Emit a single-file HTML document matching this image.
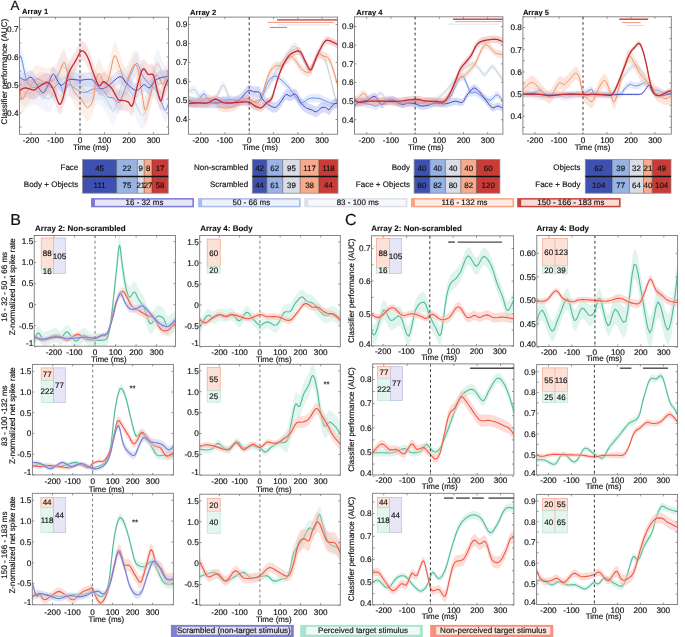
<!DOCTYPE html>
<html><head><meta charset="utf-8"><style>
html,body{margin:0;padding:0;background:#fff;width:685px;height:637px;overflow:hidden}
svg{display:block;font-family:"Liberation Sans", sans-serif;text-rendering:geometricPrecision;will-change:transform}
</style></head><body>
<svg width="685" height="637" viewBox="0 0 685 637" font-family='"Liberation Sans", sans-serif'>
<rect width="685" height="637" fill="#fff"/>
<defs><clipPath id="c19_17"><rect x="19.5" y="17.2" width="149.1" height="117.1"/></clipPath><clipPath id="c188_17"><rect x="188.4" y="17.1" width="149.2" height="117.1"/></clipPath><clipPath id="c354_16"><rect x="354.5" y="16.8" width="148.4" height="117.3"/></clipPath><clipPath id="c522_16"><rect x="522.9" y="16.8" width="148.4" height="117.3"/></clipPath><clipPath id="c34_235"><rect x="34.2" y="235.5" width="141.3" height="110.7"/></clipPath><clipPath id="c32_364"><rect x="32.4" y="364.4" width="141" height="110.5"/></clipPath><clipPath id="c32_493"><rect x="32.3" y="493.3" width="141.1" height="111.5"/></clipPath><clipPath id="c199_235"><rect x="199.7" y="235.5" width="140.6" height="110.9"/></clipPath><clipPath id="c199_364"><rect x="199.7" y="364.3" width="140.6" height="110.8"/></clipPath><clipPath id="c199_494"><rect x="199.7" y="494.2" width="140.6" height="110.9"/></clipPath><clipPath id="c371_235"><rect x="371.5" y="235.8" width="142.1" height="110.1"/></clipPath><clipPath id="c372_363"><rect x="372.6" y="363.9" width="141.3" height="111.1"/></clipPath><clipPath id="c372_493"><rect x="372.6" y="493.3" width="141.3" height="111.5"/></clipPath><clipPath id="c536_235"><rect x="536.8" y="235.5" width="140.8" height="111"/></clipPath><clipPath id="c536_364"><rect x="536.6" y="364.6" width="141" height="110.3"/></clipPath><clipPath id="c536_494"><rect x="536.6" y="494.4" width="141" height="110.1"/></clipPath></defs>
<text x="10.6" y="10.2" font-size="13.5" text-anchor="start" font-weight="normal" fill="#111" stroke="#111" stroke-width="0.16" >A</text>
<text x="22" y="14.4" font-size="7.6" text-anchor="start" font-weight="bold" fill="#111" stroke="#111" stroke-width="0.1" >Array 1</text>
<text x="190" y="15.1" font-size="7.6" text-anchor="start" font-weight="bold" fill="#111" stroke="#111" stroke-width="0.1" >Array 2</text>
<text x="356.3" y="14.6" font-size="7.6" text-anchor="start" font-weight="bold" fill="#111" stroke="#111" stroke-width="0.1" >Array 4</text>
<text x="522.9" y="14.6" font-size="7.6" text-anchor="start" font-weight="bold" fill="#111" stroke="#111" stroke-width="0.1" >Array 5</text>
<text x="0" y="0" font-size="8.1" text-anchor="middle" fill="#111" stroke="#111" stroke-width="0.16" transform="translate(6.6 71.6) rotate(-90)">Classifier performance (AUC)</text>
<g clip-path="url(#c19_17)">
<path d="M18.8 71.0L20.0 72.8L21.8 75.4L23.9 77.9L26.1 79.4L28.3 79.2L30.6 78.0L33.2 76.8L35.9 76.6L39.1 78.4L42.6 81.5L46.0 84.2L48.9 85.0L51.0 83.2L52.6 79.7L54.0 75.4L55.5 71.0L57.1 65.9L58.7 59.9L60.4 54.8L62.1 52.0L64.0 52.6L66.0 55.6L68.0 59.4L70.2 62.6L72.5 64.9L75.0 66.9L77.5 69.0L80.0 71.0L82.5 73.4L84.9 75.9L87.3 78.1L89.8 79.4L92.2 79.1L94.7 77.6L97.1 76.4L99.6 76.6L102.2 79.1L104.8 83.1L107.3 87.3L109.4 90.6L110.9 93.4L111.9 96.0L112.9 97.4L114.3 96.2L116.2 90.6L118.4 81.8L120.6 73.2L122.9 68.2L125.0 68.0L127.0 70.6L129.1 74.9L131.4 79.4L134.1 85.3L137.0 92.7L139.9 99.1L142.5 101.8L144.6 99.5L146.4 93.9L148.1 86.6L149.8 79.4L151.6 71.5L153.4 62.4L155.2 54.3L156.9 49.7L158.6 50.1L160.3 53.8L161.8 58.7L163.3 62.6L164.7 65.2L166.1 67.6L167.4 69.6L168.2 71.0L168.2 99.0L167.4 97.6L166.1 95.6L164.7 93.2L163.3 90.6L161.8 86.7L160.3 81.8L158.6 78.1L156.9 77.7L155.2 82.3L153.4 90.4L151.6 99.5L149.8 107.4L148.1 114.6L146.4 121.9L144.6 127.5L142.5 129.8L139.9 127.1L137.0 120.7L134.1 113.3L131.4 107.4L129.1 102.9L127.0 98.7L125.0 96.0L122.9 96.2L120.6 101.2L118.4 109.8L116.2 118.6L114.3 124.2L112.9 125.4L111.9 124.0L110.9 121.4L109.4 118.6L107.3 115.3L104.8 111.1L102.2 107.1L99.6 104.6L97.1 104.4L94.7 105.7L92.2 107.1L89.8 107.4L87.3 106.1L84.9 103.9L82.5 101.4L80.0 99.0L77.5 97.0L75.0 94.9L72.5 92.9L70.2 90.6L68.0 87.4L66.0 83.6L64.0 80.6L62.1 80.0L60.4 82.8L58.7 87.9L57.1 93.9L55.5 99.0L54.0 103.4L52.6 107.7L51.0 111.2L48.9 113.0L46.0 112.2L42.6 109.5L39.1 106.4L35.9 104.6L33.2 104.8L30.6 106.0L28.3 107.2L26.1 107.4L23.9 105.9L21.8 103.4L20.0 100.8L18.8 99.0Z" fill="#dfe6f2" fill-opacity="0.4" stroke="none"/>
<path d="M18.8 85.0L20.0 86.8L21.8 89.4L23.9 91.9L26.1 93.4L28.3 93.2L30.6 92.0L33.2 90.8L35.9 90.6L39.1 92.4L42.6 95.5L46.0 98.2L48.9 99.0L51.0 97.2L52.6 93.7L54.0 89.4L55.5 85.0L57.1 79.9L58.7 73.9L60.4 68.8L62.1 66.0L64.0 66.6L66.0 69.6L68.0 73.4L70.2 76.6L72.5 78.9L75.0 80.9L77.5 83.0L80.0 85.0L82.5 87.4L84.9 89.9L87.3 92.1L89.8 93.4L92.2 93.1L94.7 91.7L97.1 90.4L99.6 90.6L102.2 93.1L104.8 97.1L107.3 101.3L109.4 104.6L110.9 107.4L111.9 110.0L112.9 111.4L114.3 110.2L116.2 104.6L118.4 95.9L120.6 87.2L122.9 82.2L125.0 82.0L127.0 84.7L129.1 88.9L131.4 93.4L134.1 99.3L137.0 106.7L139.9 113.1L142.5 115.8L144.6 113.5L146.4 107.9L148.1 100.6L149.8 93.4L151.6 85.5L153.4 76.4L155.2 68.3L156.9 63.7L158.6 64.1L160.3 67.8L161.8 72.7L163.3 76.6L164.7 79.2L166.1 81.6L167.4 83.6L168.2 85.0" fill="none" stroke="#c4cbda" stroke-width="0.9" stroke-opacity="1.0" stroke-linejoin="round" stroke-linecap="round"/>
<path d="M18.8 43.0L19.3 43.7L20.1 44.7L21.0 46.2L21.9 48.6L22.8 52.3L23.7 57.1L24.7 62.0L25.6 66.0L26.5 68.7L27.4 70.8L28.3 72.4L29.3 73.8L30.4 75.0L31.5 76.0L32.7 76.5L33.9 76.6L35.3 75.9L36.8 74.4L38.3 73.0L39.8 72.1L41.3 72.0L42.8 72.3L44.3 72.9L45.9 73.5L47.7 74.3L49.6 75.4L51.5 76.3L53.3 76.6L55.0 75.7L56.6 74.0L58.1 72.4L59.4 72.1L60.6 73.9L61.6 77.1L62.6 80.2L63.6 81.6L64.7 80.6L65.8 78.0L67.0 75.2L68.2 73.5L69.6 73.5L71.1 74.3L72.6 75.5L74.1 76.6L75.6 77.5L77.1 78.6L78.5 79.5L80.0 80.2L81.4 80.7L82.9 81.1L84.3 81.2L85.9 81.1L87.5 80.5L89.2 79.6L91.0 78.6L93.0 78.0L95.2 77.6L97.6 77.3L100.0 77.4L102.0 78.0L103.7 79.5L105.2 81.7L106.5 83.9L107.9 85.6L109.4 86.3L110.9 86.5L112.4 86.5L113.8 87.0L115.2 88.3L116.6 90.0L117.9 91.4L119.2 91.4L120.5 89.7L121.7 86.6L123.0 83.0L124.3 79.4L125.7 75.8L127.2 72.0L128.7 68.2L130.2 64.6L131.9 60.7L133.6 56.6L135.3 53.4L136.8 52.0L138.2 53.1L139.4 56.2L140.7 60.0L142.0 63.2L143.4 65.6L144.9 68.0L146.5 70.1L148.1 72.1L149.9 73.6L151.8 74.8L153.7 76.1L155.5 78.0L157.1 81.0L158.8 84.6L160.3 88.3L161.6 91.4L162.7 94.2L163.6 96.8L164.4 98.8L165.3 99.6L166.2 98.5L167.2 96.0L168.1 93.3L168.7 91.4L168.7 113.8L168.1 115.7L167.2 118.4L166.2 120.9L165.3 122.0L164.4 121.2L163.6 119.2L162.7 116.6L161.6 113.8L160.3 110.7L158.8 107.0L157.1 103.4L155.5 100.4L153.7 98.5L151.8 97.2L149.9 96.0L148.1 94.5L146.5 92.5L144.9 90.4L143.4 88.0L142.0 85.6L140.7 82.4L139.4 78.6L138.2 75.5L136.8 74.4L135.3 75.8L133.6 79.0L131.9 83.1L130.2 87.0L128.7 90.6L127.2 94.4L125.7 98.2L124.3 101.8L123.0 105.4L121.7 109.0L120.5 112.1L119.2 113.8L117.9 113.8L116.6 112.4L115.2 110.7L113.8 109.4L112.4 108.9L110.9 108.9L109.4 108.7L107.9 108.0L106.5 106.3L105.2 104.1L103.7 101.9L102.0 100.4L100.0 99.8L97.6 99.7L95.2 100.0L93.0 100.4L91.0 101.0L89.2 102.0L87.5 102.9L85.9 103.5L84.3 103.6L82.9 103.5L81.4 103.1L80.0 102.6L78.5 101.9L77.1 101.0L75.6 99.9L74.1 99.0L72.6 97.9L71.1 96.7L69.6 95.9L68.2 95.9L67.0 97.6L65.8 100.4L64.7 103.0L63.6 104.0L62.6 102.6L61.6 99.5L60.6 96.3L59.4 94.5L58.1 94.8L56.6 96.4L55.0 98.1L53.3 99.0L51.5 98.7L49.6 97.8L47.7 96.7L45.9 95.9L44.3 95.3L42.8 94.7L41.3 94.4L39.8 94.5L38.3 95.4L36.8 96.8L35.3 98.3L33.9 99.0L32.7 98.9L31.5 98.4L30.4 97.4L29.3 96.2L28.3 94.8L27.4 93.2L26.5 91.1L25.6 88.4L24.7 84.4L23.7 79.5L22.8 74.7L21.9 71.0L21.0 68.6L20.1 67.1L19.3 66.1L18.8 65.4Z" fill="#c5d3f7" fill-opacity="0.3" stroke="none"/>
<path d="M18.8 54.2L19.3 54.9L20.1 55.9L21.0 57.4L21.9 59.8L22.8 63.5L23.7 68.3L24.7 73.2L25.6 77.2L26.5 79.9L27.4 82.0L28.3 83.6L29.3 85.0L30.4 86.2L31.5 87.2L32.7 87.7L33.9 87.8L35.3 87.1L36.8 85.6L38.3 84.2L39.8 83.3L41.3 83.2L42.8 83.5L44.3 84.1L45.9 84.7L47.7 85.5L49.6 86.6L51.5 87.5L53.3 87.8L55.0 86.9L56.6 85.2L58.1 83.6L59.4 83.3L60.6 85.1L61.6 88.3L62.6 91.4L63.6 92.8L64.7 91.8L65.8 89.2L67.0 86.4L68.2 84.7L69.6 84.7L71.1 85.5L72.6 86.7L74.1 87.8L75.6 88.7L77.1 89.8L78.5 90.7L80.0 91.4L81.4 91.9L82.9 92.3L84.3 92.4L85.9 92.3L87.5 91.7L89.2 90.8L91.0 89.8L93.0 89.2L95.2 88.8L97.6 88.5L100.0 88.6L102.0 89.2L103.7 90.7L105.2 92.9L106.5 95.1L107.9 96.8L109.4 97.5L110.9 97.7L112.4 97.7L113.8 98.2L115.2 99.5L116.6 101.2L117.9 102.6L119.2 102.6L120.5 100.9L121.7 97.8L123.0 94.2L124.3 90.6L125.7 87.0L127.2 83.2L128.7 79.4L130.2 75.8L131.9 71.9L133.6 67.8L135.3 64.6L136.8 63.2L138.2 64.3L139.4 67.4L140.7 71.2L142.0 74.4L143.4 76.8L144.9 79.2L146.5 81.3L148.1 83.3L149.9 84.8L151.8 86.0L153.7 87.3L155.5 89.2L157.1 92.2L158.8 95.8L160.3 99.5L161.6 102.6L162.7 105.4L163.6 108.0L164.4 110.0L165.3 110.8L166.2 109.7L167.2 107.2L168.1 104.5L168.7 102.6" fill="none" stroke="#5b8cf2" stroke-width="1.0" stroke-opacity="1.0" stroke-linejoin="round" stroke-linecap="round"/>
<path d="M18.8 67.6L19.3 71.3L20.1 76.7L21.0 81.9L21.9 85.0L22.9 85.1L24.0 83.3L25.1 80.7L26.3 78.3L27.8 76.1L29.4 73.7L31.0 71.3L32.5 69.3L33.6 67.7L34.6 66.3L35.6 65.3L36.9 64.8L38.5 65.1L40.3 66.0L42.2 67.1L44.2 67.6L46.4 67.7L48.8 67.6L51.2 67.2L53.3 66.2L55.1 64.7L56.6 62.7L58.1 60.4L59.4 58.1L60.7 55.4L61.8 52.3L62.9 49.6L63.8 48.3L64.7 48.7L65.3 50.2L66.0 52.4L66.8 55.0L67.6 58.2L68.5 62.0L69.4 65.8L70.4 69.3L71.6 72.3L72.9 75.0L74.2 77.5L75.6 79.7L77.0 81.4L78.5 82.8L80.0 84.0L81.5 85.6L82.9 87.8L84.4 90.5L85.9 92.7L87.3 93.7L88.8 93.1L90.4 91.3L91.8 88.8L93.0 85.6L93.9 81.2L94.6 75.8L95.2 70.4L95.9 66.2L96.8 63.3L97.6 61.0L98.5 59.6L99.6 59.5L100.8 61.5L102.2 65.3L103.7 68.9L105.0 70.7L106.1 70.2L107.2 68.2L108.3 65.3L109.4 61.8L110.6 56.8L111.9 50.4L113.2 44.6L114.5 41.6L115.9 42.3L117.2 45.5L118.6 49.7L119.9 53.6L121.2 57.5L122.6 61.9L123.8 65.6L125.1 67.6L126.3 67.2L127.5 65.0L128.6 62.1L129.7 59.5L130.9 57.0L132.0 54.3L133.1 51.9L134.1 50.6L135.1 50.2L136.0 50.5L136.8 52.0L137.8 55.0L139.0 60.7L140.2 68.3L141.4 76.3L142.5 82.8L143.3 87.7L144.0 92.0L144.6 95.0L145.4 96.2L146.4 95.2L147.5 92.3L148.6 88.4L149.8 84.2L151.1 79.1L152.4 72.9L153.8 67.2L155.0 63.2L156.0 61.4L156.9 61.1L157.7 61.7L158.6 62.6L159.7 64.5L160.8 67.4L161.9 69.9L163.1 70.7L164.4 68.7L165.9 64.9L167.3 60.9L168.2 58.1L168.2 86.1L167.3 88.9L165.9 92.9L164.4 96.7L163.1 98.7L161.9 97.9L160.8 95.4L159.7 92.5L158.6 90.6L157.7 89.7L156.9 89.1L156.0 89.4L155.0 91.2L153.8 95.2L152.4 100.9L151.1 107.1L149.8 112.2L148.6 116.4L147.5 120.3L146.4 123.2L145.4 124.2L144.6 123.0L144.0 120.0L143.3 115.7L142.5 110.8L141.4 104.3L140.2 96.3L139.0 88.7L137.8 83.0L136.8 80.0L136.0 78.5L135.1 78.2L134.1 78.6L133.1 79.9L132.0 82.3L130.9 85.0L129.7 87.5L128.6 90.1L127.5 93.0L126.3 95.2L125.1 95.6L123.8 93.6L122.6 89.9L121.2 85.5L119.9 81.6L118.6 77.7L117.2 73.5L115.9 70.3L114.5 69.6L113.2 72.6L111.9 78.4L110.6 84.8L109.4 89.8L108.3 93.3L107.2 96.2L106.1 98.2L105.0 98.7L103.7 96.9L102.2 93.3L100.8 89.5L99.6 87.5L98.5 87.6L97.6 89.0L96.8 91.3L95.9 94.2L95.2 98.4L94.6 103.8L93.9 109.2L93.0 113.6L91.8 116.8L90.4 119.3L88.8 121.1L87.3 121.7L85.9 120.7L84.4 118.5L82.9 115.8L81.5 113.6L80.0 112.0L78.5 110.8L77.0 109.4L75.6 107.7L74.2 105.5L72.9 103.0L71.6 100.3L70.4 97.3L69.4 93.8L68.5 90.0L67.6 86.2L66.8 83.0L66.0 80.4L65.3 78.2L64.7 76.7L63.8 76.3L62.9 77.6L61.8 80.3L60.7 83.4L59.4 86.1L58.1 88.4L56.6 90.7L55.1 92.7L53.3 94.2L51.2 95.2L48.8 95.6L46.4 95.7L44.2 95.6L42.2 95.1L40.3 94.0L38.5 93.1L36.9 92.8L35.6 93.3L34.6 94.3L33.6 95.7L32.5 97.3L31.0 99.3L29.4 101.7L27.8 104.1L26.3 106.3L25.1 108.7L24.0 111.3L22.9 113.1L21.9 113.0L21.0 109.9L20.1 104.7L19.3 99.3L18.8 95.6Z" fill="#f8c8b0" fill-opacity="0.28" stroke="none"/>
<path d="M18.8 81.6L19.3 85.3L20.1 90.7L21.0 95.9L21.9 99.0L22.9 99.1L24.0 97.3L25.1 94.7L26.3 92.3L27.8 90.1L29.4 87.7L31.0 85.3L32.5 83.3L33.6 81.7L34.6 80.3L35.6 79.3L36.9 78.8L38.5 79.1L40.3 80.0L42.2 81.1L44.2 81.6L46.4 81.7L48.8 81.6L51.2 81.2L53.3 80.2L55.1 78.7L56.6 76.7L58.1 74.4L59.4 72.1L60.7 69.4L61.8 66.3L62.9 63.6L63.8 62.3L64.7 62.7L65.3 64.2L66.0 66.4L66.8 69.0L67.6 72.2L68.5 76.0L69.4 79.8L70.4 83.3L71.6 86.3L72.9 89.0L74.2 91.5L75.6 93.7L77.0 95.4L78.5 96.8L80.0 98.0L81.5 99.6L82.9 101.8L84.4 104.5L85.9 106.7L87.3 107.7L88.8 107.1L90.4 105.3L91.8 102.8L93.0 99.6L93.9 95.2L94.6 89.8L95.2 84.4L95.9 80.2L96.8 77.3L97.6 75.0L98.5 73.6L99.6 73.5L100.8 75.5L102.2 79.3L103.7 82.9L105.0 84.7L106.1 84.2L107.2 82.2L108.3 79.3L109.4 75.8L110.6 70.8L111.9 64.4L113.2 58.6L114.5 55.6L115.9 56.3L117.2 59.5L118.6 63.7L119.9 67.6L121.2 71.5L122.6 75.9L123.8 79.6L125.1 81.6L126.3 81.2L127.5 79.0L128.6 76.1L129.7 73.5L130.9 71.0L132.0 68.3L133.1 65.9L134.1 64.6L135.1 64.2L136.0 64.5L136.8 66.0L137.8 69.0L139.0 74.7L140.2 82.3L141.4 90.3L142.5 96.8L143.3 101.7L144.0 106.0L144.6 109.0L145.4 110.2L146.4 109.2L147.5 106.3L148.6 102.4L149.8 98.2L151.1 93.1L152.4 86.9L153.8 81.2L155.0 77.2L156.0 75.4L156.9 75.1L157.7 75.7L158.6 76.6L159.7 78.5L160.8 81.4L161.9 83.9L163.1 84.7L164.4 82.7L165.9 78.9L167.3 74.9L168.2 72.1" fill="none" stroke="#f38e66" stroke-width="1.0" stroke-opacity="1.0" stroke-linejoin="round" stroke-linecap="round"/>
<path d="M18.8 69.6L19.9 70.4L21.4 71.6L23.2 72.7L24.9 73.2L26.4 72.7L28.0 71.5L29.5 70.3L31.0 70.2L32.5 71.3L33.9 73.2L35.4 75.5L36.9 77.7L38.4 80.1L40.0 82.8L41.5 84.9L43.0 85.8L44.4 85.0L45.6 83.0L46.9 80.3L48.2 77.7L49.4 74.7L50.6 71.2L51.9 68.3L53.3 67.1L54.9 68.5L56.6 71.8L58.4 75.4L59.9 77.7L61.1 78.3L62.2 77.9L63.2 77.1L64.3 76.3L65.5 75.4L66.6 74.2L68.0 73.1L69.7 72.4L72.0 72.3L74.7 72.6L77.5 73.0L80.0 73.2L82.1 73.1L84.0 72.8L85.7 72.5L87.3 72.4L88.8 72.3L90.2 72.3L91.5 72.5L93.0 73.2L94.7 75.0L96.5 77.5L98.4 79.9L100.3 81.4L102.1 81.7L103.8 81.3L105.7 80.4L107.9 79.1L110.7 76.9L114.0 73.8L117.2 71.0L119.9 69.6L121.9 70.1L123.4 71.9L124.8 74.2L126.5 76.3L128.8 78.4L131.4 80.7L134.0 82.7L136.3 83.6L138.4 82.8L140.3 80.9L142.0 78.9L143.7 77.7L145.3 78.1L146.7 79.4L148.1 80.6L149.6 80.8L151.0 79.6L152.4 77.4L153.9 75.1L155.5 73.2L157.3 72.1L159.3 71.3L161.3 70.6L163.1 70.2L164.7 69.8L166.3 69.7L167.7 69.6L168.7 69.6L168.7 83.6L167.7 83.6L166.3 83.7L164.7 83.8L163.1 84.2L161.3 84.6L159.3 85.3L157.3 86.1L155.5 87.2L153.9 89.1L152.4 91.4L151.0 93.6L149.6 94.8L148.1 94.6L146.7 93.4L145.3 92.1L143.7 91.7L142.0 92.9L140.3 94.9L138.4 96.8L136.3 97.6L134.0 96.7L131.4 94.7L128.8 92.4L126.5 90.3L124.8 88.2L123.4 85.9L121.9 84.1L119.9 83.6L117.2 85.0L114.0 87.8L110.7 90.9L107.9 93.1L105.7 94.4L103.8 95.3L102.1 95.7L100.3 95.4L98.4 93.9L96.5 91.5L94.7 89.0L93.0 87.2L91.5 86.5L90.2 86.3L88.8 86.3L87.3 86.4L85.7 86.5L84.0 86.8L82.1 87.1L80.0 87.2L77.5 87.0L74.7 86.6L72.0 86.3L69.7 86.4L68.0 87.1L66.6 88.2L65.5 89.4L64.3 90.3L63.2 91.1L62.2 91.9L61.1 92.3L59.9 91.7L58.4 89.4L56.6 85.8L54.9 82.5L53.3 81.1L51.9 82.3L50.6 85.2L49.4 88.7L48.2 91.7L46.9 94.3L45.6 97.0L44.4 99.0L43.0 99.8L41.5 98.9L40.0 96.8L38.4 94.1L36.9 91.7L35.4 89.5L33.9 87.2L32.5 85.3L31.0 84.2L29.5 84.3L28.0 85.5L26.4 86.7L24.9 87.2L23.2 86.7L21.4 85.6L19.9 84.4L18.8 83.6Z" fill="#a8b0e8" fill-opacity="0.3" stroke="none"/>
<path d="M18.8 76.6L19.9 77.4L21.4 78.6L23.2 79.7L24.9 80.2L26.4 79.7L28.0 78.5L29.5 77.3L31.0 77.2L32.5 78.3L33.9 80.2L35.4 82.5L36.9 84.7L38.4 87.1L40.0 89.8L41.5 91.9L43.0 92.8L44.4 92.0L45.6 90.0L46.9 87.3L48.2 84.7L49.4 81.7L50.6 78.2L51.9 75.3L53.3 74.1L54.9 75.5L56.6 78.8L58.4 82.4L59.9 84.7L61.1 85.3L62.2 84.9L63.2 84.1L64.3 83.3L65.5 82.4L66.6 81.2L68.0 80.1L69.7 79.4L72.0 79.3L74.7 79.6L77.5 80.0L80.0 80.2L82.1 80.1L84.0 79.8L85.7 79.5L87.3 79.4L88.8 79.3L90.2 79.3L91.5 79.5L93.0 80.2L94.7 82.0L96.5 84.5L98.4 86.9L100.3 88.4L102.1 88.7L103.8 88.3L105.7 87.4L107.9 86.1L110.7 83.9L114.0 80.8L117.2 78.0L119.9 76.6L121.9 77.1L123.4 78.9L124.8 81.2L126.5 83.3L128.8 85.4L131.4 87.7L134.0 89.7L136.3 90.6L138.4 89.8L140.3 87.9L142.0 85.9L143.7 84.7L145.3 85.1L146.7 86.4L148.1 87.6L149.6 87.8L151.0 86.6L152.4 84.4L153.9 82.1L155.5 80.2L157.3 79.1L159.3 78.3L161.3 77.6L163.1 77.2L164.7 76.8L166.3 76.7L167.7 76.6L168.7 76.6" fill="none" stroke="#3b4cc0" stroke-width="1.0" stroke-opacity="1.0" stroke-linejoin="round" stroke-linecap="round"/>
<path d="M18.8 81.6L19.8 80.8L21.2 79.7L23.0 78.6L24.9 78.0L27.0 78.3L29.5 79.1L31.9 79.9L33.9 80.2L35.3 79.9L36.1 79.1L37.0 78.2L38.4 77.2L40.4 75.9L42.8 74.3L45.3 73.0L47.4 72.7L49.1 73.4L50.5 74.8L51.9 76.9L53.3 79.4L54.8 83.2L56.4 88.0L58.0 92.3L59.4 94.5L60.6 94.2L61.7 92.1L62.8 89.0L63.8 85.3L64.9 80.7L65.9 75.2L66.9 69.5L68.2 64.6L69.9 60.6L71.8 57.2L73.8 54.1L75.6 51.1L77.2 48.0L78.6 44.9L80.0 42.4L81.5 41.0L82.9 41.1L84.4 42.2L85.9 44.2L87.3 46.6L88.8 49.9L90.2 54.0L91.6 58.3L93.0 62.3L94.5 66.2L96.0 70.3L97.5 73.7L98.9 75.8L100.1 75.8L101.3 74.4L102.4 72.7L103.5 71.8L104.6 72.1L105.7 72.9L106.8 73.9L107.9 74.9L109.0 75.8L110.0 76.7L111.1 77.8L112.3 79.4L113.7 81.8L115.3 84.8L116.8 87.7L118.2 89.8L119.5 90.6L120.6 90.7L121.7 90.6L122.9 90.6L124.1 90.9L125.5 91.1L126.8 91.5L128.0 92.0L129.2 93.3L130.2 95.2L131.3 96.4L132.4 95.6L133.7 92.1L134.9 86.5L136.3 80.3L137.6 74.9L138.9 70.2L140.3 65.5L141.6 61.6L143.0 59.2L144.3 59.2L145.6 60.9L146.8 63.1L148.1 64.6L149.4 64.7L150.8 64.3L152.1 64.1L153.3 65.1L154.3 67.8L155.2 71.6L156.0 75.7L156.9 79.4L157.9 83.1L158.9 87.0L159.9 90.0L160.8 91.2L161.8 89.5L162.7 85.8L163.6 81.5L164.5 78.0L165.5 75.4L166.6 73.0L167.5 71.0L168.2 69.6L168.2 89.2L167.5 90.6L166.6 92.6L165.5 95.0L164.5 97.6L163.6 101.1L162.7 105.4L161.8 109.1L160.8 110.8L159.9 109.6L158.9 106.6L157.9 102.7L156.9 99.0L156.0 95.3L155.2 91.2L154.3 87.4L153.3 84.7L152.1 83.7L150.8 83.9L149.4 84.3L148.1 84.2L146.8 82.7L145.6 80.5L144.3 78.8L143.0 78.8L141.6 81.2L140.3 85.1L138.9 89.8L137.6 94.5L136.3 99.9L134.9 106.1L133.7 111.7L132.4 115.2L131.3 116.0L130.2 114.8L129.2 112.9L128.0 111.6L126.8 111.1L125.5 110.7L124.1 110.5L122.9 110.2L121.7 110.2L120.6 110.3L119.5 110.2L118.2 109.4L116.8 107.3L115.3 104.4L113.7 101.4L112.3 99.0L111.1 97.4L110.0 96.3L109.0 95.4L107.9 94.5L106.8 93.5L105.7 92.5L104.6 91.7L103.5 91.4L102.4 92.3L101.3 94.0L100.1 95.4L98.9 95.4L97.5 93.3L96.0 89.9L94.5 85.8L93.0 81.9L91.6 77.9L90.2 73.6L88.8 69.5L87.3 66.2L85.9 63.8L84.4 61.8L82.9 60.7L81.5 60.6L80.0 62.0L78.6 64.5L77.2 67.6L75.6 70.7L73.8 73.7L71.8 76.8L69.9 80.2L68.2 84.2L66.9 89.1L65.9 94.8L64.9 100.3L63.8 104.9L62.8 108.6L61.7 111.7L60.6 113.8L59.4 114.1L58.0 111.9L56.4 107.6L54.8 102.8L53.3 99.0L51.9 96.5L50.5 94.4L49.1 93.0L47.4 92.3L45.3 92.6L42.8 93.9L40.4 95.5L38.4 96.8L37.0 97.8L36.1 98.7L35.3 99.5L33.9 99.8L31.9 99.5L29.5 98.7L27.0 97.9L24.9 97.6L23.0 98.2L21.2 99.3L19.8 100.4L18.8 101.2Z" fill="#e8a0a0" fill-opacity="0.3" stroke="none"/>
<path d="M18.8 91.4L19.8 90.6L21.2 89.5L23.0 88.4L24.9 87.8L27.0 88.1L29.5 88.9L31.9 89.7L33.9 90.0L35.3 89.7L36.1 88.9L37.0 88.0L38.4 87.0L40.4 85.7L42.8 84.1L45.3 82.8L47.4 82.5L49.1 83.2L50.5 84.6L51.9 86.7L53.3 89.2L54.8 93.0L56.4 97.8L58.0 102.1L59.4 104.3L60.6 104.0L61.7 101.9L62.8 98.8L63.8 95.1L64.9 90.5L65.9 85.0L66.9 79.3L68.2 74.4L69.9 70.4L71.8 67.0L73.8 63.9L75.6 60.9L77.2 57.8L78.6 54.7L80.0 52.2L81.5 50.8L82.9 50.9L84.4 52.0L85.9 54.0L87.3 56.4L88.8 59.7L90.2 63.8L91.6 68.1L93.0 72.1L94.5 76.0L96.0 80.1L97.5 83.5L98.9 85.6L100.1 85.6L101.3 84.2L102.4 82.5L103.5 81.6L104.6 81.9L105.7 82.7L106.8 83.7L107.9 84.7L109.0 85.6L110.0 86.5L111.1 87.6L112.3 89.2L113.7 91.6L115.3 94.6L116.8 97.5L118.2 99.6L119.5 100.4L120.6 100.5L121.7 100.4L122.9 100.4L124.1 100.7L125.5 100.9L126.8 101.3L128.0 101.8L129.2 103.1L130.2 105.0L131.3 106.2L132.4 105.4L133.7 101.9L134.9 96.3L136.3 90.1L137.6 84.7L138.9 80.0L140.3 75.3L141.6 71.4L143.0 69.0L144.3 69.0L145.6 70.7L146.8 72.9L148.1 74.4L149.4 74.5L150.8 74.1L152.1 73.9L153.3 74.9L154.3 77.6L155.2 81.4L156.0 85.5L156.9 89.2L157.9 92.9L158.9 96.8L159.9 99.8L160.8 101.0L161.8 99.3L162.7 95.6L163.6 91.3L164.5 87.8L165.5 85.2L166.6 82.8L167.5 80.8L168.2 79.4" fill="none" stroke="#c42a2e" stroke-width="1.3" stroke-opacity="1.0" stroke-linejoin="round" stroke-linecap="round"/>
</g>
<line x1="80" y1="17.2" x2="80" y2="134.3" stroke="#3a3a3a" stroke-width="1.0" stroke-dasharray="2.7,2.6"/>
<rect x="19.5" y="17.2" width="149.1" height="117.1" fill="none" stroke="#7a7a7a" stroke-width="0.9"/>
<path d="M31 134.3v-2.0M31 17.2v2.0M55.5 134.3v-2.0M55.5 17.2v2.0M80 134.3v-2.0M80 17.2v2.0M104.5 134.3v-2.0M104.5 17.2v2.0M129 134.3v-2.0M129 17.2v2.0M153.5 134.3v-2.0M153.5 17.2v2.0" stroke="#7a7a7a" stroke-width="0.8" fill="none"/>
<text x="31" y="142.7" font-size="8.2" text-anchor="middle" font-weight="normal" fill="#111" stroke="#111" stroke-width="0.16" >-200</text>
<text x="55.5" y="142.7" font-size="8.2" text-anchor="middle" font-weight="normal" fill="#111" stroke="#111" stroke-width="0.16" >-100</text>
<text x="80" y="142.7" font-size="8.2" text-anchor="middle" font-weight="normal" fill="#111" stroke="#111" stroke-width="0.16" >0</text>
<text x="104.5" y="142.7" font-size="8.2" text-anchor="middle" font-weight="normal" fill="#111" stroke="#111" stroke-width="0.16" >100</text>
<text x="129" y="142.7" font-size="8.2" text-anchor="middle" font-weight="normal" fill="#111" stroke="#111" stroke-width="0.16" >200</text>
<text x="153.5" y="142.7" font-size="8.2" text-anchor="middle" font-weight="normal" fill="#111" stroke="#111" stroke-width="0.16" >300</text>
<path d="M19.5 127h2.0M168.6 127h-2.0M19.5 113h2.0M168.6 113h-2.0M19.5 99h2.0M168.6 99h-2.0M19.5 85h2.0M168.6 85h-2.0M19.5 71h2.0M168.6 71h-2.0M19.5 57h2.0M168.6 57h-2.0M19.5 43h2.0M168.6 43h-2.0M19.5 29h2.0M168.6 29h-2.0" stroke="#7a7a7a" stroke-width="0.8" fill="none"/>
<text x="18.5" y="115.8" font-size="8.2" text-anchor="end" font-weight="normal" fill="#111" stroke="#111" stroke-width="0.16" >0.4</text>
<text x="18.5" y="87.8" font-size="8.2" text-anchor="end" font-weight="normal" fill="#111" stroke="#111" stroke-width="0.16" >0.5</text>
<text x="18.5" y="59.8" font-size="8.2" text-anchor="end" font-weight="normal" fill="#111" stroke="#111" stroke-width="0.16" >0.6</text>
<text x="18.5" y="31.8" font-size="8.2" text-anchor="end" font-weight="normal" fill="#111" stroke="#111" stroke-width="0.16" >0.7</text>
<text x="90.8" y="150.3" font-size="8.0" text-anchor="middle" font-weight="normal" fill="#111" stroke="#111" stroke-width="0.16" >Time (ms)</text>
<g clip-path="url(#c188_17)">
<path d="M188.0 88.7L189.1 87.9L190.6 86.7L192.3 85.8L194.0 85.7L195.4 86.8L196.8 88.8L198.3 91.1L199.9 93.1L201.6 95.0L203.5 96.9L205.4 98.5L207.4 99.1L209.6 98.6L211.9 97.2L214.2 95.3L216.3 93.1L218.2 90.0L219.9 86.1L221.5 82.8L223.0 81.2L224.4 82.3L225.8 85.3L227.0 88.8L228.2 91.6L229.3 93.6L230.3 95.4L231.4 96.7L232.7 97.6L234.3 97.6L236.2 96.9L238.1 96.2L240.2 96.1L242.4 96.8L244.8 98.1L247.1 99.4L249.1 100.6L250.5 101.5L251.5 102.4L252.5 103.2L253.6 103.6L255.0 103.7L256.7 103.6L258.3 103.1L259.5 102.1L260.3 100.4L260.7 98.2L261.1 95.7L262.0 93.1L263.5 90.4L265.4 87.5L267.5 84.5L269.5 81.2L271.3 77.6L273.2 73.8L275.0 69.9L276.9 66.3L278.7 63.1L280.5 60.2L282.3 57.3L284.4 54.4L286.7 51.0L289.3 47.3L291.9 44.2L294.0 42.5L295.6 42.6L296.9 43.9L298.0 46.1L299.3 48.4L300.7 51.1L302.2 54.4L303.8 57.7L305.2 60.3L306.5 62.5L307.8 64.5L309.0 65.7L310.4 65.6L312.1 63.4L313.8 59.6L315.6 55.7L317.1 52.9L318.4 51.5L319.5 50.9L320.5 50.9L321.6 51.4L322.7 52.4L323.8 54.0L325.0 56.1L326.1 58.8L327.2 62.2L328.3 66.2L329.4 70.6L330.6 75.2L331.9 80.6L333.3 86.6L334.7 92.1L335.8 96.1L336.6 97.9L337.2 98.2L337.7 97.8L338.0 97.6L338.0 105.2L337.7 105.4L337.2 105.8L336.6 105.5L335.8 103.7L334.7 99.7L333.3 94.2L331.9 88.2L330.6 82.8L329.4 78.2L328.3 73.8L327.2 69.8L326.1 66.4L325.0 63.7L323.8 61.6L322.7 60.0L321.6 59.0L320.5 58.5L319.5 58.5L318.4 59.1L317.1 60.5L315.6 63.3L313.8 67.2L312.1 71.0L310.4 73.2L309.0 73.3L307.8 72.1L306.5 70.1L305.2 67.9L303.8 65.3L302.2 62.0L300.7 58.7L299.3 56.0L298.0 53.7L296.9 51.5L295.6 50.2L294.0 50.1L291.9 51.8L289.3 54.9L286.7 58.6L284.4 62.0L282.3 64.9L280.5 67.8L278.7 70.7L276.9 73.9L275.0 77.5L273.2 81.4L271.3 85.2L269.5 88.8L267.5 92.1L265.4 95.1L263.5 98.0L262.0 100.7L261.1 103.3L260.7 105.8L260.3 108.0L259.5 109.7L258.3 110.7L256.7 111.2L255.0 111.3L253.6 111.2L252.5 110.8L251.5 110.0L250.5 109.1L249.1 108.2L247.1 107.0L244.8 105.7L242.4 104.4L240.2 103.7L238.1 103.8L236.2 104.5L234.3 105.2L232.7 105.2L231.4 104.3L230.3 103.0L229.3 101.2L228.2 99.2L227.0 96.4L225.8 92.9L224.4 89.9L223.0 88.8L221.5 90.4L219.9 93.7L218.2 97.6L216.3 100.7L214.2 102.9L211.9 104.8L209.6 106.2L207.4 106.7L205.4 106.1L203.5 104.5L201.6 102.6L199.9 100.7L198.3 98.7L196.8 96.4L195.4 94.4L194.0 93.3L192.3 93.4L190.6 94.3L189.1 95.5L188.0 96.3Z" fill="#dfe6f2" fill-opacity="0.5" stroke="none"/>
<path d="M188.0 92.5L189.1 91.7L190.6 90.5L192.3 89.6L194.0 89.5L195.4 90.6L196.8 92.6L198.3 94.9L199.9 96.9L201.6 98.8L203.5 100.7L205.4 102.3L207.4 102.9L209.6 102.4L211.9 101.0L214.2 99.1L216.3 96.9L218.2 93.8L219.9 89.9L221.5 86.6L223.0 85.0L224.4 86.1L225.8 89.1L227.0 92.6L228.2 95.4L229.3 97.4L230.3 99.2L231.4 100.5L232.7 101.4L234.3 101.4L236.2 100.7L238.1 100.0L240.2 99.9L242.4 100.6L244.8 101.9L247.1 103.2L249.1 104.4L250.5 105.3L251.5 106.2L252.5 107.0L253.6 107.4L255.0 107.5L256.7 107.4L258.3 106.9L259.5 105.9L260.3 104.2L260.7 102.0L261.1 99.5L262.0 96.9L263.5 94.2L265.4 91.3L267.5 88.3L269.5 85.0L271.3 81.4L273.2 77.6L275.0 73.7L276.9 70.1L278.7 66.9L280.5 64.0L282.3 61.1L284.4 58.2L286.7 54.8L289.3 51.1L291.9 48.0L294.0 46.3L295.6 46.4L296.9 47.7L298.0 49.9L299.3 52.2L300.7 54.9L302.2 58.2L303.8 61.5L305.2 64.1L306.5 66.3L307.8 68.3L309.0 69.5L310.4 69.4L312.1 67.2L313.8 63.4L315.6 59.5L317.1 56.7L318.4 55.3L319.5 54.7L320.5 54.7L321.6 55.2L322.7 56.2L323.8 57.8L325.0 59.9L326.1 62.6L327.2 66.0L328.3 70.0L329.4 74.4L330.6 79.0L331.9 84.4L333.3 90.4L334.7 95.9L335.8 99.9L336.6 101.7L337.2 102.0L337.7 101.6L338.0 101.4" fill="none" stroke="#c4cbda" stroke-width="0.9" stroke-opacity="1.0" stroke-linejoin="round" stroke-linecap="round"/>
<path d="M188.0 95.7L189.7 96.2L192.1 96.9L194.7 97.4L196.9 97.2L198.8 95.7L200.5 93.2L202.1 90.9L203.6 89.8L205.0 90.4L206.1 92.2L207.3 94.2L208.9 95.7L210.9 96.5L213.2 96.9L215.6 97.2L217.8 97.2L219.8 97.0L221.6 96.6L223.4 96.1L225.3 95.7L227.1 95.6L229.0 95.5L230.8 95.6L232.7 95.7L234.6 96.1L236.4 96.6L238.3 97.0L240.2 97.2L242.0 97.0L243.9 96.5L245.7 96.0L247.6 95.7L249.5 96.0L251.4 96.7L253.2 97.2L255.1 97.2L256.9 96.8L258.6 96.0L260.3 94.7L262.0 92.7L263.5 89.5L265.0 85.4L266.4 81.2L268.0 77.8L269.6 75.5L271.4 73.7L273.1 72.5L274.7 71.9L276.0 71.9L277.3 72.6L278.5 73.7L279.9 74.9L281.5 76.1L283.2 77.6L284.9 79.2L286.6 80.8L288.1 82.5L289.6 84.4L291.1 86.3L292.6 88.3L294.1 90.6L295.7 93.1L297.2 95.5L298.5 97.2L299.5 98.3L300.3 98.8L301.1 98.9L302.2 98.7L303.8 97.9L305.6 96.6L307.6 95.2L309.7 94.2L311.9 93.9L314.3 93.8L316.6 94.0L318.6 94.2L320.3 94.6L321.7 95.2L323.1 95.8L324.6 96.5L326.4 97.2L328.3 98.1L330.3 98.9L332.0 99.4L333.8 99.5L335.5 99.3L337.0 98.9L338.0 98.7L338.0 107.1L337.0 107.3L335.5 107.6L333.8 107.9L332.0 107.8L330.3 107.3L328.3 106.5L326.4 105.6L324.6 104.8L323.1 104.2L321.7 103.5L320.3 103.0L318.6 102.6L316.6 102.3L314.3 102.2L311.9 102.2L309.7 102.6L307.6 103.5L305.6 104.9L303.8 106.3L302.2 107.1L301.1 107.3L300.3 107.2L299.5 106.6L298.5 105.6L297.2 103.8L295.7 101.5L294.1 98.9L292.6 96.6L291.1 94.6L289.6 92.7L288.1 90.9L286.6 89.2L284.9 87.5L283.2 85.9L281.5 84.5L279.9 83.2L278.5 82.1L277.3 81.0L276.0 80.3L274.7 80.2L273.1 80.9L271.4 82.1L269.6 83.9L268.0 86.2L266.4 89.5L265.0 93.7L263.5 97.9L262.0 101.1L260.3 103.1L258.6 104.4L256.9 105.1L255.1 105.6L253.2 105.6L251.4 105.0L249.5 104.4L247.6 104.1L245.7 104.3L243.9 104.8L242.0 105.3L240.2 105.6L238.3 105.4L236.4 104.9L234.6 104.4L232.7 104.1L230.8 103.9L229.0 103.9L227.1 103.9L225.3 104.1L223.4 104.4L221.6 104.9L219.8 105.4L217.8 105.6L215.6 105.5L213.2 105.3L210.9 104.8L208.9 104.1L207.3 102.6L206.1 100.5L205.0 98.8L203.6 98.1L202.1 99.3L200.5 101.6L198.8 104.0L196.9 105.6L194.7 105.8L192.1 105.3L189.7 104.6L188.0 104.1Z" fill="#c5d3f7" fill-opacity="0.45" stroke="none"/>
<path d="M188.0 99.9L189.7 100.4L192.1 101.1L194.7 101.6L196.9 101.4L198.8 99.8L200.5 97.4L202.1 95.1L203.6 93.9L205.0 94.6L206.1 96.4L207.3 98.4L208.9 99.9L210.9 100.7L213.2 101.1L215.6 101.3L217.8 101.4L219.8 101.2L221.6 100.7L223.4 100.2L225.3 99.9L227.1 99.8L229.0 99.7L230.8 99.8L232.7 99.9L234.6 100.2L236.4 100.7L238.3 101.2L240.2 101.4L242.0 101.2L243.9 100.6L245.7 100.1L247.6 99.9L249.5 100.2L251.4 100.8L253.2 101.4L255.1 101.4L256.9 100.9L258.6 100.2L260.3 98.9L262.0 96.9L263.5 93.7L265.0 89.6L266.4 85.4L268.0 82.0L269.6 79.7L271.4 77.9L273.1 76.7L274.7 76.1L276.0 76.1L277.3 76.8L278.5 77.9L279.9 79.0L281.5 80.3L283.2 81.7L284.9 83.3L286.6 85.0L288.1 86.7L289.6 88.5L291.1 90.5L292.6 92.5L294.1 94.8L295.7 97.3L297.2 99.6L298.5 101.4L299.5 102.4L300.3 103.0L301.1 103.1L302.2 102.9L303.8 102.1L305.6 100.7L307.6 99.4L309.7 98.4L311.9 98.0L314.3 98.0L316.6 98.2L318.6 98.4L320.3 98.8L321.7 99.3L323.1 100.0L324.6 100.6L326.4 101.4L328.3 102.3L330.3 103.1L332.0 103.6L333.8 103.7L335.5 103.4L337.0 103.1L338.0 102.9" fill="none" stroke="#5b8cf2" stroke-width="1.0" stroke-opacity="1.0" stroke-linejoin="round" stroke-linecap="round"/>
<path d="M188.0 98.7L189.6 98.8L191.8 99.0L194.4 99.0L196.9 98.7L199.5 97.7L202.3 96.3L205.0 94.9L207.4 94.2L209.3 94.4L211.1 95.1L212.6 96.1L214.1 97.2L215.4 98.4L216.6 99.9L217.9 101.3L219.3 102.4L221.0 103.2L222.8 103.6L224.7 103.9L226.7 103.9L228.9 103.7L231.3 103.2L233.6 102.5L235.7 101.7L237.4 100.5L238.9 99.1L240.3 97.7L241.7 96.5L243.0 95.5L244.3 94.7L245.6 94.1L246.9 93.9L248.2 94.2L249.4 94.9L250.7 95.7L252.1 96.5L253.6 97.3L255.1 98.2L256.7 98.8L258.0 98.7L259.2 97.7L260.1 96.0L261.0 93.9L262.0 91.3L263.1 87.9L264.2 84.0L265.3 79.9L266.5 76.4L267.6 73.3L268.7 70.5L269.8 68.0L270.9 65.9L272.2 64.3L273.5 63.0L274.8 62.1L276.2 61.4L277.5 61.3L278.8 61.5L280.1 61.7L281.4 61.4L282.5 60.5L283.6 59.1L284.7 57.6L285.8 56.2L287.1 55.0L288.5 53.8L289.8 52.9L291.1 52.5L292.2 52.8L293.3 53.7L294.4 54.9L295.5 56.2L296.6 57.8L297.7 59.5L298.8 61.4L300.0 62.9L301.3 64.3L302.6 65.6L303.9 66.7L305.2 67.4L306.4 67.9L307.5 68.2L308.6 68.1L309.7 67.4L310.7 65.8L311.6 63.5L312.4 60.9L313.4 58.5L314.5 56.0L315.6 53.3L316.7 51.0L317.9 49.5L319.1 49.3L320.4 49.9L321.8 50.9L323.1 51.8L324.4 52.1L325.8 52.4L327.1 52.9L328.3 54.0L329.5 55.9L330.6 58.2L331.6 61.1L332.8 64.4L334.2 68.8L335.7 74.0L337.1 78.9L338.0 82.3L338.0 90.7L337.1 87.3L335.7 82.4L334.2 77.2L332.8 72.8L331.6 69.5L330.6 66.6L329.5 64.2L328.3 62.4L327.1 61.2L325.8 60.7L324.4 60.5L323.1 60.1L321.8 59.3L320.4 58.3L319.1 57.7L317.9 57.9L316.7 59.3L315.6 61.7L314.5 64.3L313.4 66.8L312.4 69.3L311.6 71.9L310.7 74.2L309.7 75.8L308.6 76.5L307.5 76.6L306.4 76.3L305.2 75.8L303.9 75.0L302.6 74.0L301.3 72.7L300.0 71.3L298.8 69.7L297.7 67.9L296.6 66.1L295.5 64.6L294.4 63.3L293.3 62.1L292.2 61.2L291.1 60.9L289.8 61.2L288.5 62.2L287.1 63.4L285.8 64.6L284.7 65.9L283.6 67.4L282.5 68.8L281.4 69.8L280.1 70.1L278.8 69.9L277.5 69.6L276.2 69.8L274.8 70.5L273.5 71.4L272.2 72.6L270.9 74.3L269.8 76.4L268.7 78.8L267.6 81.6L266.5 84.7L265.3 88.3L264.2 92.3L263.1 96.3L262.0 99.6L261.0 102.2L260.1 104.4L259.2 106.1L258.0 107.1L256.7 107.2L255.1 106.6L253.6 105.6L252.1 104.8L250.7 104.1L249.4 103.3L248.2 102.6L246.9 102.3L245.6 102.5L244.3 103.1L243.0 103.9L241.7 104.8L240.3 106.0L238.9 107.5L237.4 108.9L235.7 110.0L233.6 110.9L231.3 111.6L228.9 112.1L226.7 112.3L224.7 112.3L222.8 112.0L221.0 111.5L219.3 110.8L217.9 109.7L216.6 108.3L215.4 106.8L214.1 105.6L212.6 104.5L211.1 103.5L209.3 102.8L207.4 102.6L205.0 103.3L202.3 104.6L199.5 106.1L196.9 107.1L194.4 107.4L191.8 107.3L189.6 107.2L188.0 107.1Z" fill="#f8c8b0" fill-opacity="0.45" stroke="none"/>
<path d="M188.0 102.9L189.6 103.0L191.8 103.2L194.4 103.2L196.9 102.9L199.5 101.9L202.3 100.5L205.0 99.1L207.4 98.4L209.3 98.6L211.1 99.3L212.6 100.3L214.1 101.4L215.4 102.6L216.6 104.1L217.9 105.5L219.3 106.6L221.0 107.3L222.8 107.8L224.7 108.1L226.7 108.1L228.9 107.9L231.3 107.4L233.6 106.7L235.7 105.9L237.4 104.7L238.9 103.3L240.3 101.8L241.7 100.6L243.0 99.7L244.3 98.9L245.6 98.3L246.9 98.1L248.2 98.4L249.4 99.1L250.7 99.9L252.1 100.6L253.6 101.5L255.1 102.4L256.7 103.0L258.0 102.9L259.2 101.9L260.1 100.2L261.0 98.0L262.0 95.4L263.1 92.1L264.2 88.2L265.3 84.1L266.5 80.5L267.6 77.5L268.7 74.7L269.8 72.2L270.9 70.1L272.2 68.5L273.5 67.2L274.8 66.3L276.2 65.6L277.5 65.4L278.8 65.7L280.1 65.9L281.4 65.6L282.5 64.7L283.6 63.3L284.7 61.7L285.8 60.4L287.1 59.2L288.5 58.0L289.8 57.1L291.1 56.7L292.2 57.0L293.3 57.9L294.4 59.1L295.5 60.4L296.6 61.9L297.7 63.7L298.8 65.5L300.0 67.1L301.3 68.5L302.6 69.8L303.9 70.8L305.2 71.6L306.4 72.1L307.5 72.4L308.6 72.3L309.7 71.6L310.7 70.0L311.6 67.7L312.4 65.1L313.4 62.6L314.5 60.2L315.6 57.5L316.7 55.2L317.9 53.7L319.1 53.5L320.4 54.1L321.8 55.1L323.1 55.9L324.4 56.3L325.8 56.5L327.1 57.0L328.3 58.2L329.5 60.0L330.6 62.4L331.6 65.3L332.8 68.6L334.2 73.0L335.7 78.2L337.1 83.1L338.0 86.5" fill="none" stroke="#f38e66" stroke-width="1.0" stroke-opacity="1.0" stroke-linejoin="round" stroke-linecap="round"/>
<path d="M188.0 96.1L189.3 96.4L191.3 96.8L193.4 97.3L195.5 97.6L197.3 97.7L199.2 97.7L201.0 97.6L202.9 97.6L204.8 97.6L206.6 97.6L208.5 97.6L210.4 97.6L212.2 97.6L214.0 97.6L215.8 97.6L217.8 97.6L220.0 97.4L222.4 97.1L224.7 96.9L226.7 96.8L228.4 97.0L229.8 97.4L231.2 97.7L232.7 97.6L234.5 97.0L236.5 96.1L238.4 95.0L240.2 93.8L241.7 92.4L243.0 90.8L244.2 89.2L245.4 87.9L246.4 86.8L247.3 85.9L248.2 85.3L249.1 84.9L250.1 85.0L251.2 85.4L252.3 86.0L253.6 86.4L255.0 86.5L256.7 86.5L258.3 86.6L259.5 87.1L260.3 88.3L260.8 89.8L261.2 91.5L262.0 93.1L263.2 94.7L264.7 96.3L266.3 97.8L268.0 99.1L269.8 100.2L271.7 101.2L273.7 101.9L275.4 102.0L276.9 101.4L278.2 100.1L279.4 98.5L280.6 96.8L282.0 94.9L283.3 92.7L284.6 90.7L285.8 89.4L287.0 89.2L288.1 89.8L289.2 90.5L290.3 90.9L291.6 90.3L292.8 89.4L294.2 88.7L295.5 88.9L297.0 90.6L298.5 93.2L300.0 96.0L301.5 98.3L302.9 99.8L304.2 101.0L305.5 102.0L306.7 102.8L307.9 103.3L308.9 103.7L310.0 103.9L311.2 104.3L312.4 104.9L313.8 105.7L315.1 106.3L316.4 106.5L317.6 105.9L318.7 104.8L319.8 103.6L320.9 102.8L322.0 102.3L323.1 102.0L324.3 101.9L325.3 102.0L326.3 102.6L327.2 103.4L328.1 104.2L329.1 104.3L330.1 103.4L331.3 101.9L332.4 100.3L333.5 99.1L334.8 98.4L336.0 98.0L337.2 97.7L338.0 97.6L338.0 108.2L337.2 108.4L336.0 108.6L334.8 109.0L333.5 109.7L332.4 110.9L331.3 112.5L330.1 114.0L329.1 114.9L328.1 114.8L327.2 114.1L326.3 113.2L325.3 112.7L324.3 112.6L323.1 112.7L322.0 113.0L320.9 113.4L319.8 114.3L318.7 115.5L317.6 116.6L316.4 117.1L315.1 117.0L313.8 116.4L312.4 115.6L311.2 114.9L310.0 114.6L308.9 114.3L307.9 114.0L306.7 113.4L305.5 112.6L304.2 111.7L302.9 110.5L301.5 108.9L300.0 106.7L298.5 103.9L297.0 101.2L295.5 99.6L294.2 99.3L292.8 100.0L291.6 101.0L290.3 101.5L289.2 101.2L288.1 100.4L287.0 99.8L285.8 100.0L284.6 101.3L283.3 103.3L282.0 105.5L280.6 107.5L279.4 109.1L278.2 110.7L276.9 112.0L275.4 112.7L273.7 112.6L271.7 111.9L269.8 110.8L268.0 109.7L266.3 108.4L264.7 106.9L263.2 105.3L262.0 103.7L261.2 102.1L260.8 100.4L260.3 98.9L259.5 97.8L258.3 97.2L256.7 97.1L255.0 97.1L253.6 97.0L252.3 96.6L251.2 96.0L250.1 95.6L249.1 95.5L248.2 95.9L247.3 96.6L246.4 97.5L245.4 98.5L244.2 99.9L243.0 101.5L241.7 103.1L240.2 104.5L238.4 105.7L236.5 106.8L234.5 107.6L232.7 108.2L231.2 108.3L229.8 108.0L228.4 107.6L226.7 107.5L224.7 107.6L222.4 107.8L220.0 108.0L217.8 108.2L215.8 108.3L214.0 108.3L212.2 108.2L210.4 108.2L208.5 108.2L206.6 108.2L204.8 108.2L202.9 108.2L201.0 108.2L199.2 108.3L197.3 108.3L195.5 108.2L193.4 107.9L191.3 107.5L189.3 107.0L188.0 106.7Z" fill="#a8b0e8" fill-opacity="0.45" stroke="none"/>
<path d="M188.0 101.4L189.3 101.7L191.3 102.1L193.4 102.6L195.5 102.9L197.3 103.0L199.2 103.0L201.0 102.9L202.9 102.9L204.8 102.9L206.6 102.9L208.5 102.9L210.4 102.9L212.2 102.9L214.0 102.9L215.8 102.9L217.8 102.9L220.0 102.7L222.4 102.5L224.7 102.2L226.7 102.1L228.4 102.3L229.8 102.7L231.2 103.0L232.7 102.9L234.5 102.3L236.5 101.4L238.4 100.4L240.2 99.2L241.7 97.8L243.0 96.1L244.2 94.5L245.4 93.2L246.4 92.1L247.3 91.2L248.2 90.6L249.1 90.2L250.1 90.3L251.2 90.7L252.3 91.3L253.6 91.7L255.0 91.8L256.7 91.8L258.3 91.9L259.5 92.5L260.3 93.6L260.8 95.1L261.2 96.8L262.0 98.4L263.2 100.0L264.7 101.6L266.3 103.1L268.0 104.4L269.8 105.5L271.7 106.6L273.7 107.3L275.4 107.4L276.9 106.7L278.2 105.4L279.4 103.8L280.6 102.1L282.0 100.2L283.3 98.0L284.6 96.0L285.8 94.7L287.0 94.5L288.1 95.1L289.2 95.8L290.3 96.2L291.6 95.7L292.8 94.7L294.2 94.0L295.5 94.2L297.0 95.9L298.5 98.5L300.0 101.4L301.5 103.6L302.9 105.2L304.2 106.4L305.5 107.3L306.7 108.1L307.9 108.7L308.9 109.0L310.0 109.2L311.2 109.6L312.4 110.2L313.8 111.0L315.1 111.7L316.4 111.8L317.6 111.2L318.7 110.1L319.8 109.0L320.9 108.1L322.0 107.6L323.1 107.4L324.3 107.3L325.3 107.4L326.3 107.9L327.2 108.8L328.1 109.5L329.1 109.6L330.1 108.7L331.3 107.2L332.4 105.6L333.5 104.4L334.8 103.7L336.0 103.3L337.2 103.1L338.0 102.9" fill="none" stroke="#3b4cc0" stroke-width="1.0" stroke-opacity="1.0" stroke-linejoin="round" stroke-linecap="round"/>
<path d="M188.0 99.8L189.6 99.7L191.8 99.5L194.4 99.2L196.9 99.1L199.5 99.1L202.2 99.3L204.9 99.3L207.4 99.1L209.6 98.2L211.6 97.0L213.6 95.9L215.6 95.4L217.6 95.9L219.6 97.0L221.7 98.2L223.8 99.1L226.0 99.4L228.3 99.4L230.6 99.2L232.7 99.1L234.6 98.9L236.4 98.7L238.2 98.5L240.2 98.3L242.4 98.2L244.8 98.1L247.1 98.1L249.1 98.3L250.5 98.9L251.6 99.7L252.5 100.5L253.6 101.3L254.9 102.1L256.3 102.8L257.6 103.4L258.8 103.9L259.7 104.1L260.4 104.1L261.2 104.0L262.0 103.6L263.0 102.7L264.1 101.6L265.3 100.3L266.5 99.1L267.8 98.1L269.1 97.3L270.5 96.3L271.7 94.6L272.7 92.2L273.6 89.1L274.5 85.8L275.4 82.7L276.3 79.7L277.2 76.6L278.2 73.6L279.1 70.8L280.2 68.0L281.3 65.3L282.4 62.8L283.6 60.3L284.9 58.0L286.2 55.8L287.5 53.8L288.8 52.1L290.1 50.8L291.4 49.8L292.7 49.0L294.0 48.4L295.5 47.8L297.0 47.2L298.5 47.1L300.0 47.7L301.4 49.4L302.7 51.9L303.9 54.7L305.2 57.4L306.5 60.1L307.9 63.0L309.2 65.3L310.4 66.3L311.6 65.4L312.7 63.0L313.8 60.1L314.9 57.4L316.0 54.8L317.1 52.1L318.2 49.5L319.4 46.9L320.7 44.4L322.0 41.9L323.4 39.7L324.6 38.0L325.6 37.0L326.5 36.5L327.3 36.4L328.3 36.5L329.5 36.8L330.9 37.4L332.2 38.1L333.5 38.7L334.8 39.3L336.1 40.0L337.2 40.6L338.0 41.0L338.0 48.6L337.2 48.2L336.1 47.6L334.8 46.9L333.5 46.3L332.2 45.7L330.9 45.0L329.5 44.4L328.3 44.1L327.3 44.0L326.5 44.1L325.6 44.6L324.6 45.6L323.4 47.3L322.0 49.5L320.7 52.0L319.4 54.5L318.2 57.1L317.1 59.7L316.0 62.4L314.9 65.0L313.8 67.7L312.7 70.6L311.6 73.0L310.4 73.9L309.2 72.9L307.9 70.6L306.5 67.7L305.2 65.0L303.9 62.3L302.7 59.5L301.4 57.0L300.0 55.3L298.5 54.7L297.0 54.8L295.5 55.4L294.0 56.0L292.7 56.6L291.4 57.4L290.1 58.4L288.8 59.7L287.5 61.4L286.2 63.4L284.9 65.6L283.6 67.9L282.4 70.4L281.3 72.9L280.2 75.6L279.1 78.4L278.2 81.2L277.2 84.2L276.3 87.3L275.4 90.3L274.5 93.4L273.6 96.7L272.7 99.8L271.7 102.2L270.5 103.9L269.1 104.9L267.8 105.7L266.5 106.7L265.3 107.9L264.1 109.2L263.0 110.3L262.0 111.2L261.2 111.6L260.4 111.7L259.7 111.7L258.8 111.5L257.6 111.0L256.3 110.4L254.9 109.7L253.6 108.9L252.5 108.1L251.6 107.3L250.5 106.5L249.1 105.9L247.1 105.7L244.8 105.7L242.4 105.8L240.2 105.9L238.2 106.1L236.4 106.3L234.6 106.5L232.7 106.7L230.6 106.8L228.3 107.0L226.0 107.0L223.8 106.7L221.7 105.8L219.6 104.6L217.6 103.5L215.6 103.0L213.6 103.5L211.6 104.6L209.6 105.8L207.4 106.7L204.9 106.9L202.2 106.9L199.5 106.7L196.9 106.7L194.4 106.8L191.8 107.1L189.6 107.3L188.0 107.4Z" fill="#e8a0a0" fill-opacity="0.45" stroke="none"/>
<path d="M188.0 103.6L189.6 103.5L191.8 103.3L194.4 103.0L196.9 102.9L199.5 102.9L202.2 103.1L204.9 103.1L207.4 102.9L209.6 102.0L211.6 100.8L213.6 99.7L215.6 99.2L217.6 99.7L219.6 100.8L221.7 102.0L223.8 102.9L226.0 103.2L228.3 103.2L230.6 103.0L232.7 102.9L234.6 102.7L236.4 102.5L238.2 102.3L240.2 102.1L242.4 102.0L244.8 101.9L247.1 101.9L249.1 102.1L250.5 102.7L251.6 103.5L252.5 104.3L253.6 105.1L254.9 105.9L256.3 106.6L257.6 107.2L258.8 107.7L259.7 107.9L260.4 107.9L261.2 107.8L262.0 107.4L263.0 106.5L264.1 105.4L265.3 104.1L266.5 102.9L267.8 101.9L269.1 101.1L270.5 100.1L271.7 98.4L272.7 96.0L273.6 92.9L274.5 89.6L275.4 86.5L276.3 83.5L277.2 80.4L278.2 77.4L279.1 74.6L280.2 71.8L281.3 69.1L282.4 66.6L283.6 64.1L284.9 61.8L286.2 59.6L287.5 57.6L288.8 55.9L290.1 54.6L291.4 53.6L292.7 52.8L294.0 52.2L295.5 51.6L297.0 51.0L298.5 50.9L300.0 51.5L301.4 53.2L302.7 55.7L303.9 58.5L305.2 61.2L306.5 63.9L307.9 66.8L309.2 69.1L310.4 70.1L311.6 69.2L312.7 66.8L313.8 63.9L314.9 61.2L316.0 58.6L317.1 55.9L318.2 53.3L319.4 50.7L320.7 48.2L322.0 45.7L323.4 43.5L324.6 41.8L325.6 40.8L326.5 40.3L327.3 40.2L328.3 40.3L329.5 40.6L330.9 41.2L332.2 41.9L333.5 42.5L334.8 43.1L336.1 43.8L337.2 44.4L338.0 44.8" fill="none" stroke="#c42a2e" stroke-width="1.3" stroke-opacity="1.0" stroke-linejoin="round" stroke-linecap="round"/>
</g>
<line x1="249.2" y1="17.1" x2="249.2" y2="134.2" stroke="#3a3a3a" stroke-width="1.0" stroke-dasharray="2.7,2.6"/>
<rect x="188.4" y="17.1" width="149.2" height="117.1" fill="none" stroke="#7a7a7a" stroke-width="0.9"/>
<path d="M200.6 134.2v-2.0M200.6 17.1v2.0M224.9 134.2v-2.0M224.9 17.1v2.0M249.2 134.2v-2.0M249.2 17.1v2.0M273.5 134.2v-2.0M273.5 17.1v2.0M297.8 134.2v-2.0M297.8 17.1v2.0M322.1 134.2v-2.0M322.1 17.1v2.0" stroke="#7a7a7a" stroke-width="0.8" fill="none"/>
<text x="200.6" y="142.7" font-size="8.2" text-anchor="middle" font-weight="normal" fill="#111" stroke="#111" stroke-width="0.16" >-200</text>
<text x="224.9" y="142.7" font-size="8.2" text-anchor="middle" font-weight="normal" fill="#111" stroke="#111" stroke-width="0.16" >-100</text>
<text x="249.2" y="142.7" font-size="8.2" text-anchor="middle" font-weight="normal" fill="#111" stroke="#111" stroke-width="0.16" >0</text>
<text x="273.5" y="142.7" font-size="8.2" text-anchor="middle" font-weight="normal" fill="#111" stroke="#111" stroke-width="0.16" >100</text>
<text x="297.8" y="142.7" font-size="8.2" text-anchor="middle" font-weight="normal" fill="#111" stroke="#111" stroke-width="0.16" >200</text>
<text x="322.1" y="142.7" font-size="8.2" text-anchor="middle" font-weight="normal" fill="#111" stroke="#111" stroke-width="0.16" >300</text>
<path d="M188.4 119.5h2.0M337.6 119.5h-2.0M188.4 100.5h2.0M337.6 100.5h-2.0M188.4 81.5h2.0M337.6 81.5h-2.0M188.4 62.5h2.0M337.6 62.5h-2.0M188.4 43.5h2.0M337.6 43.5h-2.0M188.4 24.5h2.0M337.6 24.5h-2.0" stroke="#7a7a7a" stroke-width="0.8" fill="none"/>
<text x="187.4" y="122.3" font-size="8.2" text-anchor="end" font-weight="normal" fill="#111" stroke="#111" stroke-width="0.16" >0.4</text>
<text x="187.4" y="103.3" font-size="8.2" text-anchor="end" font-weight="normal" fill="#111" stroke="#111" stroke-width="0.16" >0.5</text>
<text x="187.4" y="84.3" font-size="8.2" text-anchor="end" font-weight="normal" fill="#111" stroke="#111" stroke-width="0.16" >0.6</text>
<text x="187.4" y="65.3" font-size="8.2" text-anchor="end" font-weight="normal" fill="#111" stroke="#111" stroke-width="0.16" >0.7</text>
<text x="187.4" y="46.3" font-size="8.2" text-anchor="end" font-weight="normal" fill="#111" stroke="#111" stroke-width="0.16" >0.8</text>
<text x="187.4" y="27.3" font-size="8.2" text-anchor="end" font-weight="normal" fill="#111" stroke="#111" stroke-width="0.16" >0.9</text>
<text x="260" y="150.3" font-size="8.0" text-anchor="middle" font-weight="normal" fill="#111" stroke="#111" stroke-width="0.16" >Time (ms)</text>
<g clip-path="url(#c354_16)">
<path d="M354.0 97.3L355.9 97.3L358.7 97.4L361.7 97.4L364.4 97.3L366.8 97.1L369.1 96.8L371.3 96.4L373.4 95.8L375.4 94.4L377.3 92.7L379.1 91.1L380.8 90.6L382.4 91.5L383.8 93.4L385.2 95.6L386.8 97.3L388.5 98.3L390.2 99.1L392.1 99.7L394.2 100.2L396.6 100.8L399.3 101.4L402.0 101.7L404.7 101.7L407.3 101.2L410.0 100.4L412.6 99.4L415.1 98.8L417.6 98.4L420.0 98.2L422.2 98.1L424.0 98.0L425.3 97.8L426.0 97.7L426.8 97.5L428.0 97.3L429.9 97.1L432.2 96.9L434.6 96.6L436.9 95.8L439.2 94.4L441.5 92.6L443.7 90.5L445.9 88.3L448.0 85.9L450.0 83.3L452.0 80.6L454.1 77.9L456.1 75.2L458.1 72.4L460.1 69.8L462.3 67.5L464.7 65.3L467.2 63.2L469.7 61.6L472.0 60.8L473.9 61.0L475.6 62.2L477.1 63.7L478.7 65.2L480.2 67.1L481.6 69.4L483.1 71.2L484.6 71.9L486.4 70.6L488.4 67.8L490.3 65.1L492.1 63.7L493.7 64.3L495.2 66.0L496.6 68.3L498.0 70.4L499.7 72.7L501.4 75.3L502.9 77.7L504.0 79.4L504.0 85.0L502.9 83.3L501.4 80.9L499.7 78.3L498.0 76.0L496.6 73.9L495.2 71.6L493.7 69.9L492.1 69.3L490.3 70.7L488.4 73.4L486.4 76.2L484.6 77.5L483.1 76.8L481.6 75.0L480.2 72.7L478.7 70.8L477.1 69.3L475.6 67.7L473.9 66.6L472.0 66.3L469.7 67.2L467.2 68.8L464.7 70.9L462.3 73.1L460.1 75.4L458.1 78.0L456.1 80.8L454.1 83.5L452.0 86.2L450.0 88.9L448.0 91.5L445.9 93.9L443.7 96.1L441.5 98.2L439.2 100.0L436.9 101.4L434.6 102.2L432.2 102.5L429.9 102.7L428.0 102.9L426.8 103.1L426.0 103.3L425.3 103.4L424.0 103.6L422.2 103.7L420.0 103.8L417.6 104.0L415.1 104.3L412.6 105.0L410.0 106.0L407.3 106.8L404.7 107.3L402.0 107.3L399.3 107.0L396.6 106.4L394.2 105.8L392.1 105.3L390.2 104.7L388.5 103.9L386.8 102.9L385.2 101.2L383.8 99.0L382.4 97.1L380.8 96.1L379.1 96.7L377.3 98.2L375.4 100.0L373.4 101.4L371.3 102.0L369.1 102.4L366.8 102.7L364.4 102.9L361.7 103.0L358.7 102.9L355.9 102.9L354.0 102.9Z" fill="#dfe6f2" fill-opacity="0.5" stroke="none"/>
<path d="M354.0 100.1L355.9 100.1L358.7 100.2L361.7 100.2L364.4 100.1L366.8 99.9L369.1 99.6L371.3 99.2L373.4 98.6L375.4 97.2L377.3 95.4L379.1 93.9L380.8 93.4L382.4 94.3L383.8 96.2L385.2 98.4L386.8 100.1L388.5 101.1L390.2 101.9L392.1 102.5L394.2 103.0L396.6 103.6L399.3 104.2L402.0 104.5L404.7 104.5L407.3 104.0L410.0 103.2L412.6 102.2L415.1 101.5L417.6 101.2L420.0 101.0L422.2 100.9L424.0 100.8L425.3 100.6L426.0 100.5L426.8 100.3L428.0 100.1L429.9 99.9L432.2 99.7L434.6 99.4L436.9 98.6L439.2 97.2L441.5 95.4L443.7 93.3L445.9 91.1L448.0 88.7L450.0 86.1L452.0 83.4L454.1 80.7L456.1 78.0L458.1 75.2L460.1 72.6L462.3 70.3L464.7 68.1L467.2 66.0L469.7 64.4L472.0 63.6L473.9 63.8L475.6 64.9L477.1 66.5L478.7 68.0L480.2 69.9L481.6 72.2L483.1 74.0L484.6 74.7L486.4 73.4L488.4 70.6L490.3 67.9L492.1 66.5L493.7 67.1L495.2 68.8L496.6 71.1L498.0 73.2L499.7 75.5L501.4 78.1L502.9 80.5L504.0 82.2" fill="none" stroke="#c4cbda" stroke-width="0.9" stroke-opacity="1.0" stroke-linejoin="round" stroke-linecap="round"/>
<path d="M354.0 99.3L355.3 99.3L357.2 99.2L359.3 99.2L361.5 99.3L363.7 99.6L366.0 100.0L368.3 100.4L370.4 100.8L372.1 101.3L373.6 101.9L374.9 102.3L376.4 102.3L377.8 101.5L379.3 100.3L380.8 98.9L382.3 97.8L383.8 97.0L385.3 96.4L386.8 95.9L388.3 95.6L389.8 95.5L391.3 95.6L392.7 95.9L394.2 96.3L395.7 97.0L397.1 98.0L398.6 98.9L400.2 99.3L402.0 99.0L403.8 98.2L405.8 97.4L407.7 97.1L409.5 97.4L411.3 98.1L413.1 98.8L415.1 99.3L417.4 99.5L419.8 99.4L422.1 99.4L424.0 99.3L425.1 99.3L425.6 99.3L426.4 99.3L428.0 99.3L431.1 99.4L435.2 99.7L439.4 99.7L442.9 99.3L445.3 98.4L447.1 97.2L448.7 95.6L450.4 93.3L452.1 90.2L453.8 86.3L455.5 82.4L457.1 79.2L458.5 76.7L459.8 74.5L461.1 73.0L462.3 72.5L463.5 73.3L464.6 75.2L465.7 77.6L466.7 79.9L467.7 82.3L468.6 84.9L469.5 87.2L470.5 88.9L471.6 89.4L472.8 89.2L474.2 88.8L475.7 88.9L477.4 89.7L479.3 90.9L481.2 92.2L483.1 93.3L485.0 94.4L486.9 95.4L488.8 96.2L490.6 96.3L492.3 95.3L494.0 93.4L495.6 91.7L497.3 91.1L499.1 92.4L501.1 94.9L502.8 97.5L504.0 99.3L504.0 106.8L502.8 105.0L501.1 102.3L499.1 99.9L497.3 98.6L495.6 99.1L494.0 100.9L492.3 102.7L490.6 103.8L488.8 103.7L486.9 102.9L485.0 101.8L483.1 100.8L481.2 99.7L479.3 98.4L477.4 97.2L475.7 96.3L474.2 96.2L472.8 96.6L471.6 96.9L470.5 96.3L469.5 94.7L468.6 92.3L467.7 89.7L466.7 87.4L465.7 85.1L464.6 82.7L463.5 80.8L462.3 79.9L461.1 80.5L459.8 81.9L458.5 84.1L457.1 86.6L455.5 89.9L453.8 93.8L452.1 97.7L450.4 100.8L448.7 103.0L447.1 104.7L445.3 105.9L442.9 106.8L439.4 107.2L435.2 107.1L431.1 106.9L428.0 106.8L426.4 106.8L425.6 106.8L425.1 106.8L424.0 106.8L422.1 106.8L419.8 106.9L417.4 106.9L415.1 106.8L413.1 106.3L411.3 105.5L409.5 104.8L407.7 104.5L405.8 104.9L403.8 105.7L402.0 106.5L400.2 106.8L398.6 106.3L397.1 105.5L395.7 104.5L394.2 103.8L392.7 103.4L391.3 103.1L389.8 103.0L388.3 103.0L386.8 103.3L385.3 103.8L383.8 104.5L382.3 105.3L380.8 106.4L379.3 107.7L377.8 109.0L376.4 109.7L374.9 109.8L373.6 109.4L372.1 108.8L370.4 108.3L368.3 107.8L366.0 107.4L363.7 107.0L361.5 106.8L359.3 106.7L357.2 106.7L355.3 106.7L354.0 106.8Z" fill="#c5d3f7" fill-opacity="0.45" stroke="none"/>
<path d="M354.0 103.0L355.3 103.0L357.2 102.9L359.3 102.9L361.5 103.0L363.7 103.3L366.0 103.7L368.3 104.1L370.4 104.5L372.1 105.0L373.6 105.6L374.9 106.1L376.4 106.0L377.8 105.3L379.3 104.0L380.8 102.6L382.3 101.5L383.8 100.8L385.3 100.1L386.8 99.6L388.3 99.3L389.8 99.2L391.3 99.4L392.7 99.6L394.2 100.1L395.7 100.8L397.1 101.7L398.6 102.6L400.2 103.0L402.0 102.7L403.8 102.0L405.8 101.2L407.7 100.8L409.5 101.1L411.3 101.8L413.1 102.5L415.1 103.0L417.4 103.2L419.8 103.2L422.1 103.1L424.0 103.0L425.1 103.0L425.6 103.0L426.4 103.0L428.0 103.0L431.1 103.2L435.2 103.4L439.4 103.5L442.9 103.0L445.3 102.2L447.1 100.9L448.7 99.3L450.4 97.1L452.1 93.9L453.8 90.0L455.5 86.1L457.1 82.9L458.5 80.4L459.8 78.2L461.1 76.7L462.3 76.2L463.5 77.0L464.6 79.0L465.7 81.4L466.7 83.7L467.7 86.0L468.6 88.6L469.5 91.0L470.5 92.6L471.6 93.1L472.8 92.9L474.2 92.5L475.7 92.6L477.4 93.4L479.3 94.7L481.2 96.0L483.1 97.1L485.0 98.1L486.9 99.2L488.8 99.9L490.6 100.1L492.3 99.0L494.0 97.1L495.6 95.4L497.3 94.8L499.1 96.1L501.1 98.6L502.8 101.3L504.0 103.0" fill="none" stroke="#5b8cf2" stroke-width="1.0" stroke-opacity="1.0" stroke-linejoin="round" stroke-linecap="round"/>
<path d="M354.0 96.3L354.8 96.0L355.9 95.5L357.2 94.9L358.5 94.1L359.7 92.9L361.0 91.4L362.4 90.1L363.7 89.6L364.9 90.3L366.2 91.8L367.4 93.5L368.9 94.8L370.6 95.8L372.5 96.7L374.4 97.4L376.4 97.8L378.2 97.8L380.0 97.5L381.8 97.2L383.8 97.1L386.0 97.3L388.4 97.7L390.7 98.2L392.7 98.6L394.4 98.8L395.8 99.0L397.2 99.2L398.7 99.3L400.4 99.4L402.2 99.4L404.2 99.4L406.2 99.3L408.3 99.0L410.5 98.5L412.8 98.1L415.1 97.8L417.5 97.9L419.9 98.2L422.2 98.5L424.0 98.6L425.1 98.3L425.6 97.8L426.4 97.4L428.0 97.1L431.1 97.3L435.2 97.7L439.4 98.0L442.9 97.5L445.3 96.1L447.1 94.1L448.7 91.6L450.4 88.9L452.3 85.6L454.2 81.8L456.0 78.2L457.8 75.5L459.4 74.1L460.9 73.5L462.3 73.2L463.8 72.5L465.3 71.2L466.7 69.8L468.2 68.2L469.7 66.5L471.2 64.9L472.8 63.2L474.3 61.3L475.7 59.1L477.1 56.3L478.4 53.0L479.7 49.8L480.9 47.2L482.1 45.0L483.1 43.2L484.2 41.9L485.4 41.2L486.6 41.3L487.9 42.0L489.3 43.1L490.6 44.2L491.8 45.4L493.0 46.9L494.3 48.3L495.8 49.4L497.8 50.1L500.2 50.5L502.5 50.7L504.0 50.9L504.0 58.3L502.5 58.2L500.2 57.9L497.8 57.5L495.8 56.8L494.3 55.8L493.0 54.3L491.8 52.9L490.6 51.6L489.3 50.5L487.9 49.4L486.6 48.7L485.4 48.7L484.2 49.4L483.1 50.7L482.1 52.5L480.9 54.6L479.7 57.3L478.4 60.5L477.1 63.7L475.7 66.5L474.3 68.7L472.8 70.6L471.2 72.3L469.7 74.0L468.2 75.6L466.7 77.2L465.3 78.7L463.8 79.9L462.3 80.7L460.9 81.0L459.4 81.5L457.8 82.9L456.0 85.7L454.2 89.3L452.3 93.1L450.4 96.3L448.7 99.0L447.1 101.5L445.3 103.6L442.9 105.0L439.4 105.5L435.2 105.2L431.1 104.7L428.0 104.5L426.4 104.8L425.6 105.3L425.1 105.8L424.0 106.0L422.2 105.9L419.9 105.6L417.5 105.4L415.1 105.3L412.8 105.5L410.5 106.0L408.3 106.4L406.2 106.8L404.2 106.9L402.2 106.9L400.4 106.9L398.7 106.8L397.2 106.6L395.8 106.5L394.4 106.3L392.7 106.0L390.7 105.6L388.4 105.2L386.0 104.8L383.8 104.5L381.8 104.6L380.0 105.0L378.2 105.3L376.4 105.3L374.4 104.8L372.5 104.2L370.6 103.3L368.9 102.3L367.4 100.9L366.2 99.2L364.9 97.8L363.7 97.1L362.4 97.6L361.0 98.8L359.7 100.4L358.5 101.5L357.2 102.3L355.9 102.9L354.8 103.4L354.0 103.8Z" fill="#f8c8b0" fill-opacity="0.45" stroke="none"/>
<path d="M354.0 100.1L354.8 99.7L355.9 99.2L357.2 98.6L358.5 97.8L359.7 96.6L361.0 95.1L362.4 93.8L363.7 93.4L364.9 94.0L366.2 95.5L367.4 97.2L368.9 98.6L370.6 99.6L372.5 100.4L374.4 101.1L376.4 101.5L378.2 101.6L380.0 101.3L381.8 100.9L383.8 100.8L386.0 101.0L388.4 101.5L390.7 101.9L392.7 102.3L394.4 102.5L395.8 102.8L397.2 102.9L398.7 103.0L400.4 103.1L402.2 103.2L404.2 103.2L406.2 103.0L408.3 102.7L410.5 102.2L412.8 101.8L415.1 101.5L417.5 101.6L419.9 101.9L422.2 102.2L424.0 102.3L425.1 102.0L425.6 101.6L426.4 101.1L428.0 100.8L431.1 101.0L435.2 101.5L439.4 101.7L442.9 101.2L445.3 99.8L447.1 97.8L448.7 95.3L450.4 92.6L452.3 89.3L454.2 85.5L456.0 81.9L457.8 79.2L459.4 77.8L460.9 77.2L462.3 76.9L463.8 76.2L465.3 75.0L466.7 73.5L468.2 71.9L469.7 70.3L471.2 68.6L472.8 66.9L474.3 65.0L475.7 62.8L477.1 60.0L478.4 56.8L479.7 53.6L480.9 50.9L482.1 48.8L483.1 47.0L484.2 45.6L485.4 44.9L486.6 45.0L487.9 45.7L489.3 46.8L490.6 47.9L491.8 49.1L493.0 50.6L494.3 52.0L495.8 53.1L497.8 53.8L500.2 54.2L502.5 54.4L504.0 54.6" fill="none" stroke="#f38e66" stroke-width="1.0" stroke-opacity="1.0" stroke-linejoin="round" stroke-linecap="round"/>
<path d="M354.0 102.3L355.0 101.4L356.5 100.1L358.2 98.8L360.0 97.8L361.7 97.3L363.6 97.0L365.6 96.8L367.4 96.3L369.2 95.4L371.0 94.1L372.7 93.1L374.1 92.6L375.3 93.0L376.2 94.0L377.0 95.2L377.8 96.3L378.7 97.6L379.6 99.0L380.5 100.2L381.6 100.8L382.8 100.5L384.0 99.7L385.4 98.6L386.8 97.8L388.2 97.2L389.7 96.7L391.2 96.4L392.7 96.3L394.3 96.8L395.8 97.6L397.3 98.6L398.7 99.3L399.9 99.9L401.0 100.3L402.1 100.7L403.2 100.8L404.2 100.6L405.2 100.1L406.3 99.6L407.7 99.3L409.3 99.3L411.3 99.4L413.3 99.7L415.1 100.1L416.7 100.6L418.1 101.3L419.5 101.9L421.1 102.3L422.7 102.3L424.4 102.2L426.2 101.9L428.0 101.5L429.8 101.0L431.5 100.3L433.4 99.7L435.5 99.3L437.9 99.4L440.6 99.7L443.3 100.0L445.9 100.1L448.3 99.6L450.5 98.8L452.7 98.0L454.8 97.5L456.9 97.7L458.8 98.3L460.7 98.8L462.3 98.6L463.6 97.4L464.6 95.7L465.5 93.8L466.7 91.9L468.3 89.8L470.1 87.5L471.8 85.6L473.5 84.4L474.8 84.3L476.1 85.0L477.3 86.1L478.7 87.4L480.1 88.9L481.5 90.7L483.0 92.8L484.6 94.8L486.4 97.2L488.4 99.9L490.3 102.2L492.1 103.8L493.7 104.0L495.2 103.4L496.6 102.6L498.0 102.3L499.7 102.8L501.4 103.7L502.9 104.6L504.0 105.3L504.0 112.7L502.9 112.1L501.4 111.1L499.7 110.2L498.0 109.7L496.6 110.0L495.2 110.9L493.7 111.5L492.1 111.2L490.3 109.7L488.4 107.3L486.4 104.7L484.6 102.3L483.0 100.2L481.5 98.2L480.1 96.4L478.7 94.8L477.3 93.5L476.1 92.4L474.8 91.8L473.5 91.9L471.8 93.0L470.1 95.0L468.3 97.3L466.7 99.3L465.5 101.2L464.6 103.2L463.6 104.9L462.3 106.0L460.7 106.2L458.8 105.8L456.9 105.2L454.8 105.0L452.7 105.4L450.5 106.2L448.3 107.0L445.9 107.5L443.3 107.5L440.6 107.2L437.9 106.8L435.5 106.8L433.4 107.1L431.5 107.8L429.8 108.5L428.0 109.0L426.2 109.4L424.4 109.7L422.7 109.8L421.1 109.7L419.5 109.4L418.1 108.7L416.7 108.0L415.1 107.5L413.3 107.2L411.3 106.9L409.3 106.8L407.7 106.8L406.3 107.1L405.2 107.6L404.2 108.0L403.2 108.3L402.1 108.1L401.0 107.8L399.9 107.3L398.7 106.8L397.3 106.0L395.8 105.1L394.3 104.3L392.7 103.8L391.2 103.8L389.7 104.2L388.2 104.7L386.8 105.3L385.4 106.1L384.0 107.1L382.8 108.0L381.6 108.3L380.5 107.6L379.6 106.4L378.7 105.0L377.8 103.8L377.0 102.6L376.2 101.4L375.3 100.4L374.1 100.1L372.7 100.5L371.0 101.6L369.2 102.8L367.4 103.8L365.6 104.2L363.6 104.5L361.7 104.7L360.0 105.3L358.2 106.3L356.5 107.6L355.0 108.9L354.0 109.7Z" fill="#a8b0e8" fill-opacity="0.45" stroke="none"/>
<path d="M354.0 106.0L355.0 105.1L356.5 103.9L358.2 102.6L360.0 101.5L361.7 101.0L363.6 100.8L365.6 100.5L367.4 100.1L369.2 99.1L371.0 97.9L372.7 96.8L374.1 96.3L375.3 96.7L376.2 97.7L377.0 98.9L377.8 100.1L378.7 101.3L379.6 102.7L380.5 103.9L381.6 104.5L382.8 104.3L384.0 103.4L385.4 102.4L386.8 101.5L388.2 101.0L389.7 100.4L391.2 100.1L392.7 100.1L394.3 100.5L395.8 101.4L397.3 102.3L398.7 103.0L399.9 103.6L401.0 104.1L402.1 104.4L403.2 104.5L404.2 104.3L405.2 103.8L406.3 103.3L407.7 103.0L409.3 103.0L411.3 103.2L413.3 103.4L415.1 103.8L416.7 104.3L418.1 105.0L419.5 105.6L421.1 106.0L422.7 106.1L424.4 105.9L426.2 105.6L428.0 105.3L429.8 104.7L431.5 104.1L433.4 103.4L435.5 103.0L437.9 103.1L440.6 103.4L443.3 103.8L445.9 103.8L448.3 103.3L450.5 102.5L452.7 101.7L454.8 101.2L456.9 101.4L458.8 102.0L460.7 102.5L462.3 102.3L463.6 101.2L464.6 99.5L465.5 97.5L466.7 95.6L468.3 93.5L470.1 91.3L471.8 89.3L473.5 88.1L474.8 88.0L476.1 88.7L477.3 89.8L478.7 91.1L480.1 92.6L481.5 94.5L483.0 96.5L484.6 98.6L486.4 100.9L488.4 103.6L490.3 106.0L492.1 107.5L493.7 107.8L495.2 107.1L496.6 106.3L498.0 106.0L499.7 106.5L501.4 107.4L502.9 108.4L504.0 109.0" fill="none" stroke="#3b4cc0" stroke-width="1.0" stroke-opacity="1.0" stroke-linejoin="round" stroke-linecap="round"/>
<path d="M354.0 94.8L354.7 95.6L355.6 96.8L356.8 97.9L358.5 98.6L360.6 98.6L363.0 98.3L365.8 97.8L368.9 97.5L372.3 97.4L376.1 97.5L380.0 97.5L383.8 97.5L387.5 97.6L391.2 97.6L394.9 97.7L398.7 97.5L402.9 97.1L407.3 96.5L411.5 95.9L415.1 95.6L418.0 95.7L420.4 96.2L422.3 96.7L424.0 97.1L425.3 97.3L426.0 97.4L426.8 97.4L428.0 97.5L429.9 97.6L432.3 97.7L434.7 97.8L436.9 97.8L438.9 98.0L440.9 98.4L442.7 98.5L444.4 97.8L446.0 96.3L447.5 94.1L449.0 91.5L450.4 88.9L451.7 86.1L453.1 83.1L454.3 80.0L455.6 77.0L456.7 74.0L457.8 71.0L458.9 68.2L460.0 65.8L461.3 63.8L462.6 62.2L463.9 60.7L465.3 59.1L466.7 57.3L468.3 55.5L469.8 53.6L471.2 51.6L472.4 49.4L473.5 47.0L474.6 44.6L475.7 42.7L476.8 41.2L477.8 40.0L478.9 39.0L480.2 38.2L481.5 37.6L483.0 37.1L484.5 36.8L486.1 36.4L488.0 36.1L489.9 35.8L491.9 35.6L493.6 35.5L494.9 35.5L495.9 35.5L496.9 35.7L498.0 36.0L499.6 36.5L501.3 37.3L502.9 38.0L504.0 38.5L504.0 46.0L502.9 45.5L501.3 44.7L499.6 44.0L498.0 43.4L496.9 43.1L495.9 43.0L494.9 43.0L493.6 43.0L491.9 43.1L489.9 43.3L488.0 43.6L486.1 43.9L484.5 44.2L483.0 44.6L481.5 45.0L480.2 45.7L478.9 46.5L477.8 47.5L476.8 48.7L475.7 50.1L474.6 52.1L473.5 54.4L472.4 56.8L471.2 59.1L469.8 61.1L468.3 62.9L466.7 64.8L465.3 66.5L463.9 68.2L462.6 69.7L461.3 71.3L460.0 73.2L458.9 75.7L457.8 78.5L456.7 81.5L455.6 84.4L454.3 87.4L453.1 90.5L451.7 93.5L450.4 96.3L449.0 99.0L447.5 101.5L446.0 103.7L444.4 105.3L442.7 105.9L440.9 105.9L438.9 105.5L436.9 105.3L434.7 105.2L432.3 105.2L429.9 105.1L428.0 105.0L426.8 104.9L426.0 104.8L425.3 104.7L424.0 104.5L422.3 104.2L420.4 103.6L418.0 103.2L415.1 103.0L411.5 103.3L407.3 103.9L402.9 104.5L398.7 105.0L394.9 105.1L391.2 105.1L387.5 105.0L383.8 105.0L380.0 105.0L376.1 104.9L372.3 104.9L368.9 105.0L365.8 105.3L363.0 105.7L360.6 106.1L358.5 106.0L356.8 105.3L355.6 104.2L354.7 103.1L354.0 102.3Z" fill="#e8a0a0" fill-opacity="0.45" stroke="none"/>
<path d="M354.0 98.6L354.7 99.3L355.6 100.5L356.8 101.6L358.5 102.3L360.6 102.3L363.0 102.0L365.8 101.5L368.9 101.2L372.3 101.2L376.1 101.2L380.0 101.2L383.8 101.2L387.5 101.3L391.2 101.4L394.9 101.4L398.7 101.2L402.9 100.8L407.3 100.2L411.5 99.6L415.1 99.3L418.0 99.5L420.4 99.9L422.3 100.4L424.0 100.8L425.3 101.0L426.0 101.1L426.8 101.2L428.0 101.2L429.9 101.3L432.3 101.4L434.7 101.5L436.9 101.5L438.9 101.8L440.9 102.1L442.7 102.2L444.4 101.5L446.0 100.0L447.5 97.8L449.0 95.3L450.4 92.6L451.7 89.8L453.1 86.8L454.3 83.7L455.6 80.7L456.7 77.7L457.8 74.8L458.9 72.0L460.0 69.5L461.3 67.5L462.6 65.9L463.9 64.4L465.3 62.8L466.7 61.0L468.3 59.2L469.8 57.3L471.2 55.4L472.4 53.1L473.5 50.7L474.6 48.4L475.7 46.4L476.8 44.9L477.8 43.7L478.9 42.8L480.2 41.9L481.5 41.3L483.0 40.8L484.5 40.5L486.1 40.2L488.0 39.8L489.9 39.6L491.9 39.4L493.6 39.3L494.9 39.2L495.9 39.3L496.9 39.4L498.0 39.7L499.6 40.3L501.3 41.0L502.9 41.7L504.0 42.2" fill="none" stroke="#c42a2e" stroke-width="1.3" stroke-opacity="1.0" stroke-linejoin="round" stroke-linecap="round"/>
</g>
<line x1="415.1" y1="16.8" x2="415.1" y2="134.1" stroke="#3a3a3a" stroke-width="1.0" stroke-dasharray="2.7,2.6"/>
<rect x="354.5" y="16.8" width="148.4" height="117.3" fill="none" stroke="#7a7a7a" stroke-width="0.9"/>
<path d="M366.7 134.1v-2.0M366.7 16.8v2.0M390.9 134.1v-2.0M390.9 16.8v2.0M415.1 134.1v-2.0M415.1 16.8v2.0M439.3 134.1v-2.0M439.3 16.8v2.0M463.5 134.1v-2.0M463.5 16.8v2.0M487.7 134.1v-2.0M487.7 16.8v2.0" stroke="#7a7a7a" stroke-width="0.8" fill="none"/>
<text x="366.7" y="142.7" font-size="8.2" text-anchor="middle" font-weight="normal" fill="#111" stroke="#111" stroke-width="0.16" >-200</text>
<text x="390.9" y="142.7" font-size="8.2" text-anchor="middle" font-weight="normal" fill="#111" stroke="#111" stroke-width="0.16" >-100</text>
<text x="415.1" y="142.7" font-size="8.2" text-anchor="middle" font-weight="normal" fill="#111" stroke="#111" stroke-width="0.16" >0</text>
<text x="439.3" y="142.7" font-size="8.2" text-anchor="middle" font-weight="normal" fill="#111" stroke="#111" stroke-width="0.16" >100</text>
<text x="463.5" y="142.7" font-size="8.2" text-anchor="middle" font-weight="normal" fill="#111" stroke="#111" stroke-width="0.16" >200</text>
<text x="487.7" y="142.7" font-size="8.2" text-anchor="middle" font-weight="normal" fill="#111" stroke="#111" stroke-width="0.16" >300</text>
<path d="M354.5 119.74h2.0M502.9 119.74h-2.0M354.5 101.1h2.0M502.9 101.1h-2.0M354.5 82.46h2.0M502.9 82.46h-2.0M354.5 63.82h2.0M502.9 63.82h-2.0M354.5 45.18h2.0M502.9 45.18h-2.0M354.5 26.54h2.0M502.9 26.54h-2.0" stroke="#7a7a7a" stroke-width="0.8" fill="none"/>
<text x="353.5" y="122.54" font-size="8.2" text-anchor="end" font-weight="normal" fill="#111" stroke="#111" stroke-width="0.16" >0.4</text>
<text x="353.5" y="103.9" font-size="8.2" text-anchor="end" font-weight="normal" fill="#111" stroke="#111" stroke-width="0.16" >0.5</text>
<text x="353.5" y="85.26" font-size="8.2" text-anchor="end" font-weight="normal" fill="#111" stroke="#111" stroke-width="0.16" >0.6</text>
<text x="353.5" y="66.62" font-size="8.2" text-anchor="end" font-weight="normal" fill="#111" stroke="#111" stroke-width="0.16" >0.7</text>
<text x="353.5" y="47.98" font-size="8.2" text-anchor="end" font-weight="normal" fill="#111" stroke="#111" stroke-width="0.16" >0.8</text>
<text x="353.5" y="29.34" font-size="8.2" text-anchor="end" font-weight="normal" fill="#111" stroke="#111" stroke-width="0.16" >0.9</text>
<text x="425.9" y="150.3" font-size="8.0" text-anchor="middle" font-weight="normal" fill="#111" stroke="#111" stroke-width="0.16" >Time (ms)</text>
<g clip-path="url(#c522_16)">
<path d="M522.0 90.8L523.6 90.9L525.9 91.0L528.5 91.2L530.9 91.5L533.2 92.1L535.4 92.8L537.6 93.5L539.9 93.7L542.2 93.5L544.4 92.8L546.7 92.1L548.8 91.5L550.8 91.1L552.6 90.8L554.3 90.6L556.3 90.8L558.4 91.5L560.7 92.7L562.9 93.9L565.2 94.5L567.5 94.3L569.7 93.7L571.9 92.9L574.2 92.3L576.4 91.9L578.6 91.5L580.9 91.3L583.1 91.1L585.5 90.9L587.9 90.8L590.2 90.8L592.0 90.8L593.1 90.8L593.6 90.8L594.4 90.9L596.0 90.8L599.1 90.6L603.2 90.5L607.4 90.1L610.9 89.3L613.3 87.9L615.1 86.2L616.7 84.1L618.4 81.8L620.2 79.1L622.0 75.9L623.8 72.7L625.8 69.9L628.0 67.3L630.4 64.7L632.7 62.7L634.7 61.7L636.4 62.0L637.9 63.2L639.3 64.9L640.7 66.9L642.2 69.2L643.7 71.9L645.2 74.7L646.7 77.4L648.2 79.8L649.7 82.2L651.1 84.4L652.6 86.3L653.9 87.8L655.1 89.1L656.6 90.1L658.6 90.8L661.7 91.1L665.7 91.0L669.4 90.9L672.0 90.8L672.0 97.4L669.4 97.5L665.7 97.7L661.7 97.7L658.6 97.4L656.6 96.7L655.1 95.8L653.9 94.5L652.6 93.0L651.1 91.1L649.7 88.9L648.2 86.5L646.7 84.0L645.2 81.4L643.7 78.6L642.2 75.9L640.7 73.6L639.3 71.6L637.9 69.8L636.4 68.6L634.7 68.4L632.7 69.4L630.4 71.4L628.0 73.9L625.8 76.6L623.8 79.4L622.0 82.6L620.2 85.7L618.4 88.5L616.7 90.8L615.1 92.9L613.3 94.6L610.9 95.9L607.4 96.8L603.2 97.2L599.1 97.3L596.0 97.4L594.4 97.5L593.6 97.5L593.1 97.4L592.0 97.4L590.2 97.5L587.9 97.5L585.5 97.6L583.1 97.7L580.9 97.9L578.6 98.2L576.4 98.5L574.2 98.9L571.9 99.5L569.7 100.3L567.5 101.0L565.2 101.2L562.9 100.5L560.7 99.4L558.4 98.2L556.3 97.4L554.3 97.3L552.6 97.4L550.8 97.8L548.8 98.2L546.7 98.7L544.4 99.5L542.2 100.1L539.9 100.4L537.6 100.1L535.4 99.5L533.2 98.7L530.9 98.2L528.5 97.9L525.9 97.7L523.6 97.5L522.0 97.4Z" fill="#dfe6f2" fill-opacity="0.5" stroke="none"/>
<path d="M522.0 94.1L523.6 94.2L525.9 94.3L528.5 94.5L530.9 94.8L533.2 95.4L535.4 96.1L537.6 96.8L539.9 97.1L542.2 96.8L544.4 96.1L546.7 95.4L548.8 94.8L550.8 94.4L552.6 94.1L554.3 93.9L556.3 94.1L558.4 94.9L560.7 96.1L562.9 97.2L565.2 97.8L567.5 97.7L569.7 97.0L571.9 96.2L574.2 95.6L576.4 95.2L578.6 94.9L580.9 94.6L583.1 94.4L585.5 94.3L587.9 94.2L590.2 94.1L592.0 94.1L593.1 94.1L593.6 94.2L594.4 94.2L596.0 94.1L599.1 94.0L603.2 93.8L607.4 93.4L610.9 92.6L613.3 91.3L615.1 89.5L616.7 87.5L618.4 85.2L620.2 82.4L622.0 79.2L623.8 76.1L625.8 73.2L628.0 70.6L630.4 68.1L632.7 66.1L634.7 65.0L636.4 65.3L637.9 66.5L639.3 68.3L640.7 70.3L642.2 72.5L643.7 75.2L645.2 78.1L646.7 80.7L648.2 83.1L649.7 85.5L651.1 87.7L652.6 89.6L653.9 91.2L655.1 92.4L656.6 93.4L658.6 94.1L661.7 94.4L665.7 94.4L669.4 94.2L672.0 94.1" fill="none" stroke="#c4cbda" stroke-width="0.9" stroke-opacity="1.0" stroke-linejoin="round" stroke-linecap="round"/>
<path d="M522.0 90.8L524.3 90.5L527.6 90.2L531.1 89.7L533.9 89.3L535.8 88.6L537.3 87.8L538.5 87.2L539.9 87.0L541.4 87.6L542.9 88.7L544.4 89.9L545.8 90.8L547.3 91.4L548.6 91.8L550.1 92.1L551.8 92.3L553.9 92.0L556.3 91.6L558.7 91.1L560.7 90.8L562.3 90.8L563.6 91.1L565.0 91.4L566.7 91.5L569.1 91.5L571.9 91.4L574.7 91.2L577.1 91.1L578.9 91.1L580.3 91.2L581.6 91.2L583.1 90.8L585.1 89.7L587.3 88.1L589.4 86.6L591.3 86.0L592.3 86.6L592.8 88.0L593.7 89.6L596.0 90.8L600.7 91.4L607.1 91.9L613.5 91.9L618.4 91.5L621.2 90.3L622.8 88.4L623.9 86.5L625.1 84.8L626.5 83.5L627.8 82.4L629.1 81.6L630.3 81.1L631.4 81.1L632.6 81.6L633.6 82.2L634.7 82.6L635.8 82.6L636.9 82.4L638.0 82.2L639.2 81.8L640.5 81.3L641.9 80.6L643.2 79.9L644.4 79.6L645.5 79.6L646.3 79.9L647.2 80.4L648.2 81.1L649.2 82.2L650.3 83.7L651.4 85.2L652.6 86.3L654.0 86.7L655.5 86.8L657.1 86.8L658.6 87.0L660.0 87.7L661.5 88.6L663.0 89.5L664.6 90.0L666.5 90.1L668.7 89.8L670.6 89.5L672.0 89.3L672.0 95.9L670.6 96.2L668.7 96.5L666.5 96.7L664.6 96.7L663.0 96.1L661.5 95.3L660.0 94.4L658.6 93.7L657.1 93.5L655.5 93.5L654.0 93.4L652.6 93.0L651.4 91.9L650.3 90.4L649.2 88.9L648.2 87.7L647.2 87.0L646.3 86.5L645.5 86.3L644.4 86.3L643.2 86.6L641.9 87.2L640.5 87.9L639.2 88.5L638.0 88.8L636.9 89.1L635.8 89.2L634.7 89.2L633.6 88.9L632.6 88.3L631.4 87.8L630.3 87.7L629.1 88.2L627.8 89.1L626.5 90.2L625.1 91.5L623.9 93.1L622.8 95.1L621.2 97.0L618.4 98.2L613.5 98.6L607.1 98.5L600.7 98.1L596.0 97.4L593.7 96.3L592.8 94.7L592.3 93.3L591.3 92.7L589.4 93.3L587.3 94.7L585.1 96.3L583.1 97.4L581.6 97.8L580.3 97.8L578.9 97.7L577.1 97.7L574.7 97.9L571.9 98.0L569.1 98.1L566.7 98.2L565.0 98.0L563.6 97.7L562.3 97.5L560.7 97.4L558.7 97.7L556.3 98.2L553.9 98.7L551.8 98.9L550.1 98.8L548.6 98.5L547.3 98.0L545.8 97.4L544.4 96.5L542.9 95.3L541.4 94.3L539.9 93.7L538.5 93.9L537.3 94.5L535.8 95.3L533.9 95.9L531.1 96.4L527.6 96.8L524.3 97.2L522.0 97.4Z" fill="#c5d3f7" fill-opacity="0.45" stroke="none"/>
<path d="M522.0 94.1L524.3 93.8L527.6 93.5L531.1 93.1L533.9 92.6L535.8 92.0L537.3 91.2L538.5 90.5L539.9 90.4L541.4 90.9L542.9 92.0L544.4 93.2L545.8 94.1L547.3 94.7L548.6 95.2L550.1 95.5L551.8 95.6L553.9 95.4L556.3 94.9L558.7 94.4L560.7 94.1L562.3 94.2L563.6 94.4L565.0 94.7L566.7 94.8L569.1 94.8L571.9 94.7L574.7 94.5L577.1 94.4L578.9 94.4L580.3 94.5L581.6 94.5L583.1 94.1L585.1 93.0L587.3 91.4L589.4 90.0L591.3 89.3L592.3 89.9L592.8 91.4L593.7 93.0L596.0 94.1L600.7 94.7L607.1 95.2L613.5 95.3L618.4 94.8L621.2 93.6L622.8 91.8L623.9 89.8L625.1 88.1L626.5 86.9L627.8 85.8L629.1 84.9L630.3 84.4L631.4 84.5L632.6 85.0L633.6 85.6L634.7 85.9L635.8 85.9L636.9 85.8L638.0 85.5L639.2 85.2L640.5 84.6L641.9 83.9L643.2 83.3L644.4 82.9L645.5 82.9L646.3 83.2L647.2 83.7L648.2 84.4L649.2 85.6L650.3 87.1L651.4 88.6L652.6 89.6L654.0 90.1L655.5 90.1L657.1 90.1L658.6 90.4L660.0 91.1L661.5 92.0L663.0 92.8L664.6 93.4L666.5 93.4L668.7 93.2L670.6 92.8L672.0 92.6" fill="none" stroke="#5b8cf2" stroke-width="1.0" stroke-opacity="1.0" stroke-linejoin="round" stroke-linecap="round"/>
<path d="M522.0 84.5L522.9 83.3L524.3 81.6L525.8 79.9L527.2 78.5L528.5 77.5L529.9 76.6L531.2 76.0L532.4 75.8L533.6 76.2L534.6 76.9L535.7 78.0L536.9 79.2L538.3 80.7L539.7 82.5L541.3 84.4L542.9 86.0L544.5 87.5L546.3 89.0L548.0 90.1L549.6 90.4L550.8 89.7L551.9 88.2L552.9 86.4L554.0 84.5L555.3 82.3L556.6 79.9L557.9 77.7L559.3 76.3L560.6 76.1L561.9 76.8L563.2 77.6L564.5 77.8L565.8 76.9L567.0 75.6L568.3 74.1L569.7 72.5L571.2 70.9L572.8 69.0L574.3 67.4L575.7 66.6L576.7 66.7L577.7 67.4L578.5 68.9L579.4 71.1L580.3 74.6L581.2 79.2L582.1 83.9L583.1 87.4L584.2 89.4L585.3 90.5L586.4 91.2L587.6 91.9L588.7 93.0L589.8 94.1L591.0 94.9L592.0 94.9L593.1 93.8L594.0 91.9L595.0 89.7L596.0 87.4L597.1 85.2L598.2 82.8L599.3 80.5L600.5 78.5L601.6 76.7L602.7 75.0L603.8 73.8L604.9 73.7L606.1 75.0L607.2 77.3L608.3 80.1L609.4 83.0L610.5 86.5L611.6 90.7L612.8 94.2L613.9 95.6L615.0 94.4L616.1 91.4L617.2 87.3L618.4 83.0L619.6 78.1L620.9 72.5L622.2 66.9L623.6 62.1L624.9 57.9L626.1 54.0L627.4 51.0L628.8 49.4L630.2 49.8L631.7 51.7L633.2 54.3L634.7 56.9L636.2 59.5L637.7 62.5L639.2 65.5L640.7 68.1L642.2 70.1L643.8 71.9L645.3 73.4L646.7 74.8L647.9 75.8L649.0 76.6L650.1 77.4L651.1 78.5L652.2 80.2L653.3 82.2L654.4 84.2L655.6 86.0L657.0 87.3L658.6 88.6L660.2 89.6L661.6 90.4L662.8 91.1L663.8 91.6L664.9 91.9L666.0 91.9L667.6 91.4L669.3 90.5L670.9 89.6L672.0 88.9L672.0 102.2L670.9 102.9L669.3 103.8L667.6 104.7L666.0 105.2L664.9 105.2L663.8 105.0L662.8 104.4L661.6 103.7L660.2 102.9L658.6 101.9L657.0 100.7L655.6 99.3L654.4 97.5L653.3 95.5L652.2 93.5L651.1 91.8L650.1 90.7L649.0 89.9L647.9 89.1L646.7 88.1L645.3 86.7L643.8 85.2L642.2 83.5L640.7 81.4L639.2 78.8L637.7 75.9L636.2 72.9L634.7 70.2L633.2 67.6L631.7 65.0L630.2 63.1L628.8 62.8L627.4 64.3L626.1 67.3L624.9 71.2L623.6 75.4L622.2 80.3L620.9 85.9L619.6 91.5L618.4 96.3L617.2 100.6L616.1 104.7L615.0 107.8L613.9 109.0L612.8 107.5L611.6 104.0L610.5 99.8L609.4 96.3L608.3 93.4L607.2 90.6L606.1 88.3L604.9 87.1L603.8 87.2L602.7 88.3L601.6 90.0L600.5 91.8L599.3 93.8L598.2 96.1L597.1 98.5L596.0 100.8L595.0 103.0L594.0 105.2L593.1 107.1L592.0 108.2L591.0 108.2L589.8 107.5L588.7 106.3L587.6 105.2L586.4 104.5L585.3 103.8L584.2 102.8L583.1 100.8L582.1 97.2L581.2 92.6L580.3 87.9L579.4 84.4L578.5 82.2L577.7 80.7L576.7 80.0L575.7 79.9L574.3 80.7L572.8 82.3L571.2 84.2L569.7 85.9L568.3 87.4L567.0 88.9L565.8 90.3L564.5 91.1L563.2 90.9L561.9 90.1L560.6 89.4L559.3 89.6L557.9 91.0L556.6 93.2L555.3 95.7L554.0 97.8L552.9 99.7L551.9 101.6L550.8 103.0L549.6 103.7L548.0 103.4L546.3 102.3L544.5 100.8L542.9 99.3L541.3 97.7L539.7 95.9L538.3 94.1L536.9 92.6L535.7 91.3L534.6 90.3L533.6 89.5L532.4 89.1L531.2 89.3L529.9 89.9L528.5 90.8L527.2 91.8L525.8 93.2L524.3 95.0L522.9 96.6L522.0 97.8Z" fill="#f8c8b0" fill-opacity="0.45" stroke="none"/>
<path d="M522.0 91.1L522.9 90.0L524.3 88.3L525.8 86.6L527.2 85.2L528.5 84.1L529.9 83.2L531.2 82.6L532.4 82.5L533.6 82.8L534.6 83.6L535.7 84.7L536.9 85.9L538.3 87.4L539.7 89.2L541.3 91.0L542.9 92.6L544.5 94.1L546.3 95.6L548.0 96.7L549.6 97.1L550.8 96.4L551.9 94.9L552.9 93.0L554.0 91.1L555.3 89.0L556.6 86.6L557.9 84.3L559.3 82.9L560.6 82.8L561.9 83.5L563.2 84.3L564.5 84.4L565.8 83.6L567.0 82.3L568.3 80.7L569.7 79.2L571.2 77.5L572.8 75.6L574.3 74.0L575.7 73.2L576.7 73.3L577.7 74.1L578.5 75.5L579.4 77.7L580.3 81.2L581.2 85.9L582.1 90.6L583.1 94.1L584.2 96.1L585.3 97.2L586.4 97.8L587.6 98.6L588.7 99.7L589.8 100.8L591.0 101.6L592.0 101.5L593.1 100.5L594.0 98.6L595.0 96.3L596.0 94.1L597.1 91.9L598.2 89.5L599.3 87.1L600.5 85.2L601.6 83.3L602.7 81.6L603.8 80.5L604.9 80.4L606.1 81.6L607.2 83.9L608.3 86.8L609.4 89.6L610.5 93.1L611.6 97.3L612.8 100.8L613.9 102.3L615.0 101.1L616.1 98.1L617.2 94.0L618.4 89.6L619.6 84.8L620.9 79.2L622.2 73.6L623.6 68.8L624.9 64.6L626.1 60.7L627.4 57.7L628.8 56.1L630.2 56.5L631.7 58.3L633.2 61.0L634.7 63.6L636.2 66.2L637.7 69.2L639.2 72.2L640.7 74.7L642.2 76.8L643.8 78.5L645.3 80.1L646.7 81.4L647.9 82.5L649.0 83.3L650.1 84.0L651.1 85.2L652.2 86.8L653.3 88.8L654.4 90.9L655.6 92.6L657.0 94.0L658.6 95.2L660.2 96.2L661.6 97.1L662.8 97.8L663.8 98.3L664.9 98.6L666.0 98.6L667.6 98.1L669.3 97.2L670.9 96.2L672.0 95.6" fill="none" stroke="#f38e66" stroke-width="1.0" stroke-opacity="1.0" stroke-linejoin="round" stroke-linecap="round"/>
<path d="M522.0 93.3L524.7 93.3L528.5 93.3L532.8 93.3L536.9 93.3L540.6 93.4L544.4 93.5L548.1 93.7L551.8 93.7L555.5 93.7L559.2 93.5L562.9 93.4L566.7 93.3L570.9 93.3L575.3 93.3L579.5 93.3L583.1 93.3L586.0 93.3L588.4 93.3L590.3 93.3L592.0 93.3L592.6 93.3L592.3 93.3L592.8 93.3L596.0 93.3L603.7 93.3L614.4 93.3L625.3 93.3L633.3 93.3L637.3 93.3L639.1 93.3L639.8 93.3L640.7 93.0L641.9 92.5L642.8 91.9L643.5 91.0L644.4 90.0L645.5 88.4L646.7 86.4L647.8 84.7L648.9 84.1L649.9 85.1L650.9 87.3L651.8 89.7L652.6 91.5L653.4 92.5L654.0 93.0L654.7 93.4L655.6 93.7L656.8 94.1L658.1 94.4L659.7 94.5L661.6 94.5L664.1 94.1L667.2 93.4L670.0 92.7L672.0 92.2L672.0 94.5L670.0 94.9L667.2 95.6L664.1 96.3L661.6 96.7L659.7 96.8L658.1 96.6L656.8 96.3L655.6 96.0L654.7 95.6L654.0 95.3L653.4 94.7L652.6 93.7L651.8 91.9L650.9 89.5L649.9 87.3L648.9 86.3L647.8 86.9L646.7 88.6L645.5 90.6L644.4 92.2L643.5 93.2L642.8 94.1L641.9 94.7L640.7 95.2L639.8 95.5L639.1 95.5L637.3 95.5L633.3 95.5L625.3 95.5L614.4 95.5L603.7 95.5L596.0 95.5L592.8 95.5L592.3 95.5L592.6 95.5L592.0 95.5L590.3 95.5L588.4 95.5L586.0 95.5L583.1 95.5L579.5 95.5L575.3 95.5L570.9 95.5L566.7 95.5L562.9 95.6L559.2 95.8L555.5 95.9L551.8 96.0L548.1 95.9L544.4 95.8L540.6 95.6L536.9 95.5L532.8 95.5L528.5 95.5L524.7 95.5L522.0 95.5Z" fill="#a8b0e8" fill-opacity="0.3" stroke="none"/>
<path d="M522.0 94.4L524.7 94.4L528.5 94.4L532.8 94.4L536.9 94.4L540.6 94.5L544.4 94.6L548.1 94.8L551.8 94.8L555.5 94.8L559.2 94.6L562.9 94.5L566.7 94.4L570.9 94.4L575.3 94.4L579.5 94.4L583.1 94.4L586.0 94.4L588.4 94.4L590.3 94.4L592.0 94.4L592.6 94.4L592.3 94.4L592.8 94.4L596.0 94.4L603.7 94.4L614.4 94.4L625.3 94.4L633.3 94.4L637.3 94.4L639.1 94.4L639.8 94.4L640.7 94.1L641.9 93.6L642.8 93.0L643.5 92.1L644.4 91.1L645.5 89.5L646.7 87.5L647.8 85.8L648.9 85.2L649.9 86.2L650.9 88.4L651.8 90.8L652.6 92.6L653.4 93.6L654.0 94.1L654.7 94.5L655.6 94.8L656.8 95.2L658.1 95.5L659.7 95.6L661.6 95.6L664.1 95.2L667.2 94.5L670.0 93.8L672.0 93.4" fill="none" stroke="#3b4cc0" stroke-width="1.0" stroke-opacity="1.0" stroke-linejoin="round" stroke-linecap="round"/>
<path d="M522.0 91.4L524.7 91.4L528.6 91.3L532.9 91.3L536.9 91.4L540.3 91.8L543.5 92.3L546.8 92.7L550.3 92.9L554.2 92.7L558.3 92.3L562.5 91.8L566.7 91.4L571.1 91.4L575.7 91.5L579.8 91.6L583.1 91.7L585.1 91.9L586.1 92.0L586.7 92.1L587.6 92.2L588.7 92.1L589.8 91.8L591.0 91.6L592.0 91.4L593.0 91.4L593.7 91.5L594.7 91.6L596.0 91.7L597.9 91.9L600.3 92.0L602.7 92.1L604.9 92.2L606.9 92.4L608.9 92.7L610.7 92.7L612.4 91.7L614.0 89.6L615.5 86.5L616.9 83.0L618.4 79.5L619.9 75.9L621.4 72.1L622.9 68.3L624.3 64.6L625.7 61.0L627.0 57.4L628.2 54.1L629.5 51.2L630.9 49.0L632.2 47.3L633.5 45.8L634.7 44.5L635.9 43.1L637.1 41.8L638.2 40.9L639.2 40.8L640.2 41.7L641.1 43.3L642.0 45.6L642.9 48.2L643.9 51.4L644.8 55.0L645.7 59.0L646.7 63.1L647.6 67.6L648.5 72.4L649.5 77.0L650.4 81.0L651.3 84.2L652.2 86.8L653.1 89.0L654.1 90.7L655.2 91.9L656.2 92.6L657.4 92.9L658.6 92.9L660.0 92.7L661.6 92.1L663.1 91.4L664.6 90.7L665.8 90.1L667.0 89.4L668.0 88.8L669.0 88.5L669.9 88.4L670.8 88.5L671.5 88.6L672.0 88.8L672.0 94.1L671.5 94.0L670.8 93.8L669.9 93.7L669.0 93.8L668.0 94.2L667.0 94.7L665.8 95.4L664.6 96.0L663.1 96.7L661.6 97.4L660.0 98.0L658.6 98.3L657.4 98.2L656.2 97.9L655.2 97.2L654.1 96.0L653.1 94.3L652.2 92.2L651.3 89.5L650.4 86.3L649.5 82.4L648.5 77.7L647.6 72.9L646.7 68.5L645.7 64.3L644.8 60.4L643.9 56.7L642.9 53.6L642.0 50.9L641.1 48.7L640.2 47.0L639.2 46.1L638.2 46.2L637.1 47.1L635.9 48.4L634.7 49.8L633.5 51.1L632.2 52.6L630.9 54.3L629.5 56.5L628.2 59.4L627.0 62.7L625.7 66.3L624.3 69.9L622.9 73.6L621.4 77.5L619.9 81.3L618.4 84.8L616.9 88.4L615.5 91.9L614.0 94.9L612.4 97.1L610.7 98.0L608.9 98.1L606.9 97.7L604.9 97.5L602.7 97.5L600.3 97.3L597.9 97.2L596.0 97.1L594.7 97.0L593.7 96.8L593.0 96.8L592.0 96.8L591.0 96.9L589.8 97.1L588.7 97.4L587.6 97.5L586.7 97.5L586.1 97.4L585.1 97.2L583.1 97.1L579.8 96.9L575.7 96.8L571.1 96.7L566.7 96.8L562.5 97.1L558.3 97.6L554.2 98.0L550.3 98.3L546.8 98.1L543.5 97.6L540.3 97.1L536.9 96.8L532.9 96.7L528.6 96.7L524.7 96.7L522.0 96.8Z" fill="#e8a0a0" fill-opacity="0.45" stroke="none"/>
<path d="M522.0 94.1L524.7 94.1L528.6 94.0L532.9 94.0L536.9 94.1L540.3 94.4L543.5 94.9L546.8 95.4L550.3 95.6L554.2 95.4L558.3 94.9L562.5 94.4L566.7 94.1L571.1 94.0L575.7 94.1L579.8 94.3L583.1 94.4L585.1 94.5L586.1 94.7L586.7 94.8L587.6 94.8L588.7 94.7L589.8 94.5L591.0 94.2L592.0 94.1L593.0 94.1L593.7 94.2L594.7 94.3L596.0 94.4L597.9 94.5L600.3 94.7L602.7 94.8L604.9 94.8L606.9 95.1L608.9 95.4L610.7 95.4L612.4 94.4L614.0 92.2L615.5 89.2L616.9 85.7L618.4 82.2L619.9 78.6L621.4 74.8L622.9 71.0L624.3 67.3L625.7 63.7L627.0 60.1L628.2 56.7L629.5 53.9L630.9 51.7L632.2 49.9L633.5 48.5L634.7 47.2L635.9 45.8L637.1 44.4L638.2 43.5L639.2 43.4L640.2 44.3L641.1 46.0L642.0 48.2L642.9 50.9L643.9 54.0L644.8 57.7L645.7 61.7L646.7 65.8L647.6 70.2L648.5 75.1L649.5 79.7L650.4 83.7L651.3 86.8L652.2 89.5L653.1 91.6L654.1 93.4L655.2 94.5L656.2 95.2L657.4 95.5L658.6 95.6L660.0 95.3L661.6 94.8L663.1 94.0L664.6 93.4L665.8 92.7L667.0 92.1L668.0 91.5L669.0 91.1L669.9 91.0L670.8 91.1L671.5 91.3L672.0 91.4" fill="none" stroke="#c42a2e" stroke-width="1.3" stroke-opacity="1.0" stroke-linejoin="round" stroke-linecap="round"/>
</g>
<line x1="583" y1="16.8" x2="583" y2="134.1" stroke="#3a3a3a" stroke-width="1.0" stroke-dasharray="2.7,2.6"/>
<rect x="522.9" y="16.8" width="148.4" height="117.3" fill="none" stroke="#7a7a7a" stroke-width="0.9"/>
<path d="M535 134.1v-2.0M535 16.8v2.0M559 134.1v-2.0M559 16.8v2.0M583 134.1v-2.0M583 16.8v2.0M607 134.1v-2.0M607 16.8v2.0M631 134.1v-2.0M631 16.8v2.0M655 134.1v-2.0M655 16.8v2.0" stroke="#7a7a7a" stroke-width="0.8" fill="none"/>
<text x="535" y="142.7" font-size="8.2" text-anchor="middle" font-weight="normal" fill="#111" stroke="#111" stroke-width="0.16" >-200</text>
<text x="559" y="142.7" font-size="8.2" text-anchor="middle" font-weight="normal" fill="#111" stroke="#111" stroke-width="0.16" >-100</text>
<text x="583" y="142.7" font-size="8.2" text-anchor="middle" font-weight="normal" fill="#111" stroke="#111" stroke-width="0.16" >0</text>
<text x="607" y="142.7" font-size="8.2" text-anchor="middle" font-weight="normal" fill="#111" stroke="#111" stroke-width="0.16" >100</text>
<text x="631" y="142.7" font-size="8.2" text-anchor="middle" font-weight="normal" fill="#111" stroke="#111" stroke-width="0.16" >200</text>
<text x="655" y="142.7" font-size="8.2" text-anchor="middle" font-weight="normal" fill="#111" stroke="#111" stroke-width="0.16" >300</text>
<path d="M522.9 127.4h2.0M671.3 127.4h-2.0M522.9 116.3h2.0M671.3 116.3h-2.0M522.9 105.2h2.0M671.3 105.2h-2.0M522.9 94.1h2.0M671.3 94.1h-2.0M522.9 83h2.0M671.3 83h-2.0M522.9 71.9h2.0M671.3 71.9h-2.0M522.9 60.8h2.0M671.3 60.8h-2.0M522.9 49.7h2.0M671.3 49.7h-2.0M522.9 38.6h2.0M671.3 38.6h-2.0M522.9 27.5h2.0M671.3 27.5h-2.0M522.9 16.4h2.0M671.3 16.4h-2.0" stroke="#7a7a7a" stroke-width="0.8" fill="none"/>
<text x="521.9" y="119.1" font-size="8.2" text-anchor="end" font-weight="normal" fill="#111" stroke="#111" stroke-width="0.16" >0.4</text>
<text x="521.9" y="96.9" font-size="8.2" text-anchor="end" font-weight="normal" fill="#111" stroke="#111" stroke-width="0.16" >0.5</text>
<text x="521.9" y="74.7" font-size="8.2" text-anchor="end" font-weight="normal" fill="#111" stroke="#111" stroke-width="0.16" >0.6</text>
<text x="521.9" y="52.5" font-size="8.2" text-anchor="end" font-weight="normal" fill="#111" stroke="#111" stroke-width="0.16" >0.7</text>
<text x="521.9" y="30.3" font-size="8.2" text-anchor="end" font-weight="normal" fill="#111" stroke="#111" stroke-width="0.16" >0.8</text>
<text x="592.5" y="150.3" font-size="8.0" text-anchor="middle" font-weight="normal" fill="#111" stroke="#111" stroke-width="0.16" >Time (ms)</text>
<line x1="277.1" y1="19.9" x2="337.2" y2="19.9" stroke="#d46a6a" stroke-width="1.9"/>
<line x1="267.5" y1="22.4" x2="333.8" y2="22.4" stroke="#f49878" stroke-width="1.0"/>
<line x1="277.1" y1="24.9" x2="329" y2="24.9" stroke="#e2e6ef" stroke-width="1.3"/>
<line x1="270" y1="27.4" x2="287" y2="27.4" stroke="#6a8ff0" stroke-width="1.0"/>
<line x1="453" y1="19.3" x2="502.8" y2="19.3" stroke="#cc4a48" stroke-width="1.6"/>
<line x1="455.2" y1="21.6" x2="502.8" y2="21.6" stroke="#f7a286" stroke-width="1.0"/>
<line x1="448.2" y1="24.2" x2="499" y2="24.2" stroke="#dde2ec" stroke-width="1.0"/>
<line x1="619.3" y1="19.2" x2="648.2" y2="19.2" stroke="#cc3a38" stroke-width="1.4"/>
<line x1="621.9" y1="22.6" x2="640.8" y2="22.6" stroke="#f49a7c" stroke-width="1.0"/>
<line x1="626.4" y1="25.5" x2="643.5" y2="25.5" stroke="#d6dcea" stroke-width="1.0"/>
<rect x="82.6" y="159.5" width="34" height="33.7" fill="#3f51b0" stroke="none" stroke-width="0.8" />
<rect x="116.6" y="159.5" width="20.8" height="33.7" fill="#98b2e4" stroke="none" stroke-width="0.8" />
<rect x="137.4" y="159.5" width="6.8" height="33.7" fill="#dadde6" stroke="none" stroke-width="0.8" />
<rect x="144.2" y="159.5" width="7.8" height="33.7" fill="#f9aa8b" stroke="none" stroke-width="0.8" />
<rect x="152" y="159.5" width="16.2" height="33.7" fill="#c93b36" stroke="none" stroke-width="0.8" />
<line x1="116.6" y1="159.5" x2="116.6" y2="193.2" stroke="#333" stroke-width="0.6" stroke-opacity="0.8"/>
<line x1="137.4" y1="159.5" x2="137.4" y2="193.2" stroke="#333" stroke-width="0.6" stroke-opacity="0.8"/>
<line x1="144.2" y1="159.5" x2="144.2" y2="193.2" stroke="#333" stroke-width="0.6" stroke-opacity="0.8"/>
<line x1="152" y1="159.5" x2="152" y2="193.2" stroke="#333" stroke-width="0.6" stroke-opacity="0.8"/>
<rect x="82.6" y="159.5" width="85.6" height="33.7" fill="none" stroke="#8a8a8a" stroke-width="0.8" />
<line x1="82.6" y1="176.5" x2="168.2" y2="176.5" stroke="#111" stroke-width="1.3"/>
<text x="78.3" y="170.3" font-size="8.0" text-anchor="end" font-weight="normal" fill="#111" stroke="#111" stroke-width="0.16" >Face</text>
<text x="78.3" y="187" font-size="8.0" text-anchor="end" font-weight="normal" fill="#111" stroke="#111" stroke-width="0.16" >Body + Objects</text>
<text x="99.6" y="171.3" font-size="7.9" text-anchor="middle" font-weight="normal" fill="#111" stroke="#111" stroke-width="0.16" >45</text>
<text x="127" y="171.3" font-size="7.9" text-anchor="middle" font-weight="normal" fill="#111" stroke="#111" stroke-width="0.16" >22</text>
<text x="140.8" y="171.3" font-size="7.9" text-anchor="middle" font-weight="normal" fill="#111" stroke="#111" stroke-width="0.16" >9</text>
<text x="148.1" y="171.3" font-size="7.9" text-anchor="middle" font-weight="normal" fill="#111" stroke="#111" stroke-width="0.16" >8</text>
<text x="160.1" y="171.3" font-size="7.9" text-anchor="middle" font-weight="normal" fill="#111" stroke="#111" stroke-width="0.16" >17</text>
<text x="99.6" y="188" font-size="7.9" text-anchor="middle" font-weight="normal" fill="#111" stroke="#111" stroke-width="0.16" >111</text>
<text x="127" y="188" font-size="7.9" text-anchor="middle" font-weight="normal" fill="#111" stroke="#111" stroke-width="0.16" >75</text>
<text x="140.8" y="188" font-size="7.9" text-anchor="middle" font-weight="normal" fill="#111" stroke="#111" stroke-width="0.16" >21</text>
<text x="148.1" y="188" font-size="7.9" text-anchor="middle" font-weight="normal" fill="#111" stroke="#111" stroke-width="0.16" >27</text>
<text x="160.1" y="188" font-size="7.9" text-anchor="middle" font-weight="normal" fill="#111" stroke="#111" stroke-width="0.16" >58</text>
<rect x="252.3" y="159.5" width="14.5" height="33.7" fill="#3f51b0" stroke="none" stroke-width="0.8" />
<rect x="266.8" y="159.5" width="15.9" height="33.7" fill="#98b2e4" stroke="none" stroke-width="0.8" />
<rect x="282.7" y="159.5" width="17.5" height="33.7" fill="#dadde6" stroke="none" stroke-width="0.8" />
<rect x="300.2" y="159.5" width="18.7" height="33.7" fill="#f9aa8b" stroke="none" stroke-width="0.8" />
<rect x="318.9" y="159.5" width="19.1" height="33.7" fill="#c93b36" stroke="none" stroke-width="0.8" />
<line x1="266.8" y1="159.5" x2="266.8" y2="193.2" stroke="#333" stroke-width="0.6" stroke-opacity="0.8"/>
<line x1="282.7" y1="159.5" x2="282.7" y2="193.2" stroke="#333" stroke-width="0.6" stroke-opacity="0.8"/>
<line x1="300.2" y1="159.5" x2="300.2" y2="193.2" stroke="#333" stroke-width="0.6" stroke-opacity="0.8"/>
<line x1="318.9" y1="159.5" x2="318.9" y2="193.2" stroke="#333" stroke-width="0.6" stroke-opacity="0.8"/>
<rect x="252.3" y="159.5" width="85.7" height="33.7" fill="none" stroke="#8a8a8a" stroke-width="0.8" />
<line x1="252.3" y1="176.5" x2="338" y2="176.5" stroke="#111" stroke-width="1.3"/>
<text x="248.2" y="170.3" font-size="8.0" text-anchor="end" font-weight="normal" fill="#111" stroke="#111" stroke-width="0.16" >Non-scrambled</text>
<text x="248.2" y="187" font-size="8.0" text-anchor="end" font-weight="normal" fill="#111" stroke="#111" stroke-width="0.16" >Scrambled</text>
<text x="259.55" y="171.3" font-size="7.9" text-anchor="middle" font-weight="normal" fill="#111" stroke="#111" stroke-width="0.16" >42</text>
<text x="274.75" y="171.3" font-size="7.9" text-anchor="middle" font-weight="normal" fill="#111" stroke="#111" stroke-width="0.16" >62</text>
<text x="291.45" y="171.3" font-size="7.9" text-anchor="middle" font-weight="normal" fill="#111" stroke="#111" stroke-width="0.16" >95</text>
<text x="309.55" y="171.3" font-size="7.9" text-anchor="middle" font-weight="normal" fill="#111" stroke="#111" stroke-width="0.16" >117</text>
<text x="328.45" y="171.3" font-size="7.9" text-anchor="middle" font-weight="normal" fill="#111" stroke="#111" stroke-width="0.16" >118</text>
<text x="259.55" y="188" font-size="7.9" text-anchor="middle" font-weight="normal" fill="#111" stroke="#111" stroke-width="0.16" >44</text>
<text x="274.75" y="188" font-size="7.9" text-anchor="middle" font-weight="normal" fill="#111" stroke="#111" stroke-width="0.16" >61</text>
<text x="291.45" y="188" font-size="7.9" text-anchor="middle" font-weight="normal" fill="#111" stroke="#111" stroke-width="0.16" >39</text>
<text x="309.55" y="188" font-size="7.9" text-anchor="middle" font-weight="normal" fill="#111" stroke="#111" stroke-width="0.16" >38</text>
<text x="328.45" y="188" font-size="7.9" text-anchor="middle" font-weight="normal" fill="#111" stroke="#111" stroke-width="0.16" >44</text>
<rect x="414.1" y="159.5" width="15.7" height="33.7" fill="#3f51b0" stroke="none" stroke-width="0.8" />
<rect x="429.8" y="159.5" width="15.6" height="33.7" fill="#98b2e4" stroke="none" stroke-width="0.8" />
<rect x="445.4" y="159.5" width="15.4" height="33.7" fill="#dadde6" stroke="none" stroke-width="0.8" />
<rect x="460.8" y="159.5" width="15.7" height="33.7" fill="#f9aa8b" stroke="none" stroke-width="0.8" />
<rect x="476.5" y="159.5" width="23.4" height="33.7" fill="#c93b36" stroke="none" stroke-width="0.8" />
<line x1="429.8" y1="159.5" x2="429.8" y2="193.2" stroke="#333" stroke-width="0.6" stroke-opacity="0.8"/>
<line x1="445.4" y1="159.5" x2="445.4" y2="193.2" stroke="#333" stroke-width="0.6" stroke-opacity="0.8"/>
<line x1="460.8" y1="159.5" x2="460.8" y2="193.2" stroke="#333" stroke-width="0.6" stroke-opacity="0.8"/>
<line x1="476.5" y1="159.5" x2="476.5" y2="193.2" stroke="#333" stroke-width="0.6" stroke-opacity="0.8"/>
<rect x="414.1" y="159.5" width="85.8" height="33.7" fill="none" stroke="#8a8a8a" stroke-width="0.8" />
<line x1="414.1" y1="176.5" x2="499.9" y2="176.5" stroke="#111" stroke-width="1.3"/>
<text x="409.9" y="170.3" font-size="8.0" text-anchor="end" font-weight="normal" fill="#111" stroke="#111" stroke-width="0.16" >Body</text>
<text x="409.9" y="187" font-size="8.0" text-anchor="end" font-weight="normal" fill="#111" stroke="#111" stroke-width="0.16" >Face + Objects</text>
<text x="421.95" y="171.3" font-size="7.9" text-anchor="middle" font-weight="normal" fill="#111" stroke="#111" stroke-width="0.16" >40</text>
<text x="437.6" y="171.3" font-size="7.9" text-anchor="middle" font-weight="normal" fill="#111" stroke="#111" stroke-width="0.16" >40</text>
<text x="453.1" y="171.3" font-size="7.9" text-anchor="middle" font-weight="normal" fill="#111" stroke="#111" stroke-width="0.16" >40</text>
<text x="468.65" y="171.3" font-size="7.9" text-anchor="middle" font-weight="normal" fill="#111" stroke="#111" stroke-width="0.16" >40</text>
<text x="488.2" y="171.3" font-size="7.9" text-anchor="middle" font-weight="normal" fill="#111" stroke="#111" stroke-width="0.16" >60</text>
<text x="421.95" y="188" font-size="7.9" text-anchor="middle" font-weight="normal" fill="#111" stroke="#111" stroke-width="0.16" >80</text>
<text x="437.6" y="188" font-size="7.9" text-anchor="middle" font-weight="normal" fill="#111" stroke="#111" stroke-width="0.16" >82</text>
<text x="453.1" y="188" font-size="7.9" text-anchor="middle" font-weight="normal" fill="#111" stroke="#111" stroke-width="0.16" >80</text>
<text x="468.65" y="188" font-size="7.9" text-anchor="middle" font-weight="normal" fill="#111" stroke="#111" stroke-width="0.16" >82</text>
<text x="488.2" y="188" font-size="7.9" text-anchor="middle" font-weight="normal" fill="#111" stroke="#111" stroke-width="0.16" >120</text>
<rect x="585.3" y="159.5" width="26.8" height="33.7" fill="#3f51b0" stroke="none" stroke-width="0.8" />
<rect x="612.1" y="159.5" width="17.3" height="33.7" fill="#98b2e4" stroke="none" stroke-width="0.8" />
<rect x="629.4" y="159.5" width="14.1" height="33.7" fill="#dadde6" stroke="none" stroke-width="0.8" />
<rect x="643.5" y="159.5" width="8.8" height="33.7" fill="#f9aa8b" stroke="none" stroke-width="0.8" />
<rect x="652.3" y="159.5" width="18.7" height="33.7" fill="#c93b36" stroke="none" stroke-width="0.8" />
<line x1="612.1" y1="159.5" x2="612.1" y2="193.2" stroke="#333" stroke-width="0.6" stroke-opacity="0.8"/>
<line x1="629.4" y1="159.5" x2="629.4" y2="193.2" stroke="#333" stroke-width="0.6" stroke-opacity="0.8"/>
<line x1="643.5" y1="159.5" x2="643.5" y2="193.2" stroke="#333" stroke-width="0.6" stroke-opacity="0.8"/>
<line x1="652.3" y1="159.5" x2="652.3" y2="193.2" stroke="#333" stroke-width="0.6" stroke-opacity="0.8"/>
<rect x="585.3" y="159.5" width="85.7" height="33.7" fill="none" stroke="#8a8a8a" stroke-width="0.8" />
<line x1="585.3" y1="176.5" x2="671" y2="176.5" stroke="#111" stroke-width="1.3"/>
<text x="580.4" y="170.3" font-size="8.0" text-anchor="end" font-weight="normal" fill="#111" stroke="#111" stroke-width="0.16" >Objects</text>
<text x="580.4" y="187" font-size="8.0" text-anchor="end" font-weight="normal" fill="#111" stroke="#111" stroke-width="0.16" >Face + Body</text>
<text x="598.7" y="171.3" font-size="7.9" text-anchor="middle" font-weight="normal" fill="#111" stroke="#111" stroke-width="0.16" >62</text>
<text x="620.75" y="171.3" font-size="7.9" text-anchor="middle" font-weight="normal" fill="#111" stroke="#111" stroke-width="0.16" >39</text>
<text x="636.45" y="171.3" font-size="7.9" text-anchor="middle" font-weight="normal" fill="#111" stroke="#111" stroke-width="0.16" >32</text>
<text x="647.9" y="171.3" font-size="7.9" text-anchor="middle" font-weight="normal" fill="#111" stroke="#111" stroke-width="0.16" >21</text>
<text x="661.65" y="171.3" font-size="7.9" text-anchor="middle" font-weight="normal" fill="#111" stroke="#111" stroke-width="0.16" >49</text>
<text x="598.7" y="188" font-size="7.9" text-anchor="middle" font-weight="normal" fill="#111" stroke="#111" stroke-width="0.16" >104</text>
<text x="620.75" y="188" font-size="7.9" text-anchor="middle" font-weight="normal" fill="#111" stroke="#111" stroke-width="0.16" >77</text>
<text x="636.45" y="188" font-size="7.9" text-anchor="middle" font-weight="normal" fill="#111" stroke="#111" stroke-width="0.16" >64</text>
<text x="647.9" y="188" font-size="7.9" text-anchor="middle" font-weight="normal" fill="#111" stroke="#111" stroke-width="0.16" >40</text>
<text x="661.65" y="188" font-size="7.9" text-anchor="middle" font-weight="normal" fill="#111" stroke="#111" stroke-width="0.16" >104</text>
<rect x="91" y="198.1" width="103" height="9.2" fill="#7b7bd0" stroke="none" stroke-width="0.8" />
<rect x="95" y="199.6" width="97.4" height="6.2" fill="#e6e6f8" stroke="none" stroke-width="0.8" />
<text x="144.5" y="205.4" font-size="8.0" text-anchor="middle" font-weight="normal" fill="#111" stroke="#111" stroke-width="0.16" >16 - 32 ms</text>
<rect x="198.1" y="198.1" width="102.5" height="9.2" fill="#a9bbea" stroke="none" stroke-width="0.8" />
<rect x="202.1" y="199.6" width="96.9" height="6.2" fill="#eef2fc" stroke="none" stroke-width="0.8" />
<text x="251.35" y="205.4" font-size="8.0" text-anchor="middle" font-weight="normal" fill="#111" stroke="#111" stroke-width="0.16" >50 - 66 ms</text>
<rect x="304.2" y="198.1" width="103.1" height="9.2" fill="#dcdfe8" stroke="none" stroke-width="0.8" />
<rect x="308.2" y="199.6" width="97.5" height="6.2" fill="#f7f8fa" stroke="none" stroke-width="0.8" />
<text x="357.75" y="205.4" font-size="8.0" text-anchor="middle" font-weight="normal" fill="#111" stroke="#111" stroke-width="0.16" >83 - 100 ms</text>
<rect x="411" y="198.1" width="103.1" height="9.2" fill="#f8a584" stroke="none" stroke-width="0.8" />
<rect x="415" y="199.6" width="97.5" height="6.2" fill="#fdebe4" stroke="none" stroke-width="0.8" />
<text x="464.55" y="205.4" font-size="8.0" text-anchor="middle" font-weight="normal" fill="#111" stroke="#111" stroke-width="0.16" >116 - 132 ms</text>
<rect x="517.2" y="198.1" width="103.4" height="9.2" fill="#c8403a" stroke="none" stroke-width="0.8" />
<rect x="521.2" y="199.6" width="97.8" height="6.2" fill="#f8dcd8" stroke="none" stroke-width="0.8" />
<text x="570.9" y="205.4" font-size="8.0" text-anchor="middle" font-weight="normal" fill="#111" stroke="#111" stroke-width="0.16" >150 - 166 - 183 ms</text>
<text x="10.3" y="225" font-size="16" text-anchor="start" font-weight="normal" fill="#111" stroke="#111" stroke-width="0.16" >B</text>
<text x="35" y="230.7" font-size="8.0" text-anchor="start" font-weight="bold" fill="#111" stroke="#111" stroke-width="0.1" >Array 2: Non-scrambled</text>
<text x="200.2" y="230.8" font-size="8.0" text-anchor="start" font-weight="bold" fill="#111" stroke="#111" stroke-width="0.1" >Array 4: Body</text>
<text x="0" y="0" font-size="8.0" text-anchor="middle" fill="#111" stroke="#111" stroke-width="0.16" transform="translate(7.4 286.85) rotate(-90)">16 - 32 - 50 - 66 ms</text>
<text x="0" y="0" font-size="8.0" text-anchor="middle" fill="#111" stroke="#111" stroke-width="0.16" transform="translate(14.7 286.85) rotate(-90)">Z-normalized net spike rate</text>
<text x="0" y="0" font-size="8.0" text-anchor="middle" fill="#111" stroke="#111" stroke-width="0.16" transform="translate(7.4 415.65) rotate(-90)">83 - 100 -132 ms</text>
<text x="0" y="0" font-size="8.0" text-anchor="middle" fill="#111" stroke="#111" stroke-width="0.16" transform="translate(14.7 415.65) rotate(-90)">Z-normalized net spike rate</text>
<text x="0" y="0" font-size="8.0" text-anchor="middle" fill="#111" stroke="#111" stroke-width="0.16" transform="translate(7.4 545.05) rotate(-90)">150 - 166 - 183 ms</text>
<text x="0" y="0" font-size="8.0" text-anchor="middle" fill="#111" stroke="#111" stroke-width="0.16" transform="translate(14.7 545.05) rotate(-90)">Z-normalized net spike rate</text>
<g clip-path="url(#c34_235)">
<path d="M34.0 335.1L34.7 333.0L35.7 330.0L36.9 327.2L38.1 325.7L39.3 326.4L40.6 328.4L41.9 330.6L43.3 332.0L44.8 332.0L46.4 331.5L48.0 330.6L49.5 329.9L51.1 329.3L52.7 328.5L54.3 328.0L55.8 327.8L57.1 328.5L58.4 329.6L59.6 330.7L60.9 330.9L62.4 329.7L63.9 327.4L65.4 325.4L67.2 324.7L69.1 326.3L71.2 329.4L73.3 332.4L75.5 334.0L77.6 333.3L79.7 331.2L81.8 328.9L83.8 327.8L85.5 328.4L87.1 330.0L88.6 331.8L90.0 333.0L91.2 333.4L92.4 333.3L93.6 333.1L94.9 333.0L96.7 333.1L98.7 333.2L100.6 333.2L102.4 333.0L103.9 332.8L105.2 332.6L106.5 331.8L107.6 329.9L108.5 327.3L109.3 324.2L110.1 319.5L111.1 312.3L112.4 300.7L113.9 285.9L115.3 270.9L116.6 258.8L117.5 249.7L118.2 242.3L118.8 237.1L119.4 234.8L120.1 236.4L120.7 241.2L121.4 247.4L122.1 253.3L122.9 258.9L123.8 265.0L124.7 270.8L125.6 275.7L126.5 279.6L127.4 282.8L128.3 285.3L129.3 286.6L130.5 286.2L131.8 284.3L133.2 282.3L134.4 281.5L135.6 282.6L136.6 284.6L137.6 286.9L138.8 289.1L139.9 290.8L141.2 292.2L142.5 294.0L143.9 296.5L145.3 300.5L146.8 305.7L148.4 310.4L150.1 313.0L151.9 312.7L153.7 310.3L155.6 307.5L157.3 305.8L159.0 305.5L160.6 305.9L162.2 306.7L163.6 307.9L164.6 309.8L165.5 312.5L166.4 315.0L167.7 316.2L169.7 315.5L172.1 313.6L174.4 311.4L176.0 309.9L176.0 331.0L174.4 332.4L172.1 334.6L169.7 336.5L167.7 337.2L166.4 336.0L165.5 333.6L164.6 330.9L163.6 328.9L162.2 327.7L160.6 326.9L159.0 326.6L157.3 326.8L155.6 328.6L153.7 331.4L151.9 333.7L150.1 334.1L148.4 331.4L146.8 326.7L145.3 321.6L143.9 317.5L142.5 315.0L141.2 313.3L139.9 311.8L138.8 310.2L137.6 308.0L136.6 305.6L135.6 303.6L134.4 302.6L133.2 303.3L131.8 305.3L130.5 307.2L129.3 307.6L128.3 306.3L127.4 303.9L126.5 300.6L125.6 296.7L124.7 291.8L123.8 286.0L122.9 280.0L122.1 274.4L121.4 268.5L120.7 262.2L120.1 257.4L119.4 255.9L118.8 258.3L118.2 263.8L117.5 271.3L116.6 279.9L115.3 290.6L113.9 303.6L112.4 316.4L111.1 326.6L110.1 333.4L109.3 338.1L108.5 341.5L107.6 344.2L106.5 346.1L105.2 346.9L103.9 347.1L102.4 347.3L100.6 347.5L98.7 347.5L96.7 347.4L94.9 347.3L93.6 347.4L92.4 347.6L91.2 347.7L90.0 347.3L88.6 346.1L87.1 344.3L85.5 342.8L83.8 342.1L81.8 343.3L79.7 345.5L77.6 347.6L75.5 348.4L73.3 346.8L71.2 343.7L69.1 340.6L67.2 339.0L65.4 339.7L63.9 341.7L62.4 344.0L60.9 345.2L59.6 345.0L58.4 344.0L57.1 342.8L55.8 342.1L54.3 342.3L52.7 342.8L51.1 343.6L49.5 344.2L48.0 344.9L46.4 345.8L44.8 346.3L43.3 346.3L41.9 344.9L40.6 342.7L39.3 340.7L38.1 340.1L36.9 341.5L35.7 344.3L34.7 347.4L34.0 349.4Z" fill="#bfe9d9" fill-opacity="0.45" stroke="none"/>
<path d="M34.0 342.2L34.7 340.2L35.7 337.2L36.9 334.4L38.1 332.9L39.3 333.6L40.6 335.6L41.9 337.8L43.3 339.1L44.8 339.2L46.4 338.6L48.0 337.8L49.5 337.1L51.1 336.4L52.7 335.7L54.3 335.1L55.8 335.0L57.1 335.6L58.4 336.8L59.6 337.8L60.9 338.1L62.4 336.8L63.9 334.6L65.4 332.5L67.2 331.9L69.1 333.5L71.2 336.5L73.3 339.6L75.5 341.2L77.6 340.5L79.7 338.3L81.8 336.1L83.8 335.0L85.5 335.6L87.1 337.2L88.6 339.0L90.0 340.2L91.2 340.5L92.4 340.5L93.6 340.3L94.9 340.2L96.7 340.2L98.7 340.4L100.6 340.4L102.4 340.2L103.9 339.9L105.2 339.7L106.5 338.9L107.6 337.1L108.5 334.4L109.3 331.2L110.1 326.5L111.1 319.4L112.4 308.6L113.9 294.8L115.3 280.8L116.6 269.3L117.5 260.5L118.2 253.0L118.8 247.7L119.4 245.3L120.1 246.9L120.7 251.7L121.4 258.0L122.1 263.9L122.9 269.4L123.8 275.5L124.7 281.3L125.6 286.2L126.5 290.1L127.4 293.4L128.3 295.8L129.3 297.1L130.5 296.7L131.8 294.8L133.2 292.8L134.4 292.1L135.6 293.1L136.6 295.1L137.6 297.5L138.8 299.6L139.9 301.3L141.2 302.8L142.5 304.5L143.9 307.0L145.3 311.0L146.8 316.2L148.4 320.9L150.1 323.6L151.9 323.2L153.7 320.9L155.6 318.0L157.3 316.3L159.0 316.0L160.6 316.4L162.2 317.2L163.6 318.4L164.6 320.4L165.5 323.1L166.4 325.5L167.7 326.7L169.7 326.0L172.1 324.1L174.4 321.9L176.0 320.5" fill="none" stroke="#52bd98" stroke-width="1.15" stroke-opacity="1.0" stroke-linejoin="round" stroke-linecap="round"/>
<path d="M34.0 333.1L35.5 334.1L37.6 335.5L40.0 336.9L42.3 337.6L44.4 337.6L46.4 337.0L48.5 336.2L50.6 335.6L52.7 334.9L54.7 334.1L56.8 333.6L58.9 333.5L60.9 334.3L62.9 335.8L64.9 337.2L67.2 337.6L69.7 336.6L72.3 334.7L75.0 332.8L77.5 331.8L79.7 332.4L81.8 333.9L83.7 335.5L85.8 336.6L88.1 336.9L90.6 336.7L92.9 336.4L94.9 336.0L96.5 335.5L97.8 334.8L99.0 334.1L100.3 333.5L101.9 333.2L103.5 333.2L105.1 332.9L106.6 331.8L107.7 330.0L108.7 327.7L109.6 324.8L110.7 321.0L111.9 316.0L113.2 309.9L114.5 303.7L115.9 298.6L117.4 294.6L119.0 291.1L120.6 288.6L122.1 287.2L123.5 287.5L124.8 289.0L126.0 291.3L127.3 293.4L128.5 295.7L129.7 298.2L131.0 300.7L132.5 302.8L134.1 304.2L136.0 305.2L137.9 306.0L139.7 306.9L141.5 308.0L143.3 309.1L145.2 310.1L147.0 311.1L148.8 311.7L150.7 312.2L152.5 312.9L154.2 314.2L155.9 316.5L157.4 319.4L158.9 322.4L160.5 324.5L162.0 325.8L163.6 326.5L165.2 326.7L166.7 326.6L168.0 326.1L169.3 325.1L170.6 323.8L171.9 322.5L173.3 320.9L174.8 319.1L176.1 317.4L177.0 316.3L177.0 324.7L176.1 325.8L174.8 327.5L173.3 329.3L171.9 330.9L170.6 332.2L169.3 333.5L168.0 334.5L166.7 335.0L165.2 335.2L163.6 334.9L162.0 334.2L160.5 333.0L158.9 330.8L157.4 327.8L155.9 324.9L154.2 322.6L152.5 321.3L150.7 320.7L148.8 320.2L147.0 319.5L145.2 318.5L143.3 317.5L141.5 316.4L139.7 315.3L137.9 314.4L136.0 313.6L134.1 312.6L132.5 311.2L131.0 309.1L129.7 306.7L128.5 304.1L127.3 301.9L126.0 299.7L124.8 297.5L123.5 295.9L122.1 295.6L120.6 297.1L119.0 299.8L117.4 303.2L115.9 307.0L114.5 311.5L113.2 316.6L111.9 321.7L110.7 326.1L109.6 329.6L108.7 332.6L107.7 335.0L106.6 336.9L105.1 337.9L103.5 338.2L101.9 338.3L100.3 338.5L99.0 339.1L97.8 339.9L96.5 340.5L94.9 341.0L92.9 341.4L90.6 341.8L88.1 341.9L85.8 341.7L83.7 340.6L81.8 338.9L79.7 337.5L77.5 336.9L75.0 337.8L72.3 339.7L69.7 341.7L67.2 342.7L64.9 342.2L62.9 340.8L60.9 339.4L58.9 338.5L56.8 338.6L54.7 339.2L52.7 340.0L50.6 340.6L48.5 341.3L46.4 342.1L44.4 342.6L42.3 342.7L40.0 341.9L37.6 340.5L35.5 339.1L34.0 338.1Z" fill="#f9c0b4" fill-opacity="0.5" stroke="none"/>
<path d="M34.0 335.6L35.5 336.6L37.6 338.0L40.0 339.4L42.3 340.2L44.4 340.1L46.4 339.5L48.5 338.8L50.6 338.1L52.7 337.4L54.7 336.7L56.8 336.1L58.9 336.0L60.9 336.8L62.9 338.3L64.9 339.7L67.2 340.2L69.7 339.2L72.3 337.2L75.0 335.3L77.5 334.4L79.7 334.9L81.8 336.4L83.7 338.1L85.8 339.1L88.1 339.4L90.6 339.3L92.9 338.9L94.9 338.5L96.5 338.0L97.8 337.3L99.0 336.6L100.3 336.0L101.9 335.8L103.5 335.7L105.1 335.4L106.6 334.4L107.7 332.5L108.7 330.2L109.6 327.2L110.7 323.6L111.9 318.9L113.2 313.2L114.5 307.6L115.9 302.8L117.4 298.9L119.0 295.4L120.6 292.8L122.1 291.4L123.5 291.7L124.8 293.2L126.0 295.5L127.3 297.6L128.5 299.9L129.7 302.4L131.0 304.9L132.5 307.0L134.1 308.4L136.0 309.4L137.9 310.2L139.7 311.1L141.5 312.2L143.3 313.3L145.2 314.3L147.0 315.3L148.8 316.0L150.7 316.4L152.5 317.1L154.2 318.4L155.9 320.7L157.4 323.6L158.9 326.6L160.5 328.8L162.0 330.0L163.6 330.7L165.2 330.9L166.7 330.8L168.0 330.3L169.3 329.3L170.6 328.0L171.9 326.7L173.3 325.1L174.8 323.3L176.1 321.6L177.0 320.5" fill="none" stroke="#ef5a4a" stroke-width="1.15" stroke-opacity="1.0" stroke-linejoin="round" stroke-linecap="round"/>
<path d="M34.0 334.9L35.4 335.4L37.4 336.1L39.7 336.7L42.3 337.0L45.2 336.7L48.4 336.0L51.7 335.3L54.7 334.9L57.5 335.0L60.0 335.3L62.6 335.7L65.1 336.0L67.7 336.1L70.3 336.1L72.9 336.1L75.5 336.0L78.1 335.7L80.7 335.4L83.3 335.1L85.8 334.9L88.2 335.2L90.6 335.6L92.8 336.0L94.9 336.0L97.0 335.5L98.9 334.6L100.7 333.7L102.4 332.9L103.9 332.6L105.1 332.7L106.3 332.3L107.6 330.8L108.9 327.6L110.2 323.3L111.6 318.5L112.8 314.0L113.9 309.6L114.9 305.1L115.9 300.9L116.9 297.4L117.9 294.5L118.8 292.1L119.7 290.6L120.7 290.1L121.7 291.4L122.8 294.0L124.0 297.0L125.2 299.5L126.4 301.4L127.6 303.2L128.9 304.7L130.4 305.7L132.1 306.0L134.0 305.7L135.9 305.2L137.6 304.7L139.0 304.0L140.2 303.1L141.4 302.5L142.8 302.6L144.5 303.7L146.3 305.5L148.2 307.7L150.1 309.8L152.1 312.1L154.2 314.7L156.3 317.2L158.4 319.2L160.5 320.7L162.7 322.0L164.8 322.9L166.7 323.3L168.2 323.1L169.5 322.4L170.6 321.4L171.9 320.2L173.3 318.7L174.8 316.9L176.1 315.2L177.0 314.0L177.0 320.7L176.1 321.9L174.8 323.6L173.3 325.5L171.9 326.9L170.6 328.1L169.5 329.1L168.2 329.9L166.7 330.1L164.8 329.6L162.7 328.8L160.5 327.5L158.4 325.9L156.3 323.9L154.2 321.4L152.1 318.9L150.1 316.6L148.2 314.4L146.3 312.2L144.5 310.4L142.8 309.3L141.4 309.2L140.2 309.8L139.0 310.7L137.6 311.4L135.9 311.9L134.0 312.4L132.1 312.7L130.4 312.4L128.9 311.5L127.6 310.0L126.4 308.1L125.2 306.2L124.0 303.7L122.8 300.7L121.7 298.1L120.7 296.9L119.7 297.3L118.8 298.9L117.9 301.3L116.9 304.1L115.9 307.7L114.9 312.0L113.9 316.5L112.8 320.7L111.6 324.7L110.2 328.8L108.9 332.4L107.6 335.0L106.3 336.4L105.1 336.7L103.9 336.8L102.4 337.1L100.7 337.9L98.9 338.8L97.0 339.7L94.9 340.2L92.8 340.2L90.6 339.8L88.2 339.4L85.8 339.2L83.3 339.3L80.7 339.6L78.1 340.0L75.5 340.2L72.9 340.3L70.3 340.3L67.7 340.3L65.1 340.2L62.6 339.9L60.0 339.5L57.5 339.2L54.7 339.2L51.7 339.6L48.4 340.3L45.2 340.9L42.3 341.2L39.7 341.0L37.4 340.3L35.4 339.6L34.0 339.2Z" fill="#c5c8ee" fill-opacity="0.5" stroke="none"/>
<path d="M34.0 337.1L35.4 337.5L37.4 338.2L39.7 338.9L42.3 339.1L45.2 338.8L48.4 338.2L51.7 337.4L54.7 337.1L57.5 337.1L60.0 337.4L62.6 337.8L65.1 338.1L67.7 338.2L70.3 338.2L72.9 338.2L75.5 338.1L78.1 337.9L80.7 337.5L83.3 337.2L85.8 337.1L88.2 337.3L90.6 337.7L92.8 338.1L94.9 338.1L97.0 337.6L98.9 336.7L100.7 335.8L102.4 335.0L103.9 334.7L105.1 334.7L106.3 334.3L107.6 332.9L108.9 330.0L110.2 326.0L111.6 321.6L112.8 317.4L113.9 313.1L114.9 308.5L115.9 304.3L116.9 300.8L117.9 297.9L118.8 295.5L119.7 293.9L120.7 293.5L121.7 294.7L122.8 297.3L124.0 300.3L125.2 302.8L126.4 304.8L127.6 306.6L128.9 308.1L130.4 309.1L132.1 309.3L134.0 309.1L135.9 308.5L137.6 308.0L139.0 307.4L140.2 306.5L141.4 305.8L142.8 305.9L144.5 307.1L146.3 308.9L148.2 311.0L150.1 313.2L152.1 315.5L154.2 318.1L156.3 320.5L158.4 322.5L160.5 324.1L162.7 325.4L164.8 326.3L166.7 326.7L168.2 326.5L169.5 325.8L170.6 324.7L171.9 323.6L173.3 322.1L174.8 320.3L176.1 318.5L177.0 317.4" fill="none" stroke="#7180d2" stroke-width="1.15" stroke-opacity="1.0" stroke-linejoin="round" stroke-linecap="round"/>
</g>
<line x1="95" y1="235.5" x2="95" y2="346.2" stroke="#7c7c7c" stroke-width="1.0" stroke-dasharray="2.7,2.6"/>
<rect x="34.2" y="235.5" width="141.3" height="110.7" fill="none" stroke="#7a7a7a" stroke-width="0.9"/>
<path d="M53.92 346.2v-2.0M53.92 235.5v2.0M74.46 346.2v-2.0M74.46 235.5v2.0M95 346.2v-2.0M95 235.5v2.0M115.54 346.2v-2.0M115.54 235.5v2.0M136.08 346.2v-2.0M136.08 235.5v2.0M156.62 346.2v-2.0M156.62 235.5v2.0" stroke="#7a7a7a" stroke-width="0.8" fill="none"/>
<text x="53.92" y="354.8" font-size="8.2" text-anchor="middle" font-weight="normal" fill="#111" stroke="#111" stroke-width="0.16" >-200</text>
<text x="74.46" y="354.8" font-size="8.2" text-anchor="middle" font-weight="normal" fill="#111" stroke="#111" stroke-width="0.16" >-100</text>
<text x="95" y="354.8" font-size="8.2" text-anchor="middle" font-weight="normal" fill="#111" stroke="#111" stroke-width="0.16" >0</text>
<text x="115.54" y="354.8" font-size="8.2" text-anchor="middle" font-weight="normal" fill="#111" stroke="#111" stroke-width="0.16" >100</text>
<text x="136.08" y="354.8" font-size="8.2" text-anchor="middle" font-weight="normal" fill="#111" stroke="#111" stroke-width="0.16" >200</text>
<text x="156.62" y="354.8" font-size="8.2" text-anchor="middle" font-weight="normal" fill="#111" stroke="#111" stroke-width="0.16" >300</text>
<path d="M34.2 346.8h2.0M175.5 346.8h-2.0M34.2 325.75h2.0M175.5 325.75h-2.0M34.2 304.7h2.0M175.5 304.7h-2.0M34.2 283.65h2.0M175.5 283.65h-2.0M34.2 262.6h2.0M175.5 262.6h-2.0M34.2 241.55h2.0M175.5 241.55h-2.0" stroke="#7a7a7a" stroke-width="0.8" fill="none"/>
<text x="33.2" y="346" font-size="8.2" text-anchor="end" font-weight="normal" fill="#111" stroke="#111" stroke-width="0.16" >-1</text>
<text x="33.2" y="328.55" font-size="8.2" text-anchor="end" font-weight="normal" fill="#111" stroke="#111" stroke-width="0.16" >-0.5</text>
<text x="33.2" y="307.5" font-size="8.2" text-anchor="end" font-weight="normal" fill="#111" stroke="#111" stroke-width="0.16" >0</text>
<text x="33.2" y="286.45" font-size="8.2" text-anchor="end" font-weight="normal" fill="#111" stroke="#111" stroke-width="0.16" >0.5</text>
<text x="33.2" y="265.4" font-size="8.2" text-anchor="end" font-weight="normal" fill="#111" stroke="#111" stroke-width="0.16" >1.0</text>
<text x="33.2" y="244.35" font-size="8.2" text-anchor="end" font-weight="normal" fill="#111" stroke="#111" stroke-width="0.16" >1.5</text>
<text x="108.9" y="361.9" font-size="8.0" text-anchor="middle" font-weight="normal" fill="#111" stroke="#111" stroke-width="0.16" >Time (ms)</text>
<g clip-path="url(#c32_364)">
<path d="M32.0 464.5L33.5 464.1L35.6 463.4L38.0 462.8L40.3 462.4L42.4 462.5L44.4 462.8L46.5 463.1L48.6 463.5L50.6 463.8L52.6 464.2L54.7 464.5L56.9 464.5L59.4 464.2L62.1 463.7L64.7 463.0L67.2 462.4L69.5 461.8L71.5 461.1L73.5 460.5L75.5 460.4L77.6 460.8L79.6 461.6L81.7 462.6L83.8 463.5L86.0 464.2L88.3 464.8L90.6 465.3L92.7 465.5L94.8 465.4L96.7 465.0L98.6 464.3L100.4 463.5L102.1 462.7L103.7 461.8L105.3 460.5L106.6 458.3L107.8 455.4L108.8 451.9L109.8 447.4L110.8 441.7L111.8 433.9L112.8 424.4L113.8 414.8L114.9 406.5L116.1 399.4L117.4 392.9L118.8 387.8L120.1 384.7L121.4 384.1L122.7 385.7L124.0 388.5L125.3 391.9L126.6 396.2L127.9 401.6L129.2 407.3L130.5 412.7L131.8 418.0L133.1 423.4L134.4 428.2L135.6 431.3L136.9 432.1L138.2 431.1L139.5 429.8L140.8 429.3L142.3 429.9L143.9 431.1L145.5 432.7L147.0 434.4L148.4 436.5L149.7 439.0L151.0 441.5L152.2 443.8L153.5 445.9L154.7 448.0L156.0 449.8L157.4 451.0L159.0 451.5L160.7 451.4L162.6 451.1L164.7 451.0L167.3 451.2L170.3 451.5L173.1 451.9L175.0 452.1L175.0 460.3L173.1 460.1L170.3 459.8L167.3 459.5L164.7 459.3L162.6 459.4L160.7 459.7L159.0 459.8L157.4 459.3L156.0 458.1L154.7 456.3L153.5 454.2L152.2 452.1L151.0 449.8L149.7 447.3L148.4 444.8L147.0 442.7L145.5 441.0L143.9 439.4L142.3 438.2L140.8 437.5L139.5 438.0L138.2 439.4L136.9 440.4L135.6 439.6L134.4 436.5L133.1 431.7L131.8 426.3L130.5 421.0L129.2 415.6L127.9 409.9L126.6 404.5L125.3 400.2L124.0 396.8L122.7 393.9L121.4 392.4L120.1 393.0L118.8 396.1L117.4 401.2L116.1 407.7L114.9 414.7L113.8 423.1L112.8 432.9L111.8 442.5L110.8 450.0L109.8 454.9L108.8 458.1L107.8 460.4L106.6 462.4L105.3 464.3L103.7 465.7L102.1 466.7L100.4 467.6L98.6 468.4L96.7 469.1L94.8 469.5L92.7 469.7L90.6 469.5L88.3 469.0L86.0 468.3L83.8 467.6L81.7 466.8L79.6 465.8L77.6 464.9L75.5 464.5L73.5 464.6L71.5 465.2L69.5 465.9L67.2 466.6L64.7 467.2L62.1 467.8L59.4 468.3L56.9 468.6L54.7 468.6L52.6 468.3L50.6 467.9L48.6 467.6L46.5 467.3L44.4 466.9L42.4 466.6L40.3 466.6L38.0 466.9L35.6 467.5L33.5 468.2L32.0 468.6Z" fill="#bfe9d9" fill-opacity="0.5" stroke="none"/>
<path d="M32.0 466.6L33.5 466.1L35.6 465.5L38.0 464.8L40.3 464.5L42.4 464.5L44.4 464.8L46.5 465.2L48.6 465.5L50.6 465.9L52.6 466.2L54.7 466.5L56.9 466.6L59.4 466.3L62.1 465.7L64.7 465.1L67.2 464.5L69.5 463.9L71.5 463.1L73.5 462.6L75.5 462.4L77.6 462.9L79.6 463.7L81.7 464.7L83.8 465.5L86.0 466.2L88.3 466.9L90.6 467.4L92.7 467.6L94.8 467.5L96.7 467.0L98.6 466.4L100.4 465.5L102.1 464.7L103.7 463.7L105.3 462.4L106.6 460.4L107.8 457.9L108.8 455.0L109.8 451.1L110.8 445.8L111.8 438.2L112.8 428.7L113.8 418.9L114.9 410.6L116.1 403.5L117.4 397.1L118.8 391.9L120.1 388.8L121.4 388.3L122.7 389.8L124.0 392.6L125.3 396.1L126.6 400.4L127.9 405.7L129.2 411.5L130.5 416.8L131.8 422.1L133.1 427.6L134.4 432.3L135.6 435.5L136.9 436.2L138.2 435.3L139.5 433.9L140.8 433.4L142.3 434.1L143.9 435.3L145.5 436.8L147.0 438.6L148.4 440.7L149.7 443.1L151.0 445.6L152.2 447.9L153.5 450.0L154.7 452.1L156.0 453.9L157.4 455.2L159.0 455.7L160.7 455.6L162.6 455.3L164.7 455.2L167.3 455.4L170.3 455.7L173.1 456.0L175.0 456.2" fill="none" stroke="#52bd98" stroke-width="1.15" stroke-opacity="1.0" stroke-linejoin="round" stroke-linecap="round"/>
<path d="M32.0 463.5L33.5 463.7L35.6 464.0L38.0 464.4L40.3 464.5L42.3 464.3L44.3 464.0L46.4 463.6L48.6 463.5L51.0 463.6L53.6 463.9L56.3 464.2L58.9 464.5L61.5 464.9L64.1 465.3L66.7 465.6L69.3 465.5L72.0 464.9L74.6 463.9L77.2 462.9L79.7 462.4L82.0 462.9L84.2 464.0L86.2 465.1L88.0 465.5L89.4 465.0L90.5 463.8L91.6 462.5L92.7 461.4L94.1 460.7L95.4 460.2L96.9 459.7L98.3 459.3L99.8 459.3L101.4 459.5L103.0 459.4L104.6 458.3L106.2 455.9L107.8 452.6L109.4 448.8L110.8 444.8L112.0 440.5L113.0 435.8L114.0 431.2L114.9 427.2L115.7 423.6L116.4 420.3L117.1 417.7L118.0 416.4L119.2 416.8L120.5 418.5L121.9 420.9L123.2 423.0L124.5 425.0L125.8 427.1L127.1 429.2L128.4 431.3L129.7 433.7L131.0 436.3L132.4 438.4L133.6 439.6L134.7 439.5L135.7 438.5L136.7 437.0L137.7 435.5L138.7 433.6L139.7 431.2L140.7 429.2L141.9 428.2L143.3 428.8L144.8 430.4L146.5 432.5L148.1 434.4L149.6 436.3L151.2 438.3L152.8 440.2L154.3 441.7L155.9 442.4L157.4 442.7L159.0 442.9L160.5 443.8L162.0 445.7L163.5 448.4L165.0 450.8L166.7 452.1L168.9 451.6L171.3 450.0L173.5 448.1L175.0 446.9L175.0 455.2L173.5 456.4L171.3 458.3L168.9 459.9L166.7 460.3L165.0 459.1L163.5 456.7L162.0 454.0L160.5 452.1L159.0 451.2L157.4 451.0L155.9 450.7L154.3 450.0L152.8 448.5L151.2 446.6L149.6 444.6L148.1 442.7L146.5 440.8L144.8 438.7L143.3 437.1L141.9 436.5L140.7 437.4L139.7 439.5L138.7 441.8L137.7 443.8L136.7 445.3L135.7 446.8L134.7 447.8L133.6 447.9L132.4 446.7L131.0 444.5L129.7 442.0L128.4 439.6L127.1 437.5L125.8 435.4L124.5 433.3L123.2 431.3L121.9 429.1L120.5 426.8L119.2 425.1L118.0 424.7L117.1 426.0L116.4 428.6L115.7 431.9L114.9 435.5L114.0 439.6L113.0 444.4L112.0 449.1L110.8 453.1L109.4 456.2L107.8 458.8L106.2 460.9L104.6 462.4L103.0 463.2L101.4 463.4L99.8 463.3L98.3 463.5L96.9 463.9L95.4 464.3L94.1 464.8L92.7 465.5L91.6 466.6L90.5 467.9L89.4 469.1L88.0 469.7L86.2 469.3L84.2 468.2L82.0 467.1L79.7 466.6L77.2 467.0L74.6 468.0L72.0 469.0L69.3 469.7L66.7 469.7L64.1 469.4L61.5 469.0L58.9 468.6L56.3 468.3L53.6 468.0L51.0 467.7L48.6 467.6L46.4 467.8L44.3 468.1L42.3 468.5L40.3 468.6L38.0 468.5L35.6 468.2L33.5 467.8L32.0 467.6Z" fill="#f9c0b4" fill-opacity="0.5" stroke="none"/>
<path d="M32.0 465.5L33.5 465.8L35.6 466.1L38.0 466.4L40.3 466.6L42.3 466.4L44.3 466.1L46.4 465.7L48.6 465.5L51.0 465.6L53.6 465.9L56.3 466.3L58.9 466.6L61.5 466.9L64.1 467.3L66.7 467.6L69.3 467.6L72.0 467.0L74.6 465.9L77.2 464.9L79.7 464.5L82.0 465.0L84.2 466.1L86.2 467.2L88.0 467.6L89.4 467.0L90.5 465.9L91.6 464.5L92.7 463.5L94.1 462.8L95.4 462.2L96.9 461.8L98.3 461.4L99.8 461.3L101.4 461.5L103.0 461.3L104.6 460.4L106.2 458.4L107.8 455.7L109.4 452.5L110.8 448.9L112.0 444.8L113.0 440.1L114.0 435.4L114.9 431.3L115.7 427.7L116.4 424.4L117.1 421.9L118.0 420.5L119.2 420.9L120.5 422.7L121.9 425.0L123.2 427.2L124.5 429.1L125.8 431.2L127.1 433.4L128.4 435.5L129.7 437.8L131.0 440.4L132.4 442.6L133.6 443.8L134.7 443.7L135.7 442.7L136.7 441.2L137.7 439.6L138.7 437.7L139.7 435.3L140.7 433.3L141.9 432.4L143.3 432.9L144.8 434.6L146.5 436.6L148.1 438.6L149.6 440.4L151.2 442.5L152.8 444.4L154.3 445.8L155.9 446.6L157.4 446.8L159.0 447.1L160.5 447.9L162.0 449.9L163.5 452.5L165.0 454.9L166.7 456.2L168.9 455.7L171.3 454.1L173.5 452.3L175.0 451.0" fill="none" stroke="#ef5a4a" stroke-width="1.15" stroke-opacity="1.0" stroke-linejoin="round" stroke-linecap="round"/>
<path d="M32.0 460.4L33.4 460.4L35.5 460.5L37.9 460.8L40.3 461.4L42.7 462.7L45.3 464.4L47.9 466.0L50.7 466.6L53.5 465.6L56.4 463.5L59.3 461.4L62.1 460.4L64.5 460.8L66.8 462.2L69.0 463.7L71.4 464.5L73.9 464.0L76.5 462.9L79.1 461.8L81.8 461.4L84.5 462.2L87.4 463.9L90.2 465.5L92.7 466.6L94.9 466.8L96.9 466.7L98.7 466.2L100.4 465.5L102.1 464.7L103.7 463.6L105.3 462.2L106.6 460.4L107.8 457.9L108.9 455.1L109.8 451.8L110.8 448.3L111.7 444.3L112.6 439.9L113.6 435.5L114.5 431.7L115.5 428.2L116.5 424.7L117.6 422.3L118.7 422.0L119.7 424.8L120.9 429.9L122.0 435.6L123.2 440.0L124.4 442.9L125.7 445.1L127.0 446.9L128.4 448.3L129.9 449.8L131.5 451.1L133.1 451.8L134.6 451.4L136.0 449.5L137.3 446.3L138.6 442.9L139.8 440.0L140.9 437.9L141.8 436.0L142.8 434.5L143.9 433.8L145.3 434.2L146.9 435.4L148.6 436.9L150.2 438.0L151.7 438.4L153.3 438.6L154.8 438.7L156.4 439.0L157.9 439.4L159.5 439.8L161.0 440.3L162.6 441.1L164.2 442.4L165.7 444.1L167.3 445.6L168.8 446.3L170.5 445.6L172.3 444.0L173.9 442.3L175.0 441.1L175.0 448.5L173.9 449.7L172.3 451.4L170.5 453.0L168.8 453.7L167.3 453.1L165.7 451.6L164.2 449.8L162.6 448.5L161.0 447.8L159.5 447.2L157.9 446.8L156.4 446.5L154.8 446.2L153.3 446.1L151.7 445.9L150.2 445.4L148.6 444.4L146.9 442.9L145.3 441.7L143.9 441.3L142.8 442.0L141.8 443.4L140.9 445.3L139.8 447.5L138.6 450.3L137.3 453.8L136.0 456.9L134.6 458.9L133.1 459.3L131.5 458.6L129.9 457.3L128.4 455.8L127.0 454.3L125.7 452.6L124.4 450.4L123.2 447.5L122.0 443.0L120.9 437.3L119.7 432.2L118.7 429.5L117.6 429.8L116.5 432.2L115.5 435.6L114.5 439.2L113.6 443.0L112.6 447.6L111.7 452.0L110.8 455.8L109.8 458.6L108.9 460.9L107.8 462.7L106.6 464.5L105.3 466.1L103.7 467.6L102.1 468.8L100.4 469.7L98.7 470.4L96.9 470.8L94.9 471.0L92.7 470.7L90.2 469.7L87.4 468.0L84.5 466.4L81.8 465.5L79.1 465.9L76.5 467.0L73.9 468.2L71.4 468.6L69.0 467.9L66.8 466.4L64.5 465.0L62.1 464.5L59.3 465.6L56.4 467.7L53.5 469.7L50.7 470.7L47.9 470.1L45.3 468.6L42.7 466.8L40.3 465.5L37.9 465.0L35.5 464.7L33.4 464.6L32.0 464.5Z" fill="#c5c8ee" fill-opacity="0.5" stroke="none"/>
<path d="M32.0 462.4L33.4 462.5L35.5 462.6L37.9 462.9L40.3 463.5L42.7 464.7L45.3 466.5L47.9 468.1L50.7 468.6L53.5 467.6L56.4 465.6L59.3 463.5L62.1 462.4L64.5 462.9L66.8 464.3L69.0 465.8L71.4 466.6L73.9 466.1L76.5 465.0L79.1 463.8L81.8 463.5L84.5 464.3L87.4 465.9L90.2 467.6L92.7 468.6L94.9 468.9L96.9 468.8L98.7 468.3L100.4 467.6L102.1 466.7L103.7 465.6L105.3 464.2L106.6 462.4L107.8 460.3L108.9 458.0L109.8 455.2L110.8 452.1L111.7 448.2L112.6 443.7L113.6 439.3L114.5 435.5L115.5 431.9L116.5 428.4L117.6 426.1L118.7 425.7L119.7 428.5L120.9 433.6L122.0 439.3L123.2 443.8L124.4 446.6L125.7 448.8L127.0 450.6L128.4 452.1L129.9 453.5L131.5 454.8L133.1 455.5L134.6 455.2L136.0 453.2L137.3 450.0L138.6 446.6L139.8 443.8L140.9 441.6L141.8 439.7L142.8 438.3L143.9 437.5L145.3 437.9L146.9 439.2L148.6 440.6L150.2 441.7L151.7 442.1L153.3 442.3L154.8 442.5L156.4 442.7L157.9 443.1L159.5 443.5L161.0 444.0L162.6 444.8L164.2 446.1L165.7 447.8L167.3 449.3L168.8 450.0L170.5 449.3L172.3 447.7L173.9 446.0L175.0 444.8" fill="none" stroke="#7180d2" stroke-width="1.15" stroke-opacity="1.0" stroke-linejoin="round" stroke-linecap="round"/>
</g>
<line x1="92.7" y1="364.4" x2="92.7" y2="474.9" stroke="#7c7c7c" stroke-width="1.0" stroke-dasharray="2.7,2.6"/>
<rect x="32.4" y="364.4" width="141" height="110.5" fill="none" stroke="#7a7a7a" stroke-width="0.9"/>
<path d="M52.7 474.9v-2.0M52.7 364.4v2.0M72.7 474.9v-2.0M72.7 364.4v2.0M92.7 474.9v-2.0M92.7 364.4v2.0M112.7 474.9v-2.0M112.7 364.4v2.0M132.7 474.9v-2.0M132.7 364.4v2.0M152.7 474.9v-2.0M152.7 364.4v2.0" stroke="#7a7a7a" stroke-width="0.8" fill="none"/>
<text x="52.7" y="484" font-size="8.2" text-anchor="middle" font-weight="normal" fill="#111" stroke="#111" stroke-width="0.16" >-200</text>
<text x="72.7" y="484" font-size="8.2" text-anchor="middle" font-weight="normal" fill="#111" stroke="#111" stroke-width="0.16" >-100</text>
<text x="92.7" y="484" font-size="8.2" text-anchor="middle" font-weight="normal" fill="#111" stroke="#111" stroke-width="0.16" >0</text>
<text x="112.7" y="484" font-size="8.2" text-anchor="middle" font-weight="normal" fill="#111" stroke="#111" stroke-width="0.16" >100</text>
<text x="132.7" y="484" font-size="8.2" text-anchor="middle" font-weight="normal" fill="#111" stroke="#111" stroke-width="0.16" >200</text>
<text x="152.7" y="484" font-size="8.2" text-anchor="middle" font-weight="normal" fill="#111" stroke="#111" stroke-width="0.16" >300</text>
<path d="M32.4 474.8h2.0M173.4 474.8h-2.0M32.4 454.1h2.0M173.4 454.1h-2.0M32.4 433.4h2.0M173.4 433.4h-2.0M32.4 412.7h2.0M173.4 412.7h-2.0M32.4 392h2.0M173.4 392h-2.0M32.4 371.3h2.0M173.4 371.3h-2.0" stroke="#7a7a7a" stroke-width="0.8" fill="none"/>
<text x="31.4" y="474.7" font-size="8.2" text-anchor="end" font-weight="normal" fill="#111" stroke="#111" stroke-width="0.16" >-1</text>
<text x="31.4" y="456.9" font-size="8.2" text-anchor="end" font-weight="normal" fill="#111" stroke="#111" stroke-width="0.16" >-0.5</text>
<text x="31.4" y="436.2" font-size="8.2" text-anchor="end" font-weight="normal" fill="#111" stroke="#111" stroke-width="0.16" >0</text>
<text x="31.4" y="415.5" font-size="8.2" text-anchor="end" font-weight="normal" fill="#111" stroke="#111" stroke-width="0.16" >0.5</text>
<text x="31.4" y="394.8" font-size="8.2" text-anchor="end" font-weight="normal" fill="#111" stroke="#111" stroke-width="0.16" >1.0</text>
<text x="31.4" y="374.1" font-size="8.2" text-anchor="end" font-weight="normal" fill="#111" stroke="#111" stroke-width="0.16" >1.5</text>
<text x="106.6" y="491.5" font-size="8.0" text-anchor="middle" font-weight="normal" fill="#111" stroke="#111" stroke-width="0.16" >Time (ms)</text>
<g clip-path="url(#c32_493)">
<path d="M32.0 593.5L33.4 593.2L35.4 592.9L37.7 592.6L40.3 592.4L43.2 592.6L46.4 592.8L49.7 593.2L52.7 593.5L55.5 593.8L58.0 594.2L60.6 594.5L63.1 594.5L65.7 594.2L68.3 593.5L70.9 592.9L73.5 592.4L76.1 592.4L78.7 592.5L81.3 592.6L83.8 592.4L86.2 591.7L88.5 590.6L90.6 589.7L92.5 589.3L94.2 590.0L95.7 591.2L97.0 592.6L98.3 593.5L99.7 594.1L101.0 594.6L102.2 594.6L103.5 593.5L104.8 591.6L106.1 588.9L107.4 585.0L108.7 579.0L110.0 569.6L111.3 557.6L112.6 545.4L113.9 535.4L115.2 528.0L116.5 521.9L117.8 517.3L119.1 514.3L120.4 513.3L121.7 514.2L123.0 516.3L124.2 518.9L125.5 522.1L126.8 526.1L128.1 530.7L129.4 535.4L130.7 540.7L132.1 546.5L133.4 552.0L134.6 556.2L135.7 558.6L136.6 560.0L137.6 560.7L138.8 561.3L140.1 562.0L141.7 562.5L143.3 562.7L145.0 562.4L146.7 561.1L148.6 559.1L150.5 557.5L152.2 557.2L153.9 558.9L155.4 561.9L156.9 565.4L158.5 568.6L159.9 571.5L161.3 574.4L162.8 577.1L164.7 579.0L167.2 579.9L170.2 580.1L173.1 580.0L175.0 580.0L175.0 588.3L173.1 588.4L170.2 588.5L167.2 588.2L164.7 587.3L162.8 585.4L161.3 582.8L159.9 579.8L158.5 576.9L156.9 573.8L155.4 570.3L153.9 567.2L152.2 565.5L150.5 565.8L148.6 567.5L146.7 569.5L145.0 570.7L143.3 571.0L141.7 570.9L140.1 570.4L138.8 569.7L137.6 569.0L136.6 568.3L135.7 567.0L134.6 564.5L133.4 560.3L132.1 554.9L130.7 549.0L129.4 543.8L128.1 539.1L126.8 534.5L125.5 530.4L124.2 527.2L123.0 524.6L121.7 522.6L120.4 521.7L119.1 522.6L117.8 525.6L116.5 530.2L115.2 536.3L113.9 543.8L112.6 553.9L111.3 566.2L110.0 578.2L108.7 587.3L107.4 592.5L106.1 595.2L104.8 596.6L103.5 597.7L102.2 598.5L101.0 598.6L99.7 598.2L98.3 597.7L97.0 596.7L95.7 595.4L94.2 594.1L92.5 593.5L90.6 593.8L88.5 594.8L86.2 595.9L83.8 596.6L81.3 596.8L78.7 596.7L76.1 596.5L73.5 596.6L70.9 597.1L68.3 597.7L65.7 598.3L63.1 598.7L60.6 598.6L58.0 598.4L55.5 598.0L52.7 597.7L49.7 597.3L46.4 597.0L43.2 596.7L40.3 596.6L37.7 596.8L35.4 597.1L33.4 597.4L32.0 597.7Z" fill="#bfe9d9" fill-opacity="0.5" stroke="none"/>
<path d="M32.0 595.6L33.4 595.3L35.4 595.0L37.7 594.7L40.3 594.5L43.2 594.6L46.4 594.9L49.7 595.3L52.7 595.6L55.5 595.9L58.0 596.3L60.6 596.6L63.1 596.6L65.7 596.3L68.3 595.6L70.9 595.0L73.5 594.5L76.1 594.5L78.7 594.6L81.3 594.7L83.8 594.5L86.2 593.8L88.5 592.7L90.6 591.8L92.5 591.4L94.2 592.0L95.7 593.3L97.0 594.7L98.3 595.6L99.7 596.2L101.0 596.6L102.2 596.5L103.5 595.6L104.8 594.1L106.1 592.1L107.4 588.7L108.7 583.1L110.0 573.9L111.3 561.9L112.6 549.6L113.9 539.6L115.2 532.1L116.5 526.0L117.8 521.4L119.1 518.5L120.4 517.5L121.7 518.4L123.0 520.4L124.2 523.0L125.5 526.2L126.8 530.3L128.1 534.9L129.4 539.6L130.7 544.9L132.1 550.7L133.4 556.1L134.6 560.3L135.7 562.8L136.6 564.2L137.6 564.9L138.8 565.5L140.1 566.2L141.7 566.7L143.3 566.8L145.0 566.6L146.7 565.3L148.6 563.3L150.5 561.6L152.2 561.4L153.9 563.1L155.4 566.1L156.9 569.6L158.5 572.8L159.9 575.7L161.3 578.6L162.8 581.2L164.7 583.1L167.2 584.1L170.2 584.3L173.1 584.2L175.0 584.2" fill="none" stroke="#52bd98" stroke-width="1.15" stroke-opacity="1.0" stroke-linejoin="round" stroke-linecap="round"/>
<path d="M32.0 593.5L33.1 592.5L34.7 591.0L36.5 589.7L38.2 589.3L39.7 590.4L41.3 592.4L42.8 594.5L44.4 595.5L46.2 595.2L48.0 594.1L49.9 592.7L51.7 591.4L53.5 590.2L55.3 588.8L57.1 587.7L58.9 587.3L60.8 587.7L62.6 588.8L64.4 590.2L66.2 591.4L68.0 592.7L69.8 594.2L71.6 595.3L73.5 595.5L75.5 594.4L77.6 592.4L79.7 590.1L81.8 588.3L83.7 587.2L85.7 586.3L87.5 585.7L89.0 585.2L90.1 584.5L91.0 583.9L91.7 583.6L92.5 584.1L93.4 585.8L94.3 588.4L95.2 591.2L96.3 593.5L97.4 595.4L98.7 597.4L100.0 598.6L101.4 598.7L102.9 597.3L104.5 594.9L106.1 591.5L107.7 587.3L109.2 581.6L110.8 574.7L112.4 567.6L113.9 561.3L115.3 555.6L116.5 550.0L117.8 545.7L119.1 543.7L120.4 545.4L121.7 549.8L123.0 554.8L124.2 558.2L125.5 559.2L126.8 559.0L128.1 558.7L129.4 559.3L130.9 561.3L132.5 564.1L134.1 567.1L135.6 569.6L137.0 572.0L138.3 574.4L139.6 575.9L140.8 575.8L142.1 573.5L143.4 569.5L144.7 564.8L146.0 560.3L147.3 555.4L148.6 549.9L149.9 545.3L151.2 543.3L152.5 545.0L153.8 549.4L155.1 554.5L156.4 558.2L157.7 559.9L159.0 560.6L160.3 561.1L161.6 562.4L162.8 564.8L164.0 567.9L165.2 570.8L166.7 572.7L168.8 573.2L171.2 572.9L173.5 572.1L175.0 571.7L175.0 584.2L173.5 584.7L171.2 585.4L168.8 585.8L166.7 585.2L165.2 583.3L164.0 580.4L162.8 577.3L161.6 574.9L160.3 573.7L159.0 573.1L157.7 572.4L156.4 570.7L155.1 567.0L153.8 562.0L152.5 557.6L151.2 555.8L149.9 557.8L148.6 562.4L147.3 567.9L146.0 572.8L144.7 577.3L143.4 582.0L142.1 586.0L140.8 588.4L139.6 588.4L138.3 586.9L137.0 584.5L135.6 582.1L134.1 579.6L132.5 576.6L130.9 573.8L129.4 571.8L128.1 571.2L126.8 571.5L125.5 571.7L124.2 570.7L123.0 567.3L121.7 562.3L120.4 557.9L119.1 556.2L117.8 558.3L116.5 562.8L115.3 568.4L113.9 573.8L112.4 579.2L110.8 585.1L109.2 590.8L107.7 595.6L106.1 599.6L104.5 603.0L102.9 605.5L101.4 607.0L100.0 607.0L98.7 605.7L97.4 603.8L96.3 601.8L95.2 599.5L94.3 596.8L93.4 594.2L92.5 592.5L91.7 592.0L91.0 592.2L90.1 592.9L89.0 593.5L87.5 594.1L85.7 594.7L83.7 595.5L81.8 596.6L79.7 598.4L77.6 600.7L75.5 602.8L73.5 603.9L71.6 603.6L69.8 602.5L68.0 601.0L66.2 599.7L64.4 598.5L62.6 597.1L60.8 596.0L58.9 595.6L57.1 596.0L55.3 597.1L53.5 598.5L51.7 599.7L49.9 601.0L48.0 602.5L46.2 603.6L44.4 603.9L42.8 602.8L41.3 600.8L39.7 598.7L38.2 597.7L36.5 598.1L34.7 599.3L33.1 600.8L32.0 601.8Z" fill="#f9c0b4" fill-opacity="0.5" stroke="none"/>
<path d="M32.0 597.6L33.1 596.7L34.7 595.2L36.5 593.9L38.2 593.5L39.7 594.6L41.3 596.6L42.8 598.6L44.4 599.7L46.2 599.4L48.0 598.3L49.9 596.8L51.7 595.6L53.5 594.3L55.3 593.0L57.1 591.9L58.9 591.4L60.8 591.9L62.6 593.0L64.4 594.3L66.2 595.6L68.0 596.9L69.8 598.4L71.6 599.5L73.5 599.7L75.5 598.6L77.6 596.5L79.7 594.2L81.8 592.5L83.7 591.3L85.7 590.5L87.5 589.9L89.0 589.3L90.1 588.7L91.0 588.1L91.7 587.8L92.5 588.3L93.4 590.0L94.3 592.6L95.2 595.4L96.3 597.6L97.4 599.6L98.7 601.5L100.0 602.8L101.4 602.8L102.9 601.4L104.5 598.9L106.1 595.5L107.7 591.4L109.2 586.2L110.8 579.9L112.4 573.4L113.9 567.6L115.3 562.0L116.5 556.4L117.8 552.0L119.1 550.0L120.4 551.7L121.7 556.1L123.0 561.0L124.2 564.5L125.5 565.5L126.8 565.3L128.1 564.9L129.4 565.5L130.9 567.5L132.5 570.4L134.1 573.4L135.6 575.9L137.0 578.2L138.3 580.6L139.6 582.2L140.8 582.1L142.1 579.8L143.4 575.8L144.7 571.0L146.0 566.6L147.3 561.7L148.6 556.1L149.9 551.6L151.2 549.6L152.5 551.3L153.8 555.7L155.1 560.8L156.4 564.5L157.7 566.1L159.0 566.8L160.3 567.4L161.6 568.6L162.8 571.0L164.0 574.1L165.2 577.1L166.7 579.0L168.8 579.5L171.2 579.1L173.5 578.4L175.0 578.0" fill="none" stroke="#ef5a4a" stroke-width="1.15" stroke-opacity="1.0" stroke-linejoin="round" stroke-linecap="round"/>
<path d="M32.0 578.1L32.7 581.1L33.8 585.5L35.0 589.8L36.1 592.6L37.1 593.2L38.0 592.4L39.0 591.2L40.3 590.6L42.0 590.8L44.0 591.3L46.3 592.0L48.6 592.6L51.0 593.5L53.6 594.5L56.3 595.4L58.9 595.8L61.5 595.3L64.0 594.3L66.6 593.3L69.3 592.6L72.3 592.7L75.5 593.2L78.7 593.7L81.8 593.7L84.7 592.9L87.6 591.7L90.2 590.5L92.5 589.5L94.3 589.0L95.7 588.6L97.0 588.5L98.3 588.5L99.9 589.2L101.4 590.3L103.0 591.1L104.6 590.6L106.2 588.5L107.8 585.2L109.4 581.4L110.8 577.3L112.0 572.8L113.0 567.8L114.0 562.9L114.9 558.7L115.8 554.8L116.7 551.2L117.6 548.6L118.7 547.9L119.9 549.7L121.4 553.5L122.8 558.2L124.2 562.8L125.5 567.4L126.8 572.5L128.1 577.4L129.4 581.5L130.9 584.7L132.5 587.5L134.1 589.5L135.6 590.8L137.2 591.2L138.8 591.0L140.3 589.8L141.9 587.7L143.4 583.9L145.0 578.9L146.6 573.5L148.1 569.0L149.5 565.3L150.7 561.9L152.0 559.2L153.3 557.6L154.5 557.4L155.8 558.3L157.1 559.9L158.5 561.8L160.0 564.3L161.6 567.5L163.2 570.7L164.7 573.2L166.0 574.6L167.3 575.5L168.6 576.0L169.9 576.3L171.3 576.3L172.8 575.9L174.1 575.5L175.0 575.2L175.0 582.7L174.1 583.0L172.8 583.5L171.3 583.8L169.9 583.8L168.6 583.5L167.3 583.0L166.0 582.1L164.7 580.7L163.2 578.2L161.6 575.0L160.0 571.8L158.5 569.3L157.1 567.4L155.8 565.8L154.5 564.9L153.3 565.1L152.0 566.7L150.7 569.4L149.5 572.8L148.1 576.5L146.6 581.0L145.0 586.4L143.4 591.4L141.9 595.2L140.3 597.3L138.8 598.5L137.2 598.7L135.6 598.3L134.1 597.0L132.5 595.0L130.9 592.2L129.4 589.0L128.1 584.9L126.8 580.0L125.5 574.9L124.2 570.3L122.8 565.7L121.4 561.0L119.9 557.2L118.7 555.4L117.6 556.1L116.7 558.7L115.8 562.3L114.9 566.2L114.0 570.4L113.0 575.4L112.0 580.5L110.8 584.8L109.4 588.5L107.8 591.9L106.2 594.6L104.6 596.4L103.0 596.8L101.4 596.0L99.9 595.0L98.3 594.3L97.0 594.3L95.7 594.5L94.3 594.8L92.5 595.4L90.2 596.3L87.6 597.6L84.7 598.8L81.8 599.5L78.7 599.5L75.5 599.1L72.3 598.6L69.3 598.5L66.6 599.1L64.0 600.2L61.5 601.2L58.9 601.6L56.3 601.2L53.6 600.4L51.0 599.3L48.6 598.5L46.3 597.8L44.0 597.1L42.0 596.6L40.3 596.4L39.0 597.0L38.0 598.2L37.1 599.0L36.1 598.5L35.0 595.7L33.8 591.4L32.7 587.0L32.0 584.0Z" fill="#c5c8ee" fill-opacity="0.5" stroke="none"/>
<path d="M32.0 581.1L32.7 584.1L33.8 588.4L35.0 592.8L36.1 595.6L37.1 596.1L38.0 595.3L39.0 594.1L40.3 593.5L42.0 593.7L44.0 594.2L46.3 594.9L48.6 595.6L51.0 596.4L53.6 597.4L56.3 598.3L58.9 598.7L61.5 598.2L64.0 597.3L66.6 596.2L69.3 595.6L72.3 595.7L75.5 596.2L78.7 596.6L81.8 596.6L84.7 595.9L87.6 594.7L90.2 593.4L92.5 592.5L94.3 591.9L95.7 591.6L97.0 591.4L98.3 591.4L99.9 592.1L101.4 593.2L103.0 593.9L104.6 593.5L106.2 591.6L107.8 588.6L109.4 584.9L110.8 581.1L112.0 576.6L113.0 571.6L114.0 566.7L114.9 562.4L115.8 558.6L116.7 554.9L117.6 552.3L118.7 551.6L119.9 553.5L121.4 557.3L122.8 562.0L124.2 566.6L125.5 571.2L126.8 576.2L128.1 581.1L129.4 585.2L130.9 588.5L132.5 591.2L134.1 593.3L135.6 594.5L137.2 595.0L138.8 594.7L140.3 593.6L141.9 591.4L143.4 587.7L145.0 582.6L146.6 577.3L148.1 572.8L149.5 569.0L150.7 565.6L152.0 563.0L153.3 561.4L154.5 561.1L155.8 562.0L157.1 563.6L158.5 565.5L160.0 568.0L161.6 571.3L163.2 574.5L164.7 576.9L166.0 578.4L167.3 579.2L168.6 579.7L169.9 580.0L171.3 580.0L172.8 579.7L174.1 579.3L175.0 579.0" fill="none" stroke="#7180d2" stroke-width="1.15" stroke-opacity="1.0" stroke-linejoin="round" stroke-linecap="round"/>
</g>
<line x1="92.5" y1="493.3" x2="92.5" y2="604.8" stroke="#7c7c7c" stroke-width="1.0" stroke-dasharray="2.7,2.6"/>
<rect x="32.3" y="493.3" width="141.1" height="111.5" fill="none" stroke="#7a7a7a" stroke-width="0.9"/>
<path d="M52.5 604.8v-2.0M52.5 493.3v2.0M72.5 604.8v-2.0M72.5 493.3v2.0M92.5 604.8v-2.0M92.5 493.3v2.0M112.5 604.8v-2.0M112.5 493.3v2.0M132.5 604.8v-2.0M132.5 493.3v2.0M152.5 604.8v-2.0M152.5 493.3v2.0" stroke="#7a7a7a" stroke-width="0.8" fill="none"/>
<text x="52.5" y="614.8" font-size="8.2" text-anchor="middle" font-weight="normal" fill="#111" stroke="#111" stroke-width="0.16" >-200</text>
<text x="72.5" y="614.8" font-size="8.2" text-anchor="middle" font-weight="normal" fill="#111" stroke="#111" stroke-width="0.16" >-100</text>
<text x="92.5" y="614.8" font-size="8.2" text-anchor="middle" font-weight="normal" fill="#111" stroke="#111" stroke-width="0.16" >0</text>
<text x="112.5" y="614.8" font-size="8.2" text-anchor="middle" font-weight="normal" fill="#111" stroke="#111" stroke-width="0.16" >100</text>
<text x="132.5" y="614.8" font-size="8.2" text-anchor="middle" font-weight="normal" fill="#111" stroke="#111" stroke-width="0.16" >200</text>
<text x="152.5" y="614.8" font-size="8.2" text-anchor="middle" font-weight="normal" fill="#111" stroke="#111" stroke-width="0.16" >300</text>
<path d="M32.3 604.5h2.0M173.4 604.5h-2.0M32.3 583.65h2.0M173.4 583.65h-2.0M32.3 562.8h2.0M173.4 562.8h-2.0M32.3 541.95h2.0M173.4 541.95h-2.0M32.3 521.1h2.0M173.4 521.1h-2.0M32.3 500.25h2.0M173.4 500.25h-2.0" stroke="#7a7a7a" stroke-width="0.8" fill="none"/>
<text x="31.3" y="604.6" font-size="8.2" text-anchor="end" font-weight="normal" fill="#111" stroke="#111" stroke-width="0.16" >-1</text>
<text x="31.3" y="586.45" font-size="8.2" text-anchor="end" font-weight="normal" fill="#111" stroke="#111" stroke-width="0.16" >-0.5</text>
<text x="31.3" y="565.6" font-size="8.2" text-anchor="end" font-weight="normal" fill="#111" stroke="#111" stroke-width="0.16" >0</text>
<text x="31.3" y="544.75" font-size="8.2" text-anchor="end" font-weight="normal" fill="#111" stroke="#111" stroke-width="0.16" >0.5</text>
<text x="31.3" y="523.9" font-size="8.2" text-anchor="end" font-weight="normal" fill="#111" stroke="#111" stroke-width="0.16" >1.0</text>
<text x="31.3" y="503.05" font-size="8.2" text-anchor="end" font-weight="normal" fill="#111" stroke="#111" stroke-width="0.16" >1.5</text>
<text x="106.4" y="622" font-size="8.0" text-anchor="middle" font-weight="normal" fill="#111" stroke="#111" stroke-width="0.16" >Time (ms)</text>
<g clip-path="url(#c199_235)">
<path d="M199.0 321.8L200.5 319.2L202.8 315.5L205.2 311.8L207.3 309.4L209.0 309.0L210.5 309.8L212.0 311.0L213.5 311.5L215.1 310.9L216.6 310.0L218.2 309.0L219.7 308.3L221.3 308.4L222.8 308.8L224.4 309.2L225.9 309.4L227.5 309.0L229.0 308.3L230.5 307.8L232.2 307.9L233.9 309.4L235.7 311.7L237.6 313.8L239.4 314.6L241.3 313.1L243.1 310.2L244.9 307.3L246.7 305.9L248.3 306.4L249.8 308.2L251.3 310.5L252.9 312.5L254.6 314.3L256.3 316.2L258.1 317.8L259.9 318.7L261.7 318.5L263.5 317.4L265.4 316.2L267.4 315.6L269.7 316.0L272.1 317.1L274.5 317.9L276.7 317.4L278.7 315.1L280.6 311.4L282.3 307.7L284.0 305.0L285.6 304.1L287.2 304.2L288.8 304.5L290.2 304.0L291.6 302.4L292.8 300.2L294.0 297.8L295.4 295.7L296.9 293.7L298.5 291.8L300.1 290.2L301.6 289.5L303.0 289.8L304.2 291.0L305.5 292.5L306.8 293.6L308.3 294.2L309.8 294.5L311.4 294.8L313.0 295.7L314.6 297.2L316.1 299.1L317.7 301.1L319.2 302.9L320.7 304.5L322.2 306.1L323.8 307.4L325.5 308.1L327.4 307.9L329.5 307.0L331.6 306.1L333.7 306.0L336.0 307.4L338.4 309.5L340.5 311.8L342.0 313.3L342.0 328.4L340.5 326.9L338.4 324.7L336.0 322.5L333.7 321.2L331.6 321.2L329.5 322.1L327.4 323.0L325.5 323.2L323.8 322.5L322.2 321.2L320.7 319.7L319.2 318.1L317.7 316.3L316.1 314.2L314.6 312.3L313.0 310.8L311.4 310.0L309.8 309.6L308.3 309.3L306.8 308.7L305.5 307.6L304.2 306.1L303.0 304.9L301.6 304.6L300.1 305.4L298.5 306.9L296.9 308.9L295.4 310.8L294.0 312.9L292.8 315.3L291.6 317.5L290.2 319.1L288.8 319.6L287.2 319.4L285.6 319.2L284.0 320.1L282.3 322.8L280.6 326.7L278.7 330.4L276.7 332.6L274.5 332.5L272.1 331.0L269.7 329.2L267.4 328.2L265.4 328.7L263.5 329.9L261.7 331.0L259.9 331.3L258.1 330.4L256.3 328.8L254.6 326.9L252.9 325.1L251.3 323.1L249.8 320.8L248.3 319.0L246.7 318.5L244.9 319.9L243.1 322.8L241.3 325.7L239.4 327.2L237.6 326.4L235.7 324.3L233.9 322.0L232.2 320.5L230.5 320.4L229.0 320.9L227.5 321.6L225.9 322.0L224.4 321.8L222.8 321.4L221.3 321.0L219.7 320.9L218.2 321.6L216.6 322.6L215.1 323.5L213.5 324.1L212.0 323.6L210.5 322.4L209.0 321.6L207.3 322.0L205.2 324.4L202.8 328.1L200.5 331.8L199.0 334.4Z" fill="#bfe9d9" fill-opacity="0.45" stroke="none"/>
<path d="M199.0 328.1L200.5 325.5L202.8 321.8L205.2 318.1L207.3 315.7L209.0 315.3L210.5 316.1L212.0 317.3L213.5 317.8L215.1 317.2L216.6 316.3L218.2 315.3L219.7 314.6L221.3 314.7L222.8 315.1L224.4 315.5L225.9 315.7L227.5 315.3L229.0 314.6L230.5 314.1L232.2 314.2L233.9 315.7L235.7 318.0L237.6 320.1L239.4 320.9L241.3 319.4L243.1 316.5L244.9 313.6L246.7 312.2L248.3 312.7L249.8 314.5L251.3 316.8L252.9 318.8L254.6 320.6L256.3 322.5L258.1 324.1L259.9 325.0L261.7 324.7L263.5 323.6L265.4 322.5L267.4 321.9L269.7 322.6L272.1 324.0L274.5 325.2L276.7 325.0L278.7 322.7L280.6 319.0L282.3 315.2L284.0 312.6L285.6 311.7L287.2 311.8L288.8 312.0L290.2 311.5L291.6 309.9L292.8 307.7L294.0 305.3L295.4 303.2L296.9 301.3L298.5 299.4L300.1 297.8L301.6 297.0L303.0 297.4L304.2 298.6L305.5 300.0L306.8 301.2L308.3 301.7L309.8 302.0L311.4 302.4L313.0 303.2L314.6 304.7L316.1 306.7L317.7 308.7L319.2 310.5L320.7 312.1L322.2 313.7L323.8 314.9L325.5 315.7L327.4 315.5L329.5 314.5L331.6 313.6L333.7 313.6L336.0 314.9L338.4 317.1L340.5 319.3L342.0 320.9" fill="none" stroke="#52bd98" stroke-width="1.15" stroke-opacity="1.0" stroke-linejoin="round" stroke-linecap="round"/>
<path d="M199.0 315.8L200.1 316.8L201.7 318.2L203.5 319.4L205.2 320.0L206.7 319.5L208.3 318.4L209.8 317.1L211.4 315.8L213.2 314.7L215.0 313.4L216.9 312.3L218.7 311.7L220.5 311.9L222.4 312.6L224.2 313.4L225.9 313.8L227.5 313.5L229.0 312.7L230.5 312.0L232.2 311.7L234.1 311.9L236.2 312.5L238.3 313.2L240.5 313.8L242.5 314.4L244.4 315.2L246.5 315.8L248.8 315.8L251.4 315.1L254.4 313.8L257.3 312.4L259.9 311.7L262.0 311.8L263.7 312.5L265.4 313.3L267.4 313.8L269.8 313.7L272.3 313.5L275.0 313.2L277.8 313.4L280.6 314.2L283.7 315.6L286.6 316.8L289.2 317.1L291.3 316.2L293.0 314.5L294.6 312.4L296.4 310.2L298.5 307.7L300.6 304.6L302.7 301.9L304.7 300.3L306.6 300.3L308.5 301.3L310.3 302.7L312.0 303.6L313.6 303.8L315.1 303.7L316.6 303.7L318.2 304.0L319.9 305.1L321.7 306.5L323.5 308.0L325.5 309.2L327.5 309.8L329.5 310.1L331.6 310.5L333.7 311.3L336.0 312.9L338.4 315.0L340.5 317.1L342.0 318.5L342.0 325.3L340.5 323.8L338.4 321.8L336.0 319.6L333.7 318.0L331.6 317.2L329.5 316.8L327.5 316.5L325.5 315.9L323.5 314.7L321.7 313.2L319.9 311.8L318.2 310.7L316.6 310.4L315.1 310.4L313.6 310.5L312.0 310.3L310.3 309.4L308.5 308.0L306.6 307.0L304.7 307.0L302.7 308.6L300.6 311.4L298.5 314.4L296.4 317.0L294.6 319.1L293.0 321.2L291.3 322.9L289.2 323.8L286.6 323.5L283.7 322.4L280.6 321.0L277.8 320.1L275.0 319.8L272.3 319.8L269.8 319.8L267.4 319.7L265.4 319.1L263.7 318.3L262.0 317.7L259.9 317.6L257.3 318.3L254.4 319.7L251.4 321.0L248.8 321.7L246.5 321.6L244.4 321.1L242.5 320.3L240.5 319.7L238.3 319.0L236.2 318.4L234.1 317.8L232.2 317.6L230.5 317.9L229.0 318.6L227.5 319.3L225.9 319.7L224.2 319.3L222.4 318.5L220.5 317.8L218.7 317.6L216.9 318.2L215.0 319.3L213.2 320.5L211.4 321.7L209.8 323.0L208.3 324.3L206.7 325.4L205.2 325.9L203.5 325.3L201.7 324.1L200.1 322.7L199.0 321.7Z" fill="#f9c0b4" fill-opacity="0.5" stroke="none"/>
<path d="M199.0 318.8L200.1 319.7L201.7 321.1L203.5 322.4L205.2 322.9L206.7 322.5L208.3 321.4L209.8 320.0L211.4 318.8L213.2 317.6L215.0 316.3L216.9 315.2L218.7 314.6L220.5 314.8L222.4 315.6L224.2 316.3L225.9 316.7L227.5 316.4L229.0 315.7L230.5 315.0L232.2 314.6L234.1 314.9L236.2 315.4L238.3 316.1L240.5 316.7L242.5 317.4L244.4 318.1L246.5 318.7L248.8 318.8L251.4 318.0L254.4 316.7L257.3 315.4L259.9 314.6L262.0 314.8L263.7 315.4L265.4 316.2L267.4 316.7L269.8 316.8L272.3 316.6L275.0 316.5L277.8 316.7L280.6 317.6L283.7 319.0L286.6 320.2L289.2 320.4L291.3 319.6L293.0 317.9L294.6 315.8L296.4 313.6L298.5 311.0L300.6 308.0L302.7 305.3L304.7 303.7L306.6 303.6L308.5 304.7L310.3 306.0L312.0 307.0L313.6 307.2L315.1 307.1L316.6 307.0L318.2 307.4L319.9 308.4L321.7 309.9L323.5 311.4L325.5 312.6L327.5 313.2L329.5 313.5L331.6 313.8L333.7 314.6L336.0 316.3L338.4 318.4L340.5 320.5L342.0 321.9" fill="none" stroke="#ef5a4a" stroke-width="1.15" stroke-opacity="1.0" stroke-linejoin="round" stroke-linecap="round"/>
</g>
<line x1="259.9" y1="235.5" x2="259.9" y2="346.4" stroke="#7c7c7c" stroke-width="1.0" stroke-dasharray="2.7,2.6"/>
<rect x="199.7" y="235.5" width="140.6" height="110.9" fill="none" stroke="#7a7a7a" stroke-width="0.9"/>
<path d="M219.38 346.4v-2.0M219.38 235.5v2.0M239.64 346.4v-2.0M239.64 235.5v2.0M259.9 346.4v-2.0M259.9 235.5v2.0M280.16 346.4v-2.0M280.16 235.5v2.0M300.42 346.4v-2.0M300.42 235.5v2.0M320.68 346.4v-2.0M320.68 235.5v2.0" stroke="#7a7a7a" stroke-width="0.8" fill="none"/>
<text x="219.38" y="355" font-size="8.2" text-anchor="middle" font-weight="normal" fill="#111" stroke="#111" stroke-width="0.16" >-200</text>
<text x="239.64" y="355" font-size="8.2" text-anchor="middle" font-weight="normal" fill="#111" stroke="#111" stroke-width="0.16" >-100</text>
<text x="259.9" y="355" font-size="8.2" text-anchor="middle" font-weight="normal" fill="#111" stroke="#111" stroke-width="0.16" >0</text>
<text x="280.16" y="355" font-size="8.2" text-anchor="middle" font-weight="normal" fill="#111" stroke="#111" stroke-width="0.16" >100</text>
<text x="300.42" y="355" font-size="8.2" text-anchor="middle" font-weight="normal" fill="#111" stroke="#111" stroke-width="0.16" >200</text>
<text x="320.68" y="355" font-size="8.2" text-anchor="middle" font-weight="normal" fill="#111" stroke="#111" stroke-width="0.16" >300</text>
<path d="M199.7 346.9h2.0M340.3 346.9h-2.0M199.7 325.9h2.0M340.3 325.9h-2.0M199.7 304.9h2.0M340.3 304.9h-2.0M199.7 283.9h2.0M340.3 283.9h-2.0M199.7 262.9h2.0M340.3 262.9h-2.0M199.7 241.9h2.0M340.3 241.9h-2.0" stroke="#7a7a7a" stroke-width="0.8" fill="none"/>
<text x="198.7" y="346.2" font-size="8.2" text-anchor="end" font-weight="normal" fill="#111" stroke="#111" stroke-width="0.16" >-1</text>
<text x="198.7" y="328.7" font-size="8.2" text-anchor="end" font-weight="normal" fill="#111" stroke="#111" stroke-width="0.16" >-0.5</text>
<text x="198.7" y="307.7" font-size="8.2" text-anchor="end" font-weight="normal" fill="#111" stroke="#111" stroke-width="0.16" >0</text>
<text x="198.7" y="286.7" font-size="8.2" text-anchor="end" font-weight="normal" fill="#111" stroke="#111" stroke-width="0.16" >0.5</text>
<text x="198.7" y="265.7" font-size="8.2" text-anchor="end" font-weight="normal" fill="#111" stroke="#111" stroke-width="0.16" >1.0</text>
<text x="198.7" y="244.7" font-size="8.2" text-anchor="end" font-weight="normal" fill="#111" stroke="#111" stroke-width="0.16" >1.5</text>
<text x="273.8" y="362.1" font-size="8.0" text-anchor="middle" font-weight="normal" fill="#111" stroke="#111" stroke-width="0.16" >Time (ms)</text>
<g clip-path="url(#c199_364)">
<path d="M199.0 445.2L200.5 445.5L202.8 445.9L205.2 446.2L207.3 446.2L209.0 446.0L210.6 445.6L212.1 444.9L213.5 444.2L214.7 443.0L215.8 441.5L216.9 440.2L218.1 439.6L219.4 440.2L220.9 441.5L222.4 443.0L223.9 444.2L225.4 445.0L226.9 445.8L228.5 446.2L230.1 445.8L231.7 444.1L233.4 441.4L235.0 438.8L236.7 437.5L238.4 438.3L240.1 440.5L241.8 442.8L243.6 444.2L245.3 444.2L247.1 443.4L248.9 442.5L250.8 442.1L253.1 442.3L255.5 442.7L257.9 443.4L259.9 444.2L261.5 445.3L262.8 446.7L264.0 447.9L265.3 448.3L266.8 447.7L268.3 446.2L269.9 444.6L271.6 443.1L273.3 442.2L275.1 441.4L276.9 440.4L278.8 439.0L280.9 437.1L283.1 434.8L285.3 432.1L287.1 429.0L288.4 425.1L289.4 420.7L290.3 416.0L291.2 411.3L292.3 406.3L293.3 400.8L294.4 395.9L295.4 392.7L296.4 392.1L297.5 393.3L298.5 394.8L299.5 394.8L300.6 392.6L301.5 389.3L302.6 385.5L303.7 382.3L304.9 379.8L306.3 377.5L307.6 375.2L308.9 373.0L310.0 370.1L311.0 366.8L312.0 364.3L313.0 363.7L314.1 365.5L315.2 369.0L316.2 373.5L317.2 378.2L318.0 383.0L318.7 388.5L319.4 393.9L320.3 398.9L321.2 403.6L322.2 408.2L323.3 412.1L324.4 414.5L325.6 414.6L326.9 413.0L328.2 411.2L329.6 410.3L331.1 410.9L332.6 412.1L334.2 413.7L335.8 415.5L337.5 417.8L339.3 420.5L340.9 423.0L342.0 424.8L342.0 448.2L340.9 446.5L339.3 443.9L337.5 441.2L335.8 438.9L334.2 437.1L332.6 435.5L331.1 434.3L329.6 433.7L328.2 434.6L326.9 436.4L325.6 438.0L324.4 437.9L323.3 435.5L322.2 431.6L321.2 427.0L320.3 422.3L319.4 417.3L318.7 411.9L318.0 406.4L317.2 401.6L316.2 397.0L315.2 392.4L314.1 388.9L313.0 387.1L312.0 387.7L311.0 390.2L310.0 393.5L308.9 396.4L307.6 398.7L306.3 400.9L304.9 403.2L303.7 405.7L302.6 409.0L301.5 412.7L300.6 416.0L299.5 418.2L298.5 418.2L297.5 416.7L296.4 415.5L295.4 416.1L294.4 419.3L293.3 424.2L292.3 429.7L291.2 434.8L290.3 439.8L289.4 445.1L288.4 449.6L287.1 452.4L285.3 452.3L283.1 450.3L280.9 447.8L278.8 446.5L276.9 446.8L275.1 447.9L273.3 449.3L271.6 450.7L269.9 452.1L268.3 453.8L266.8 455.2L265.3 455.8L264.0 455.4L262.8 454.2L261.5 452.8L259.9 451.7L257.9 450.9L255.5 450.3L253.1 449.8L250.8 449.6L248.9 450.1L247.1 450.9L245.3 451.7L243.6 451.7L241.8 450.3L240.1 448.0L238.4 445.9L236.7 445.1L235.0 446.3L233.4 448.9L231.7 451.6L230.1 453.4L228.5 453.7L226.9 453.3L225.4 452.5L223.9 451.7L222.4 450.5L220.9 449.0L219.4 447.7L218.1 447.1L216.9 447.7L215.8 449.0L214.7 450.5L213.5 451.7L212.1 452.5L210.6 453.1L209.0 453.5L207.3 453.8L205.2 453.7L202.8 453.4L200.5 453.0L199.0 452.7Z" fill="#bfe9d9" fill-opacity="0.45" stroke="none"/>
<path d="M199.0 449.0L200.5 449.2L202.8 449.6L205.2 449.9L207.3 450.0L209.0 449.8L210.6 449.3L212.1 448.7L213.5 447.9L214.7 446.8L215.8 445.2L216.9 443.9L218.1 443.4L219.4 443.9L220.9 445.3L222.4 446.8L223.9 447.9L225.4 448.8L226.9 449.6L228.5 449.9L230.1 449.6L231.7 447.9L233.4 445.1L235.0 442.6L236.7 441.3L238.4 442.1L240.1 444.2L241.8 446.5L243.6 447.9L245.3 447.9L247.1 447.2L248.9 446.3L250.8 445.9L253.1 446.0L255.5 446.5L257.9 447.2L259.9 447.9L261.5 449.0L262.8 450.5L264.0 451.6L265.3 452.1L266.8 451.4L268.3 450.0L269.9 448.3L271.6 446.9L273.3 445.7L275.1 444.6L276.9 443.6L278.8 442.7L280.9 442.4L283.1 442.6L285.3 442.2L287.1 440.7L288.4 437.4L289.4 432.9L290.3 427.9L291.2 423.1L292.3 418.0L293.3 412.5L294.4 407.6L295.4 404.4L296.4 403.8L297.5 405.0L298.5 406.5L299.5 406.5L300.6 404.3L301.5 401.0L302.6 397.3L303.7 394.0L304.9 391.5L306.3 389.2L307.6 387.0L308.9 384.7L310.0 381.8L311.0 378.5L312.0 376.0L313.0 375.4L314.1 377.2L315.2 380.7L316.2 385.3L317.2 389.9L318.0 394.7L318.7 400.2L319.4 405.6L320.3 410.6L321.2 415.3L322.2 419.9L323.3 423.8L324.4 426.2L325.6 426.3L326.9 424.7L328.2 422.9L329.6 422.0L331.1 422.6L332.6 423.8L334.2 425.4L335.8 427.2L337.5 429.5L339.3 432.2L340.9 434.8L342.0 436.5" fill="none" stroke="#52bd98" stroke-width="1.15" stroke-opacity="1.0" stroke-linejoin="round" stroke-linecap="round"/>
<path d="M199.0 444.0L200.1 443.5L201.6 442.9L203.4 442.2L205.2 441.9L207.2 441.9L209.4 442.2L211.5 442.5L213.5 442.9L215.2 443.4L216.6 443.9L218.1 444.5L219.7 445.0L221.7 445.6L223.7 446.4L225.9 446.9L228.0 446.7L230.1 445.2L232.2 442.9L234.3 440.8L236.3 439.8L238.2 440.9L239.9 443.2L241.6 445.5L243.6 446.7L245.8 446.0L248.2 444.2L250.7 442.3L252.9 441.3L254.8 441.7L256.5 442.9L258.2 444.2L259.9 444.6L261.8 443.7L263.6 442.0L265.5 440.3L267.4 439.2L269.4 439.2L271.5 439.8L273.6 440.4L275.7 440.4L277.8 439.8L280.0 438.6L282.1 437.2L284.0 435.7L285.7 433.9L287.2 432.0L288.7 429.8L290.2 427.6L291.8 424.9L293.3 421.9L294.9 419.2L296.4 417.2L298.0 416.3L299.5 416.2L301.1 416.3L302.6 416.2L304.2 415.7L305.7 415.2L307.2 414.4L308.9 413.1L310.7 410.6L312.6 407.3L314.4 404.3L316.1 402.7L317.5 403.0L318.8 404.5L320.0 406.7L321.3 408.9L322.8 411.2L324.3 413.8L325.9 416.5L327.5 419.3L329.0 422.1L330.5 425.0L332.0 427.9L333.7 430.7L335.9 433.4L338.3 436.1L340.5 438.4L342.0 440.0L342.0 451.7L340.5 450.1L338.3 447.8L335.9 445.1L333.7 442.4L332.0 439.6L330.5 436.7L329.0 433.8L327.5 431.0L325.9 428.2L324.3 425.5L322.8 422.9L321.3 420.6L320.0 418.4L318.8 416.2L317.5 414.7L316.1 414.4L314.4 416.0L312.6 419.0L310.7 422.3L308.9 424.8L307.2 426.1L305.7 426.9L304.2 427.4L302.6 427.9L301.1 428.1L299.5 427.9L298.0 428.0L296.4 428.9L294.9 431.0L293.3 434.0L291.8 437.0L290.2 439.3L288.7 440.3L287.2 440.7L285.7 441.0L284.0 441.5L282.1 442.7L280.0 444.1L277.8 445.5L275.7 446.3L273.6 446.3L271.5 445.6L269.4 445.0L267.4 445.1L265.5 446.1L263.6 447.9L261.8 449.6L259.9 450.4L258.2 450.0L256.5 448.8L254.8 447.5L252.9 447.1L250.7 448.1L248.2 450.0L245.8 451.8L243.6 452.5L241.6 451.3L239.9 449.0L238.2 446.7L236.3 445.7L234.3 446.6L232.2 448.8L230.1 451.1L228.0 452.5L225.9 452.7L223.7 452.2L221.7 451.5L219.7 450.9L218.1 450.3L216.6 449.8L215.2 449.2L213.5 448.8L211.5 448.4L209.4 448.0L207.2 447.8L205.2 447.7L203.4 448.1L201.6 448.7L200.1 449.4L199.0 449.8Z" fill="#f9c0b4" fill-opacity="0.5" stroke="none"/>
<path d="M199.0 446.9L200.1 446.4L201.6 445.8L203.4 445.2L205.2 444.8L207.2 444.8L209.4 445.1L211.5 445.5L213.5 445.9L215.2 446.3L216.6 446.9L218.1 447.4L219.7 447.9L221.7 448.6L223.7 449.3L225.9 449.8L228.0 449.6L230.1 448.2L232.2 445.8L234.3 443.7L236.3 442.7L238.2 443.8L239.9 446.1L241.6 448.4L243.6 449.6L245.8 448.9L248.2 447.1L250.7 445.2L252.9 444.2L254.8 444.6L256.5 445.9L258.2 447.1L259.9 447.5L261.8 446.6L263.6 445.0L265.5 443.2L267.4 442.1L269.4 442.1L271.5 442.7L273.6 443.3L275.7 443.4L277.8 442.6L280.0 441.4L282.1 440.0L284.0 438.6L285.7 437.5L287.2 436.4L288.7 435.1L290.2 433.4L291.8 431.0L293.3 428.0L294.9 425.1L296.4 423.1L298.0 422.2L299.5 422.1L301.1 422.2L302.6 422.0L304.2 421.6L305.7 421.0L307.2 420.2L308.9 418.9L310.7 416.4L312.6 413.1L314.4 410.1L316.1 408.5L317.5 408.8L318.8 410.4L320.0 412.5L321.3 414.8L322.8 417.0L324.3 419.6L325.9 422.4L327.5 425.1L329.0 428.0L330.5 430.9L332.0 433.8L333.7 436.5L335.9 439.2L338.3 441.9L340.5 444.2L342.0 445.9" fill="none" stroke="#ef5a4a" stroke-width="1.15" stroke-opacity="1.0" stroke-linejoin="round" stroke-linecap="round"/>
</g>
<line x1="259.9" y1="364.3" x2="259.9" y2="475.1" stroke="#7c7c7c" stroke-width="1.0" stroke-dasharray="2.7,2.6"/>
<rect x="199.7" y="364.3" width="140.6" height="110.8" fill="none" stroke="#7a7a7a" stroke-width="0.9"/>
<path d="M219.38 475.1v-2.0M219.38 364.3v2.0M239.64 475.1v-2.0M239.64 364.3v2.0M259.9 475.1v-2.0M259.9 364.3v2.0M280.16 475.1v-2.0M280.16 364.3v2.0M300.42 475.1v-2.0M300.42 364.3v2.0M320.68 475.1v-2.0M320.68 364.3v2.0" stroke="#7a7a7a" stroke-width="0.8" fill="none"/>
<text x="219.38" y="484.2" font-size="8.2" text-anchor="middle" font-weight="normal" fill="#111" stroke="#111" stroke-width="0.16" >-200</text>
<text x="239.64" y="484.2" font-size="8.2" text-anchor="middle" font-weight="normal" fill="#111" stroke="#111" stroke-width="0.16" >-100</text>
<text x="259.9" y="484.2" font-size="8.2" text-anchor="middle" font-weight="normal" fill="#111" stroke="#111" stroke-width="0.16" >0</text>
<text x="280.16" y="484.2" font-size="8.2" text-anchor="middle" font-weight="normal" fill="#111" stroke="#111" stroke-width="0.16" >100</text>
<text x="300.42" y="484.2" font-size="8.2" text-anchor="middle" font-weight="normal" fill="#111" stroke="#111" stroke-width="0.16" >200</text>
<text x="320.68" y="484.2" font-size="8.2" text-anchor="middle" font-weight="normal" fill="#111" stroke="#111" stroke-width="0.16" >300</text>
<path d="M199.7 475.3h2.0M340.3 475.3h-2.0M199.7 454.4h2.0M340.3 454.4h-2.0M199.7 433.5h2.0M340.3 433.5h-2.0M199.7 412.6h2.0M340.3 412.6h-2.0M199.7 391.7h2.0M340.3 391.7h-2.0M199.7 370.8h2.0M340.3 370.8h-2.0" stroke="#7a7a7a" stroke-width="0.8" fill="none"/>
<text x="198.7" y="474.9" font-size="8.2" text-anchor="end" font-weight="normal" fill="#111" stroke="#111" stroke-width="0.16" >-1</text>
<text x="198.7" y="457.2" font-size="8.2" text-anchor="end" font-weight="normal" fill="#111" stroke="#111" stroke-width="0.16" >-0.5</text>
<text x="198.7" y="436.3" font-size="8.2" text-anchor="end" font-weight="normal" fill="#111" stroke="#111" stroke-width="0.16" >0</text>
<text x="198.7" y="415.4" font-size="8.2" text-anchor="end" font-weight="normal" fill="#111" stroke="#111" stroke-width="0.16" >0.5</text>
<text x="198.7" y="394.5" font-size="8.2" text-anchor="end" font-weight="normal" fill="#111" stroke="#111" stroke-width="0.16" >1.0</text>
<text x="198.7" y="373.6" font-size="8.2" text-anchor="end" font-weight="normal" fill="#111" stroke="#111" stroke-width="0.16" >1.5</text>
<text x="273.8" y="491.7" font-size="8.0" text-anchor="middle" font-weight="normal" fill="#111" stroke="#111" stroke-width="0.16" >Time (ms)</text>
<g clip-path="url(#c199_494)">
<path d="M199.0 573.6L200.5 573.0L202.7 572.1L205.1 571.2L207.3 570.5L209.2 569.8L211.1 569.3L212.9 568.9L214.5 569.0L216.0 569.7L217.2 570.9L218.4 572.3L219.7 573.6L221.2 574.8L222.6 576.2L224.2 577.3L225.9 577.7L227.9 577.3L229.9 576.2L232.0 574.8L234.2 573.6L236.5 572.2L239.0 570.7L241.4 569.4L243.6 569.0L245.5 569.9L247.2 571.6L248.9 573.4L250.8 574.6L253.0 574.8L255.4 574.5L257.7 574.0L259.9 573.6L262.0 573.2L263.9 572.7L265.7 572.4L267.4 572.5L269.0 573.6L270.5 575.2L272.0 576.8L273.6 577.7L275.6 577.7L277.8 577.2L279.9 576.4L281.9 575.6L283.6 575.5L285.2 575.6L286.7 575.0L288.1 572.5L289.5 567.0L290.9 559.4L292.1 551.6L293.3 545.7L294.4 542.6L295.4 540.9L296.4 539.8L297.5 538.5L298.7 536.8L299.9 535.1L301.3 533.3L302.6 531.2L304.2 528.4L305.8 525.0L307.4 521.9L308.9 519.8L310.2 519.6L311.5 520.6L312.8 521.4L314.0 520.9L315.4 517.6L316.7 512.7L318.0 508.1L319.2 505.9L320.3 507.1L321.3 510.5L322.3 514.7L323.4 518.8L324.6 522.8L325.8 527.1L327.1 531.2L328.6 534.3L330.3 536.2L332.1 537.1L334.0 537.7L335.8 538.5L337.6 539.6L339.4 540.8L340.9 541.9L342.0 542.6L342.0 559.4L340.9 558.6L339.4 557.5L337.6 556.3L335.8 555.2L334.0 554.4L332.1 553.8L330.3 552.9L328.6 551.1L327.1 547.9L325.8 543.8L324.6 539.5L323.4 535.5L322.3 531.5L321.3 527.2L320.3 523.9L319.2 522.7L318.0 524.8L316.7 529.4L315.4 534.3L314.0 537.6L312.8 538.2L311.5 537.3L310.2 536.3L308.9 536.5L307.4 538.6L305.8 541.7L304.2 545.1L302.6 548.0L301.3 550.1L299.9 551.8L298.7 553.5L297.5 555.2L296.4 556.8L295.4 558.2L294.4 560.0L293.3 562.5L292.1 566.3L290.9 571.1L289.5 575.8L288.1 579.2L286.7 581.0L285.2 581.7L283.6 581.9L281.9 582.3L279.9 583.1L277.8 583.9L275.6 584.4L273.6 584.4L272.0 583.5L270.5 581.9L269.0 580.3L267.4 579.2L265.7 579.0L263.9 579.4L262.0 579.9L259.9 580.3L257.7 580.7L255.4 581.2L253.0 581.5L250.8 581.3L248.9 580.1L247.2 578.3L245.5 576.5L243.6 575.7L241.4 576.1L239.0 577.4L236.5 578.9L234.2 580.3L232.0 581.5L229.9 582.9L227.9 584.0L225.9 584.4L224.2 584.0L222.6 582.9L221.2 581.5L219.7 580.3L218.4 579.0L217.2 577.6L216.0 576.4L214.5 575.7L212.9 575.6L211.1 575.9L209.2 576.5L207.3 577.1L205.1 577.9L202.7 578.8L200.5 579.7L199.0 580.3Z" fill="#bfe9d9" fill-opacity="0.45" stroke="none"/>
<path d="M199.0 576.9L200.5 576.3L202.7 575.5L205.1 574.5L207.3 573.8L209.2 573.2L211.1 572.6L212.9 572.3L214.5 572.4L216.0 573.1L217.2 574.3L218.4 575.7L219.7 576.9L221.2 578.2L222.6 579.5L224.2 580.6L225.9 581.1L227.9 580.6L229.9 579.5L232.0 578.2L234.2 576.9L236.5 575.6L239.0 574.0L241.4 572.8L243.6 572.4L245.5 573.2L247.2 574.9L248.9 576.8L250.8 578.0L253.0 578.2L255.4 577.8L257.7 577.3L259.9 576.9L262.0 576.5L263.9 576.0L265.7 575.7L267.4 575.9L269.0 576.9L270.5 578.5L272.0 580.1L273.6 581.1L275.6 581.1L277.8 580.5L279.9 579.7L281.9 579.0L283.6 578.7L285.2 578.7L286.7 578.0L288.1 575.9L289.5 571.4L290.9 565.3L292.1 559.0L293.3 554.1L294.4 551.3L295.4 549.6L296.4 548.3L297.5 546.9L298.7 545.1L299.9 543.5L301.3 541.7L302.6 539.6L304.2 536.7L305.8 533.4L307.4 530.3L308.9 528.2L310.2 527.9L311.5 528.9L312.8 529.8L314.0 529.2L315.4 526.0L316.7 521.0L318.0 516.5L319.2 514.3L320.3 515.5L321.3 518.8L322.3 523.1L323.4 527.2L324.6 531.1L325.8 535.5L327.1 539.6L328.6 542.7L330.3 544.5L332.1 545.5L334.0 546.1L335.8 546.9L337.6 548.0L339.4 549.2L340.9 550.3L342.0 551.0" fill="none" stroke="#52bd98" stroke-width="1.15" stroke-opacity="1.0" stroke-linejoin="round" stroke-linecap="round"/>
<path d="M199.0 555.3L199.7 556.8L200.7 558.9L201.9 561.3L203.1 563.6L204.3 565.9L205.4 568.5L206.7 570.6L208.3 571.9L210.4 571.7L212.8 570.4L215.3 569.1L217.7 568.8L219.8 570.3L221.8 572.9L223.8 575.2L225.9 576.0L228.2 574.3L230.6 570.9L233.0 567.4L235.3 565.7L237.4 566.4L239.4 568.7L241.4 571.2L243.6 572.9L245.9 573.5L248.3 573.5L250.7 573.3L252.9 572.9L254.8 572.7L256.4 572.4L258.1 571.9L259.9 570.9L262.1 568.9L264.5 566.3L267.0 563.8L269.5 562.6L272.1 563.0L274.7 564.4L277.4 566.3L279.8 567.8L282.1 569.1L284.3 570.7L286.3 571.5L288.1 570.9L289.7 568.2L290.9 564.1L292.1 559.3L293.3 554.4L294.6 549.2L295.9 543.4L297.2 537.9L298.5 533.7L299.8 531.1L301.1 529.7L302.4 528.9L303.7 528.5L305.0 528.8L306.3 530.0L307.6 530.9L308.9 530.6L310.0 528.6L310.9 525.5L311.9 522.1L313.0 519.2L314.2 516.7L315.5 514.1L316.9 512.3L318.2 511.9L319.5 513.5L320.9 516.7L322.2 520.3L323.4 523.3L324.4 525.8L325.3 528.1L326.2 530.1L327.5 531.6L329.4 532.3L331.5 532.3L333.8 532.5L335.8 533.7L337.7 536.8L339.4 541.1L341.0 545.3L342.0 548.2L342.0 568.3L341.0 565.4L339.4 561.2L337.7 556.9L335.8 553.8L333.8 552.5L331.5 552.3L329.4 552.4L327.5 551.7L326.2 550.1L325.3 548.1L324.4 545.8L323.4 543.4L322.2 540.3L320.9 536.7L319.5 533.6L318.2 532.0L316.9 532.4L315.5 534.2L314.2 536.7L313.0 539.3L311.9 542.1L310.9 545.5L310.0 548.7L308.9 550.7L307.6 550.9L306.3 550.0L305.0 548.9L303.7 548.6L302.4 549.0L301.1 549.8L299.8 551.2L298.5 553.8L297.2 558.2L295.9 564.1L294.6 570.0L293.3 574.5L292.1 577.3L290.9 579.2L289.7 580.3L288.1 580.9L286.3 580.8L284.3 580.1L282.1 578.9L279.8 577.8L277.4 576.3L274.7 574.5L272.1 573.0L269.5 572.6L267.0 573.9L264.5 576.3L262.1 578.9L259.9 580.9L258.1 581.9L256.4 582.4L254.8 582.7L252.9 583.0L250.7 583.3L248.3 583.6L245.9 583.5L243.6 583.0L241.4 581.3L239.4 578.7L237.4 576.5L235.3 575.7L233.0 577.5L230.6 580.9L228.2 584.3L225.9 586.1L223.8 585.3L221.8 582.9L219.8 580.3L217.7 578.8L215.3 579.1L212.8 580.4L210.4 581.7L208.3 581.9L206.7 580.7L205.4 578.5L204.3 576.0L203.1 573.6L201.9 571.4L200.7 569.0L199.7 566.8L199.0 565.3Z" fill="#f9c0b4" fill-opacity="0.5" stroke="none"/>
<path d="M199.0 560.3L199.7 561.8L200.7 564.0L201.9 566.4L203.1 568.6L204.3 571.0L205.4 573.5L206.7 575.6L208.3 576.9L210.4 576.7L212.8 575.4L215.3 574.1L217.7 573.8L219.8 575.3L221.8 577.9L223.8 580.2L225.9 581.1L228.2 579.3L230.6 575.9L233.0 572.5L235.3 570.7L237.4 571.4L239.4 573.7L241.4 576.2L243.6 578.0L245.9 578.5L248.3 578.5L250.7 578.3L252.9 578.0L254.8 577.7L256.4 577.4L258.1 576.9L259.9 575.9L262.1 573.9L264.5 571.3L267.0 568.9L269.5 567.6L272.1 568.0L274.7 569.5L277.4 571.3L279.8 572.8L282.1 574.0L284.3 575.4L286.3 576.2L288.1 575.9L289.7 574.3L290.9 571.7L292.1 568.3L293.3 564.5L294.6 559.6L295.9 553.7L297.2 548.0L298.5 543.7L299.8 541.2L301.1 539.7L302.4 539.0L303.7 538.6L305.0 538.9L306.3 540.0L307.6 540.9L308.9 540.6L310.0 538.6L310.9 535.5L311.9 532.1L313.0 529.2L314.2 526.7L315.5 524.2L316.9 522.4L318.2 522.0L319.5 523.6L320.9 526.7L322.2 530.3L323.4 533.4L324.4 535.8L325.3 538.1L326.2 540.1L327.5 541.7L329.4 542.3L331.5 542.3L333.8 542.5L335.8 543.7L337.7 546.8L339.4 551.1L341.0 555.4L342.0 558.3" fill="none" stroke="#ef5a4a" stroke-width="1.15" stroke-opacity="1.0" stroke-linejoin="round" stroke-linecap="round"/>
</g>
<line x1="259.9" y1="494.2" x2="259.9" y2="605.1" stroke="#7c7c7c" stroke-width="1.0" stroke-dasharray="2.7,2.6"/>
<rect x="199.7" y="494.2" width="140.6" height="110.9" fill="none" stroke="#7a7a7a" stroke-width="0.9"/>
<path d="M219.38 605.1v-2.0M219.38 494.2v2.0M239.64 605.1v-2.0M239.64 494.2v2.0M259.9 605.1v-2.0M259.9 494.2v2.0M280.16 605.1v-2.0M280.16 494.2v2.0M300.42 605.1v-2.0M300.42 494.2v2.0M320.68 605.1v-2.0M320.68 494.2v2.0" stroke="#7a7a7a" stroke-width="0.8" fill="none"/>
<text x="219.38" y="615.1" font-size="8.2" text-anchor="middle" font-weight="normal" fill="#111" stroke="#111" stroke-width="0.16" >-200</text>
<text x="239.64" y="615.1" font-size="8.2" text-anchor="middle" font-weight="normal" fill="#111" stroke="#111" stroke-width="0.16" >-100</text>
<text x="259.9" y="615.1" font-size="8.2" text-anchor="middle" font-weight="normal" fill="#111" stroke="#111" stroke-width="0.16" >0</text>
<text x="280.16" y="615.1" font-size="8.2" text-anchor="middle" font-weight="normal" fill="#111" stroke="#111" stroke-width="0.16" >100</text>
<text x="300.42" y="615.1" font-size="8.2" text-anchor="middle" font-weight="normal" fill="#111" stroke="#111" stroke-width="0.16" >200</text>
<text x="320.68" y="615.1" font-size="8.2" text-anchor="middle" font-weight="normal" fill="#111" stroke="#111" stroke-width="0.16" >300</text>
<path d="M199.7 605.3h2.0M340.3 605.3h-2.0M199.7 584.4h2.0M340.3 584.4h-2.0M199.7 563.5h2.0M340.3 563.5h-2.0M199.7 542.6h2.0M340.3 542.6h-2.0M199.7 521.7h2.0M340.3 521.7h-2.0M199.7 500.8h2.0M340.3 500.8h-2.0" stroke="#7a7a7a" stroke-width="0.8" fill="none"/>
<text x="198.7" y="604.9" font-size="8.2" text-anchor="end" font-weight="normal" fill="#111" stroke="#111" stroke-width="0.16" >-1</text>
<text x="198.7" y="587.2" font-size="8.2" text-anchor="end" font-weight="normal" fill="#111" stroke="#111" stroke-width="0.16" >-0.5</text>
<text x="198.7" y="566.3" font-size="8.2" text-anchor="end" font-weight="normal" fill="#111" stroke="#111" stroke-width="0.16" >0</text>
<text x="198.7" y="545.4" font-size="8.2" text-anchor="end" font-weight="normal" fill="#111" stroke="#111" stroke-width="0.16" >0.5</text>
<text x="198.7" y="524.5" font-size="8.2" text-anchor="end" font-weight="normal" fill="#111" stroke="#111" stroke-width="0.16" >1.0</text>
<text x="198.7" y="503.6" font-size="8.2" text-anchor="end" font-weight="normal" fill="#111" stroke="#111" stroke-width="0.16" >1.5</text>
<text x="273.8" y="622.3" font-size="8.0" text-anchor="middle" font-weight="normal" fill="#111" stroke="#111" stroke-width="0.16" >Time (ms)</text>
<rect x="41.2" y="238" width="12.2" height="30.7" fill="#fde0d6" stroke="#f2a494" stroke-width="0.7" />
<rect x="41.2" y="268.7" width="12.2" height="4.7" fill="#e3f6ee" stroke="#b8e6d4" stroke-width="0.7" />
<rect x="53.4" y="238" width="12.3" height="35.4" fill="#e6e6f7" stroke="#b8bce6" stroke-width="0.7" />
<text x="47.3" y="256.15" font-size="8.0" text-anchor="middle" font-weight="normal" fill="#111" stroke="#111" stroke-width="0.16" >88</text>
<text x="47.3" y="273.85" font-size="8.0" text-anchor="middle" font-weight="normal" fill="#111" stroke="#111" stroke-width="0.16" >16</text>
<text x="59.55" y="258.5" font-size="8.0" text-anchor="middle" font-weight="normal" fill="#111" stroke="#111" stroke-width="0.16" >105</text>
<rect x="41.2" y="367.9" width="12.2" height="12.8" fill="#fde0d6" stroke="#f2a494" stroke-width="0.7" />
<rect x="41.2" y="380.7" width="12.2" height="21.9" fill="#e3f6ee" stroke="#b8e6d4" stroke-width="0.7" />
<rect x="53.4" y="367.9" width="12.3" height="34.7" fill="#e6e6f7" stroke="#b8bce6" stroke-width="0.7" />
<text x="47.3" y="377.1" font-size="8.0" text-anchor="middle" font-weight="normal" fill="#111" stroke="#111" stroke-width="0.16" >77</text>
<text x="47.3" y="394.45" font-size="8.0" text-anchor="middle" font-weight="normal" fill="#111" stroke="#111" stroke-width="0.16" >222</text>
<text x="59.55" y="388.05" font-size="8.0" text-anchor="middle" font-weight="normal" fill="#111" stroke="#111" stroke-width="0.16" >77</text>
<rect x="40.9" y="497.6" width="12.4" height="10" fill="#fde0d6" stroke="#f2a494" stroke-width="0.7" />
<rect x="40.9" y="507.6" width="12.4" height="24.9" fill="#e3f6ee" stroke="#b8e6d4" stroke-width="0.7" />
<rect x="53.3" y="497.6" width="12.4" height="34.9" fill="#e6e6f7" stroke="#b8bce6" stroke-width="0.7" />
<text x="47.1" y="505.4" font-size="8.0" text-anchor="middle" font-weight="normal" fill="#111" stroke="#111" stroke-width="0.16" >44</text>
<text x="47.1" y="522.85" font-size="8.0" text-anchor="middle" font-weight="normal" fill="#111" stroke="#111" stroke-width="0.16" >118</text>
<text x="59.5" y="517.85" font-size="8.0" text-anchor="middle" font-weight="normal" fill="#111" stroke="#111" stroke-width="0.16" >44</text>
<rect x="207.2" y="239.1" width="13" height="27.2" fill="#fde0d6" stroke="#f2a494" stroke-width="0.7" />
<rect x="207.2" y="266.3" width="13" height="6.9" fill="#e3f6ee" stroke="#b8e6d4" stroke-width="0.7" />
<text x="213.7" y="255.5" font-size="8.0" text-anchor="middle" font-weight="normal" fill="#111" stroke="#111" stroke-width="0.16" >60</text>
<text x="213.7" y="272.55" font-size="8.0" text-anchor="middle" font-weight="normal" fill="#111" stroke="#111" stroke-width="0.16" >20</text>
<rect x="207.2" y="367.5" width="13" height="23" fill="#fde0d6" stroke="#f2a494" stroke-width="0.7" />
<rect x="207.2" y="390.5" width="13" height="11.7" fill="#e3f6ee" stroke="#b8e6d4" stroke-width="0.7" />
<text x="213.7" y="381.8" font-size="8.0" text-anchor="middle" font-weight="normal" fill="#111" stroke="#111" stroke-width="0.16" >55</text>
<text x="213.7" y="399.15" font-size="8.0" text-anchor="middle" font-weight="normal" fill="#111" stroke="#111" stroke-width="0.16" >25</text>
<rect x="207.2" y="498.3" width="13" height="13.1" fill="#fde0d6" stroke="#f2a494" stroke-width="0.7" />
<rect x="207.2" y="511.4" width="13" height="22.1" fill="#e3f6ee" stroke="#b8e6d4" stroke-width="0.7" />
<text x="213.7" y="507.65" font-size="8.0" text-anchor="middle" font-weight="normal" fill="#111" stroke="#111" stroke-width="0.16" >20</text>
<text x="213.7" y="525.25" font-size="8.0" text-anchor="middle" font-weight="normal" fill="#111" stroke="#111" stroke-width="0.16" >40</text>
<text x="135" y="525" font-size="8.0" text-anchor="middle" font-weight="normal" fill="#111" stroke="#111" stroke-width="0.16" >**</text>
<text x="326.5" y="387" font-size="8.0" text-anchor="middle" font-weight="normal" fill="#111" stroke="#111" stroke-width="0.16" >**</text>
<text x="132.5" y="390.8" font-size="8.0" text-anchor="middle" font-weight="normal" fill="#111" stroke="#111" stroke-width="0.16" >**</text>
<text x="345" y="225" font-size="16" text-anchor="start" font-weight="normal" fill="#111" stroke="#111" stroke-width="0.16" >C</text>
<text x="371.2" y="230.7" font-size="8.0" text-anchor="start" font-weight="bold" fill="#111" stroke="#111" stroke-width="0.1" >Array 2: Non-scrambled</text>
<text x="536.5" y="230.5" font-size="8.0" text-anchor="start" font-weight="bold" fill="#111" stroke="#111" stroke-width="0.1" >Array 4: Body</text>
<text x="0" y="0" font-size="8.0" text-anchor="middle" fill="#111" stroke="#111" stroke-width="0.16" transform="translate(354.4 290.85) rotate(-90)">Classifier performance (AUC)</text>
<text x="0" y="0" font-size="8.0" text-anchor="middle" fill="#111" stroke="#111" stroke-width="0.16" transform="translate(354.4 419.45) rotate(-90)">Classifier performance (AUC)</text>
<text x="0" y="0" font-size="8.0" text-anchor="middle" fill="#111" stroke="#111" stroke-width="0.16" transform="translate(354.4 549.05) rotate(-90)">Classifier performance (AUC)</text>
<g clip-path="url(#c371_235)">
<path d="M371.0 320.2L371.7 321.6L372.6 323.8L373.7 325.2L375.2 324.3L377.0 319.5L379.2 311.9L381.4 304.6L383.5 300.3L385.4 300.9L387.1 304.3L388.9 308.4L390.8 310.8L393.1 310.2L395.5 308.1L397.9 306.3L400.2 306.6L402.4 311.0L404.5 317.9L406.6 324.2L408.6 326.4L410.5 322.5L412.2 314.5L414.0 305.7L415.9 299.3L418.0 295.7L420.2 293.4L422.3 292.4L424.2 292.6L425.7 294.5L427.0 297.9L428.2 301.9L429.5 305.5L431.0 308.9L432.6 312.2L434.2 315.4L435.7 318.1L437.1 321.0L438.4 324.1L439.7 325.8L440.9 324.3L442.3 318.1L443.6 308.4L444.9 298.0L446.2 289.8L447.2 284.6L448.2 280.7L449.2 277.7L450.3 275.2L451.6 273.3L452.9 272.1L454.2 271.2L455.6 270.0L456.8 268.5L458.0 267.0L459.3 265.1L460.8 262.7L462.4 258.7L464.2 253.7L466.1 249.3L468.1 247.0L470.1 248.3L472.3 251.9L474.4 255.7L476.4 257.5L478.3 256.0L480.1 252.7L481.9 249.3L483.7 247.7L485.6 248.3L487.5 250.2L489.3 253.1L491.0 256.4L492.7 260.6L494.3 265.6L495.8 270.7L497.3 275.2L498.7 278.7L500.0 281.8L501.2 284.6L502.5 287.7L503.8 291.8L505.0 296.5L506.3 300.3L507.7 301.9L509.6 300.0L511.7 295.7L513.7 291.0L515.1 287.7L515.1 305.3L513.7 308.6L511.7 313.3L509.6 317.7L507.7 319.5L506.3 317.9L505.0 314.1L503.8 309.4L502.5 305.3L501.2 302.2L500.0 299.4L498.7 296.3L497.3 292.8L495.8 288.3L494.3 283.2L492.7 278.2L491.0 274.0L489.3 270.7L487.5 267.9L485.6 265.9L483.7 265.3L481.9 266.9L480.1 270.3L478.3 273.6L476.4 275.1L474.4 273.3L472.3 269.5L470.1 265.9L468.1 264.6L466.1 266.9L464.2 271.3L462.4 276.3L460.8 280.3L459.3 282.8L458.0 284.6L456.8 286.1L455.6 287.6L454.2 288.8L452.9 289.7L451.6 290.9L450.3 292.8L449.2 295.3L448.2 298.2L447.2 302.0L446.2 307.4L444.9 316.0L443.6 327.0L442.3 337.3L440.9 343.9L439.7 345.5L438.4 343.8L437.1 340.6L435.7 337.6L434.2 335.0L432.6 331.8L431.0 328.4L429.5 325.1L428.2 321.4L427.0 317.4L425.7 314.0L424.2 312.2L422.3 312.0L420.2 313.0L418.0 315.3L415.9 318.8L414.0 325.3L412.2 334.1L410.5 342.0L408.6 346.0L406.6 343.8L404.5 337.5L402.4 330.5L400.2 326.2L397.9 325.9L395.5 327.7L393.1 329.7L390.8 330.3L388.9 327.9L387.1 323.9L385.4 320.4L383.5 319.9L381.4 324.1L379.2 331.5L377.0 339.1L375.2 343.9L373.7 344.7L372.6 343.3L371.7 341.1L371.0 339.7Z" fill="#bfe9d9" fill-opacity="0.5" stroke="none"/>
<path d="M371.0 329.9L371.7 331.4L372.6 333.5L373.7 335.0L375.2 334.1L377.0 329.3L379.2 321.7L381.4 314.3L383.5 310.1L385.4 310.6L387.1 314.1L388.9 318.2L390.8 320.5L393.1 320.0L395.5 317.9L397.9 316.1L400.2 316.4L402.4 320.7L404.5 327.7L406.6 334.0L408.6 336.2L410.5 332.2L412.2 324.3L414.0 315.5L415.9 309.1L418.0 305.5L420.2 303.2L422.3 302.2L424.2 302.4L425.7 304.3L427.0 307.7L428.2 311.7L429.5 315.3L431.0 318.6L432.6 322.0L434.2 325.2L435.7 327.9L437.1 330.8L438.4 334.0L439.7 335.6L440.9 334.1L442.3 327.7L443.6 317.7L444.9 307.0L446.2 298.6L447.2 293.3L448.2 289.4L449.2 286.5L450.3 284.0L451.6 282.1L452.9 280.9L454.2 280.0L455.6 278.8L456.8 277.3L458.0 275.8L459.3 273.9L460.8 271.5L462.4 267.5L464.2 262.5L466.1 258.1L468.1 255.8L470.1 257.1L472.3 260.7L474.4 264.5L476.4 266.3L478.3 264.8L480.1 261.5L481.9 258.1L483.7 256.5L485.6 257.1L487.5 259.1L489.3 261.9L491.0 265.2L492.7 269.4L494.3 274.4L495.8 279.5L497.3 284.0L498.7 287.5L500.0 290.6L501.2 293.4L502.5 296.5L503.8 300.6L505.0 305.3L506.3 309.1L507.7 310.7L509.6 308.8L511.7 304.5L513.7 299.8L515.1 296.5" fill="none" stroke="#52bd98" stroke-width="1.1" stroke-opacity="1.0" stroke-linejoin="round" stroke-linecap="round"/>
<path d="M371.0 310.4L372.4 311.4L374.4 312.9L376.8 314.1L379.4 314.2L382.2 312.2L385.5 308.9L388.8 305.7L391.9 304.1L394.7 305.1L397.3 307.6L399.8 310.3L402.3 312.1L404.7 312.2L407.1 311.6L409.4 310.7L411.7 310.4L414.2 310.8L416.7 311.5L419.0 312.4L421.1 313.1L422.7 313.8L423.9 314.6L425.0 315.1L426.3 315.2L427.8 314.4L429.3 312.9L430.8 311.6L432.6 311.0L434.5 311.9L436.6 313.6L438.8 315.3L440.9 316.2L443.0 316.1L445.1 315.5L447.2 314.3L449.3 312.7L451.5 310.0L453.8 306.4L456.0 303.2L458.3 301.8L460.5 303.3L462.8 306.7L464.9 310.4L467.0 312.7L469.0 313.0L470.9 312.2L472.7 311.1L474.3 310.6L475.7 310.9L476.9 311.7L478.2 312.4L479.6 312.7L481.2 312.3L483.1 311.4L485.0 310.5L486.9 310.2L488.7 310.6L490.5 311.5L492.3 312.5L494.2 313.1L496.1 313.1L498.0 312.7L500.1 312.4L502.5 312.3L505.7 312.6L509.3 313.3L512.7 313.9L515.1 314.4L515.1 323.8L512.7 323.4L509.3 322.7L505.7 322.1L502.5 321.7L500.1 321.8L498.0 322.2L496.1 322.5L494.2 322.6L492.3 322.0L490.5 321.0L488.7 320.1L486.9 319.6L485.0 320.0L483.1 320.8L481.2 321.7L479.6 322.1L478.2 321.8L476.9 321.1L475.7 320.4L474.3 320.1L472.7 320.6L470.9 321.6L469.0 322.4L467.0 322.1L464.9 319.8L462.8 316.2L460.5 312.8L458.3 311.3L456.0 312.7L453.8 316.0L451.5 319.6L449.3 322.1L447.2 323.2L445.1 323.5L443.0 323.3L440.9 322.8L438.8 321.6L436.6 319.9L434.5 318.3L432.6 317.5L430.8 318.1L429.3 319.4L427.8 320.9L426.3 321.7L425.0 321.7L423.9 321.1L422.7 320.3L421.1 319.6L419.0 318.9L416.7 318.0L414.2 317.3L411.7 316.9L409.4 317.3L407.1 318.1L404.7 318.7L402.3 318.6L399.8 316.9L397.3 314.1L394.7 311.6L391.9 310.7L388.8 312.2L385.5 315.4L382.2 318.7L379.4 320.7L376.8 320.6L374.4 319.4L372.4 317.9L371.0 316.9Z" fill="#f9c0b4" fill-opacity="0.55" stroke="none"/>
<path d="M371.0 313.7L372.4 314.7L374.4 316.2L376.8 317.4L379.4 317.4L382.2 315.5L385.5 312.1L388.8 309.0L391.9 307.4L394.7 308.3L397.3 310.8L399.8 313.6L402.3 315.3L404.7 315.5L407.1 314.8L409.4 314.0L411.7 313.7L414.2 314.0L416.7 314.8L419.0 315.6L421.1 316.4L422.7 317.1L423.9 317.8L425.0 318.4L426.3 318.5L427.8 317.6L429.3 316.2L430.8 314.8L432.6 314.3L434.5 315.1L436.6 316.8L438.8 318.5L440.9 319.5L443.0 319.7L445.1 319.5L447.2 318.7L449.3 317.4L451.5 314.8L453.8 311.2L456.0 308.0L458.3 306.6L460.5 308.1L462.8 311.4L464.9 315.1L467.0 317.4L469.0 317.7L470.9 316.9L472.7 315.9L474.3 315.3L475.7 315.7L476.9 316.4L478.2 317.1L479.6 317.4L481.2 317.0L483.1 316.1L485.0 315.3L486.9 314.9L488.7 315.3L490.5 316.3L492.3 317.2L494.2 317.8L496.1 317.8L498.0 317.5L500.1 317.1L502.5 317.0L505.7 317.4L509.3 318.0L512.7 318.6L515.1 319.1" fill="none" stroke="#ef5a4a" stroke-width="1.1" stroke-opacity="1.0" stroke-linejoin="round" stroke-linecap="round"/>
</g>
<line x1="429.8" y1="235.8" x2="429.8" y2="345.9" stroke="#3a3a3a" stroke-width="1.0" stroke-dasharray="2.7,2.6"/>
<rect x="371.5" y="235.8" width="142.1" height="110.1" fill="none" stroke="#7a7a7a" stroke-width="0.9"/>
<path d="M383.1 345.9v-2.0M383.1 235.8v2.0M406.45 345.9v-2.0M406.45 235.8v2.0M429.8 345.9v-2.0M429.8 235.8v2.0M453.15 345.9v-2.0M453.15 235.8v2.0M476.5 345.9v-2.0M476.5 235.8v2.0M499.85 345.9v-2.0M499.85 235.8v2.0" stroke="#7a7a7a" stroke-width="0.8" fill="none"/>
<text x="383.1" y="354.3" font-size="8.2" text-anchor="middle" font-weight="normal" fill="#111" stroke="#111" stroke-width="0.16" >-200</text>
<text x="406.45" y="354.3" font-size="8.2" text-anchor="middle" font-weight="normal" fill="#111" stroke="#111" stroke-width="0.16" >-100</text>
<text x="429.8" y="354.3" font-size="8.2" text-anchor="middle" font-weight="normal" fill="#111" stroke="#111" stroke-width="0.16" >0</text>
<text x="453.15" y="354.3" font-size="8.2" text-anchor="middle" font-weight="normal" fill="#111" stroke="#111" stroke-width="0.16" >100</text>
<text x="476.5" y="354.3" font-size="8.2" text-anchor="middle" font-weight="normal" fill="#111" stroke="#111" stroke-width="0.16" >200</text>
<text x="499.85" y="354.3" font-size="8.2" text-anchor="middle" font-weight="normal" fill="#111" stroke="#111" stroke-width="0.16" >300</text>
<path d="M371.5 346.3h2.0M513.6 346.3h-2.0M371.5 330h2.0M513.6 330h-2.0M371.5 313.7h2.0M513.6 313.7h-2.0M371.5 297.4h2.0M513.6 297.4h-2.0M371.5 281.1h2.0M513.6 281.1h-2.0M371.5 264.8h2.0M513.6 264.8h-2.0M371.5 248.5h2.0M513.6 248.5h-2.0" stroke="#7a7a7a" stroke-width="0.8" fill="none"/>
<text x="370.5" y="346.8" font-size="8.2" text-anchor="end" font-weight="normal" fill="#111" stroke="#111" stroke-width="0.16" >0.4</text>
<text x="370.5" y="316.5" font-size="8.2" text-anchor="end" font-weight="normal" fill="#111" stroke="#111" stroke-width="0.16" >0.5</text>
<text x="370.5" y="283.9" font-size="8.2" text-anchor="end" font-weight="normal" fill="#111" stroke="#111" stroke-width="0.16" >0.6</text>
<text x="370.5" y="251.3" font-size="8.2" text-anchor="end" font-weight="normal" fill="#111" stroke="#111" stroke-width="0.16" >0.7</text>
<text x="439" y="360.1" font-size="8.0" text-anchor="middle" font-weight="normal" fill="#111" stroke="#111" stroke-width="0.16" >Time (ms)</text>
<g clip-path="url(#c372_363)">
<path d="M371.9 449.1L373.8 449.1L376.5 449.1L379.5 449.1L382.3 449.1L384.9 449.2L387.5 449.4L390.1 449.4L392.8 449.1L395.7 448.2L398.7 446.8L401.7 445.5L404.3 444.9L406.4 445.5L408.1 446.8L409.8 448.2L411.6 449.1L413.7 449.3L415.9 449.2L418.0 448.8L419.9 448.1L421.5 446.9L422.8 445.2L423.9 443.6L424.9 442.3L425.6 441.5L426.0 441.0L426.4 440.8L427.0 440.9L427.8 441.5L428.6 442.5L429.5 443.7L430.5 444.7L431.5 445.8L432.6 447.0L433.8 448.0L434.9 448.4L436.2 448.2L437.5 447.6L438.8 446.5L440.1 444.7L441.4 442.0L442.7 438.6L443.9 434.8L445.2 431.2L446.5 428.1L447.7 425.0L448.9 421.9L450.1 418.7L451.3 415.3L452.6 411.8L453.8 408.3L455.0 404.9L456.3 401.5L457.6 398.1L458.9 394.9L460.2 392.3L461.4 390.3L462.7 388.9L464.0 387.7L465.3 386.7L466.7 385.7L468.2 384.9L469.6 384.3L470.9 384.1L472.0 384.1L473.0 384.4L474.0 385.0L475.1 386.0L476.3 387.5L477.7 389.5L479.0 391.5L480.2 393.0L481.2 394.2L482.1 395.1L482.9 395.5L484.0 394.9L485.3 393.1L486.7 390.2L488.2 386.9L489.9 383.8L491.6 380.7L493.5 377.4L495.4 374.5L497.2 372.9L498.8 372.8L500.4 373.6L501.9 375.3L503.4 377.5L505.0 380.3L506.6 383.7L508.1 387.7L509.7 392.1L511.4 397.6L513.2 404.0L514.8 409.9L516.0 414.1L516.0 424.6L514.8 420.5L513.2 414.5L511.4 408.1L509.7 402.7L508.1 398.3L506.6 394.3L505.0 390.8L503.4 388.0L501.9 385.8L500.4 384.2L498.8 383.3L497.2 383.5L495.4 385.1L493.5 387.9L491.6 391.2L489.9 394.3L488.2 397.4L486.7 400.7L485.3 403.6L484.0 405.5L482.9 406.0L482.1 405.6L481.2 404.7L480.2 403.5L479.0 402.0L477.7 400.0L476.3 398.0L475.1 396.5L474.0 395.6L473.0 394.9L472.0 394.6L470.9 394.6L469.6 394.9L468.2 395.4L466.7 396.3L465.3 397.2L464.0 398.3L462.7 399.4L461.4 400.9L460.2 402.8L458.9 405.4L457.6 408.6L456.3 412.0L455.0 415.4L453.8 418.8L452.6 422.3L451.3 425.8L450.1 429.2L448.9 432.5L447.7 435.7L446.5 438.8L445.2 441.8L443.9 444.7L442.7 447.4L441.4 450.0L440.1 452.0L438.8 453.5L437.5 454.7L436.2 455.4L434.9 455.6L433.8 455.2L432.6 454.3L431.5 453.1L430.5 452.0L429.5 450.9L428.6 449.7L427.8 448.7L427.0 448.1L426.4 448.0L426.0 448.3L425.6 448.8L424.9 449.6L423.9 450.8L422.8 452.5L421.5 454.1L419.9 455.3L418.0 456.0L415.9 456.5L413.7 456.6L411.6 456.4L409.8 455.5L408.1 454.1L406.4 452.8L404.3 452.2L401.7 452.7L398.7 454.0L395.7 455.4L392.8 456.4L390.1 456.7L387.5 456.6L384.9 456.5L382.3 456.4L379.5 456.4L376.5 456.4L373.8 456.4L371.9 456.4Z" fill="#bfe9d9" fill-opacity="0.5" stroke="none"/>
<path d="M371.9 452.7L373.8 452.7L376.5 452.7L379.5 452.7L382.3 452.7L384.9 452.8L387.5 453.0L390.1 453.0L392.8 452.7L395.7 451.8L398.7 450.4L401.7 449.1L404.3 448.6L406.4 449.1L408.1 450.4L409.8 451.9L411.6 452.7L413.7 452.9L415.9 452.8L418.0 452.4L419.9 451.7L421.5 450.5L422.8 448.8L423.9 447.2L424.9 445.9L425.6 445.2L426.0 444.6L426.4 444.4L427.0 444.5L427.8 445.1L428.6 446.1L429.5 447.3L430.5 448.4L431.5 449.5L432.6 450.7L433.8 451.6L434.9 452.0L436.2 451.8L437.5 451.2L438.8 450.0L440.1 448.4L441.4 446.0L442.7 443.0L443.9 439.7L445.2 436.5L446.5 433.4L447.7 430.3L448.9 427.2L450.1 423.9L451.3 420.5L452.6 417.0L453.8 413.5L455.0 410.1L456.3 406.7L457.6 403.3L458.9 400.2L460.2 397.6L461.4 395.6L462.7 394.1L464.0 393.0L465.3 392.0L466.7 391.0L468.2 390.2L469.6 389.6L470.9 389.3L472.0 389.4L473.0 389.7L474.0 390.3L475.1 391.3L476.3 392.8L477.7 394.8L479.0 396.8L480.2 398.3L481.2 399.4L482.1 400.4L482.9 400.8L484.0 400.2L485.3 398.3L486.7 395.4L488.2 392.1L489.9 389.0L491.6 385.9L493.5 382.6L495.4 379.8L497.2 378.2L498.8 378.0L500.4 378.9L501.9 380.6L503.4 382.8L505.0 385.6L506.6 389.0L508.1 393.0L509.7 397.4L511.4 402.9L513.2 409.3L514.8 415.2L516.0 419.3" fill="none" stroke="#52bd98" stroke-width="1.1" stroke-opacity="1.0" stroke-linejoin="round" stroke-linecap="round"/>
<path d="M371.9 449.7L373.6 447.5L376.1 444.4L378.8 441.4L381.3 439.8L383.5 440.3L385.6 442.1L387.7 444.1L389.6 445.5L391.5 445.8L393.4 445.6L395.1 445.3L397.0 445.5L398.8 446.6L400.6 448.2L402.4 449.5L404.3 449.7L406.1 447.8L408.0 444.7L409.9 441.6L411.6 439.8L413.0 440.3L414.2 441.9L415.5 443.9L416.8 445.1L418.4 445.1L420.1 444.5L421.8 443.8L423.0 443.4L423.7 443.3L424.0 443.4L424.3 443.7L424.9 444.3L425.9 445.3L427.2 446.8L428.6 448.4L430.0 449.8L431.4 451.4L432.9 453.1L434.3 454.4L435.6 454.9L436.8 454.4L438.0 453.1L439.0 451.1L440.1 448.6L441.1 445.3L442.0 441.2L442.9 436.7L443.8 432.4L444.7 428.0L445.5 423.5L446.3 419.2L447.1 415.5L447.8 412.6L448.5 410.3L449.3 408.3L450.1 406.6L451.1 405.2L452.3 404.3L453.5 403.4L454.6 402.2L455.5 400.6L456.5 398.7L457.4 396.8L458.3 395.2L459.2 393.7L460.1 392.3L461.0 391.2L462.0 390.9L463.1 391.4L464.2 392.7L465.3 394.3L466.5 395.9L467.6 397.5L468.9 399.3L470.1 401.1L471.4 403.0L472.7 404.9L474.0 406.9L475.3 408.8L476.5 410.5L477.5 411.8L478.5 412.8L479.3 413.7L480.2 414.3L481.1 414.7L482.0 414.8L483.0 414.8L484.0 414.8L485.0 414.7L486.1 414.5L487.3 414.4L488.8 414.4L490.7 414.7L492.9 415.2L495.1 415.8L497.2 416.5L498.9 417.2L500.4 418.0L501.9 418.8L503.4 419.6L505.0 420.3L506.6 420.8L508.1 421.5L509.7 422.8L511.4 424.9L513.2 427.6L514.8 430.3L516.0 432.1L516.0 444.1L514.8 442.2L513.2 439.6L511.4 436.8L509.7 434.7L508.1 433.5L506.6 432.7L505.0 432.2L503.4 431.6L501.9 430.7L500.4 429.9L498.9 429.1L497.2 428.4L495.1 427.8L492.9 427.2L490.7 426.7L488.8 426.3L487.3 426.3L486.1 426.4L485.0 426.6L484.0 426.7L483.0 426.8L482.0 426.8L481.1 426.6L480.2 426.3L479.3 425.6L478.5 424.8L477.5 423.7L476.5 422.4L475.3 420.8L474.0 418.8L472.7 416.8L471.4 414.9L470.1 413.1L468.9 411.2L467.6 409.5L466.5 407.9L465.3 406.2L464.2 404.6L463.1 403.4L462.0 402.8L461.0 403.2L460.1 404.2L459.2 405.6L458.3 407.1L457.4 408.8L456.5 410.7L455.5 412.5L454.6 414.2L453.5 415.3L452.3 416.2L451.1 417.2L450.1 418.5L449.3 420.3L448.5 422.4L447.8 424.8L447.1 427.5L446.3 430.4L445.5 433.6L444.7 437.0L443.8 440.6L442.9 444.7L442.0 449.2L441.1 453.4L440.1 456.8L439.0 459.4L438.0 461.3L436.8 462.6L435.6 463.1L434.3 462.7L432.9 461.3L431.4 459.6L430.0 458.1L428.6 456.6L427.2 455.0L425.9 453.6L424.9 452.5L424.3 451.9L424.0 451.6L423.7 451.6L423.0 451.6L421.8 452.0L420.1 452.7L418.4 453.3L416.8 453.3L415.5 452.1L414.2 450.2L413.0 448.5L411.6 448.1L409.9 449.8L408.0 452.9L406.1 456.1L404.3 457.9L402.4 457.7L400.6 456.4L398.8 454.8L397.0 453.7L395.1 453.6L393.4 453.8L391.5 454.0L389.6 453.7L387.7 452.3L385.6 450.3L383.5 448.5L381.3 448.1L378.8 449.7L376.1 452.6L373.6 455.8L371.9 457.9Z" fill="#f9c0b4" fill-opacity="0.55" stroke="none"/>
<path d="M371.9 453.8L373.6 451.6L376.1 448.5L378.8 445.6L381.3 444.0L383.5 444.4L385.6 446.2L387.7 448.2L389.6 449.6L391.5 449.9L393.4 449.7L395.1 449.4L397.0 449.6L398.8 450.7L400.6 452.3L402.4 453.6L404.3 453.8L406.1 452.0L408.0 448.8L409.9 445.7L411.6 444.0L413.0 444.4L414.2 446.1L415.5 448.0L416.8 449.2L418.4 449.2L420.1 448.6L421.8 447.9L423.0 447.5L423.7 447.4L424.0 447.5L424.3 447.8L424.9 448.4L425.9 449.4L427.2 450.9L428.6 452.5L430.0 453.9L431.4 455.5L432.9 457.2L434.3 458.6L435.6 459.0L436.8 458.5L438.0 457.2L439.0 455.3L440.1 452.7L441.1 449.3L442.0 445.2L442.9 440.7L443.8 436.5L444.7 432.5L445.5 428.6L446.3 424.8L447.1 421.5L447.8 418.7L448.5 416.4L449.3 414.3L450.1 412.6L451.1 411.2L452.3 410.3L453.5 409.4L454.6 408.2L455.5 406.6L456.5 404.7L457.4 402.8L458.3 401.2L459.2 399.7L460.1 398.2L461.0 397.2L462.0 396.8L463.1 397.4L464.2 398.7L465.3 400.3L466.5 401.9L467.6 403.5L468.9 405.3L470.1 407.1L471.4 408.9L472.7 410.9L474.0 412.9L475.3 414.8L476.5 416.4L477.5 417.7L478.5 418.8L479.3 419.7L480.2 420.3L481.1 420.7L482.0 420.8L483.0 420.8L484.0 420.8L485.0 420.7L486.1 420.5L487.3 420.3L488.8 420.4L490.7 420.7L492.9 421.2L495.1 421.8L497.2 422.5L498.9 423.2L500.4 424.0L501.9 424.8L503.4 425.6L505.0 426.2L506.6 426.8L508.1 427.5L509.7 428.7L511.4 430.8L513.2 433.6L514.8 436.3L516.0 438.1" fill="none" stroke="#ef5a4a" stroke-width="1.1" stroke-opacity="1.0" stroke-linejoin="round" stroke-linecap="round"/>
</g>
<line x1="430.5" y1="363.9" x2="430.5" y2="475" stroke="#3a3a3a" stroke-width="1.0" stroke-dasharray="2.7,2.6"/>
<rect x="372.6" y="363.9" width="141.3" height="111.1" fill="none" stroke="#7a7a7a" stroke-width="0.9"/>
<path d="M383.8 475v-2.0M383.8 363.9v2.0M407.15 475v-2.0M407.15 363.9v2.0M430.5 475v-2.0M430.5 363.9v2.0M453.85 475v-2.0M453.85 363.9v2.0M477.2 475v-2.0M477.2 363.9v2.0M500.55 475v-2.0M500.55 363.9v2.0" stroke="#7a7a7a" stroke-width="0.8" fill="none"/>
<text x="383.8" y="483.4" font-size="8.2" text-anchor="middle" font-weight="normal" fill="#111" stroke="#111" stroke-width="0.16" >-200</text>
<text x="407.15" y="483.4" font-size="8.2" text-anchor="middle" font-weight="normal" fill="#111" stroke="#111" stroke-width="0.16" >-100</text>
<text x="430.5" y="483.4" font-size="8.2" text-anchor="middle" font-weight="normal" fill="#111" stroke="#111" stroke-width="0.16" >0</text>
<text x="453.85" y="483.4" font-size="8.2" text-anchor="middle" font-weight="normal" fill="#111" stroke="#111" stroke-width="0.16" >100</text>
<text x="477.2" y="483.4" font-size="8.2" text-anchor="middle" font-weight="normal" fill="#111" stroke="#111" stroke-width="0.16" >200</text>
<text x="500.55" y="483.4" font-size="8.2" text-anchor="middle" font-weight="normal" fill="#111" stroke="#111" stroke-width="0.16" >300</text>
<path d="M372.6 476.2h2.0M513.9 476.2h-2.0M372.6 464.1h2.0M513.9 464.1h-2.0M372.6 452h2.0M513.9 452h-2.0M372.6 439.9h2.0M513.9 439.9h-2.0M372.6 427.8h2.0M513.9 427.8h-2.0M372.6 415.7h2.0M513.9 415.7h-2.0M372.6 403.6h2.0M513.9 403.6h-2.0M372.6 391.5h2.0M513.9 391.5h-2.0M372.6 379.4h2.0M513.9 379.4h-2.0M372.6 367.3h2.0M513.9 367.3h-2.0" stroke="#7a7a7a" stroke-width="0.8" fill="none"/>
<text x="371.6" y="475.9" font-size="8.2" text-anchor="end" font-weight="normal" fill="#111" stroke="#111" stroke-width="0.16" >0.4</text>
<text x="371.6" y="454.8" font-size="8.2" text-anchor="end" font-weight="normal" fill="#111" stroke="#111" stroke-width="0.16" >0.5</text>
<text x="371.6" y="430.6" font-size="8.2" text-anchor="end" font-weight="normal" fill="#111" stroke="#111" stroke-width="0.16" >0.6</text>
<text x="371.6" y="406.4" font-size="8.2" text-anchor="end" font-weight="normal" fill="#111" stroke="#111" stroke-width="0.16" >0.7</text>
<text x="371.6" y="382.2" font-size="8.2" text-anchor="end" font-weight="normal" fill="#111" stroke="#111" stroke-width="0.16" >0.8</text>
<text x="439.7" y="489.2" font-size="8.0" text-anchor="middle" font-weight="normal" fill="#111" stroke="#111" stroke-width="0.16" >Time (ms)</text>
<g clip-path="url(#c372_493)">
<path d="M372.0 580.0L373.1 579.3L374.5 578.3L376.3 577.5L378.3 577.5L380.4 579.1L382.8 581.9L385.2 584.3L387.7 585.2L390.0 583.7L392.4 580.6L394.8 577.2L397.1 574.8L399.2 573.6L401.3 573.0L403.3 573.1L405.4 573.8L407.5 575.5L409.6 578.1L411.7 580.8L413.8 583.1L415.7 585.0L417.5 586.7L419.3 588.0L421.1 588.4L422.7 587.8L424.3 586.3L425.9 584.4L427.3 582.1L428.7 579.0L429.9 575.1L431.2 571.5L432.5 569.6L434.0 570.2L435.6 572.5L437.2 574.9L438.8 575.8L440.3 574.9L441.9 573.0L443.4 570.1L445.1 566.3L446.8 560.9L448.7 554.2L450.6 547.3L452.4 541.2L454.0 536.1L455.5 531.4L457.0 527.1L458.6 523.5L460.4 520.4L462.2 517.8L464.0 515.8L465.9 514.1L468.0 512.7L470.1 511.7L472.3 511.1L474.3 510.9L476.2 511.2L477.9 512.0L479.7 513.2L481.6 515.1L483.6 518.4L485.8 522.7L487.9 526.6L490.0 528.7L491.9 528.3L493.7 526.3L495.5 523.4L497.3 520.3L499.1 516.8L501.0 512.6L502.8 508.6L504.6 505.7L506.2 504.2L507.8 503.6L509.4 503.6L510.8 503.6L512.3 503.9L513.8 504.5L515.1 505.2L516.1 505.7L516.1 513.7L515.1 513.2L513.8 512.5L512.3 511.9L510.8 511.6L509.4 511.5L507.8 511.6L506.2 512.2L504.6 513.7L502.8 516.6L501.0 520.6L499.1 524.8L497.3 528.3L495.5 531.3L493.7 534.2L491.9 536.2L490.0 536.6L487.9 534.6L485.8 530.6L483.6 526.3L481.6 523.1L479.7 521.2L477.9 519.9L476.2 519.2L474.3 518.9L472.3 519.0L470.1 519.6L468.0 520.6L465.9 522.0L464.0 523.7L462.2 525.8L460.4 528.3L458.6 531.4L457.0 535.1L455.5 539.3L454.0 544.0L452.4 549.2L450.6 555.3L448.7 562.4L446.8 569.1L445.1 574.2L443.4 577.6L441.9 579.7L440.3 580.9L438.8 581.3L437.2 580.3L435.6 577.9L434.0 575.6L432.5 575.1L431.2 577.0L429.9 580.6L428.7 584.5L427.3 587.6L425.9 589.9L424.3 591.8L422.7 593.3L421.1 593.9L419.3 593.5L417.5 592.2L415.7 590.5L413.8 588.6L411.7 586.3L409.6 583.6L407.5 581.0L405.4 579.2L403.3 578.6L401.3 578.5L399.2 579.1L397.1 580.3L394.8 582.7L392.4 586.1L390.0 589.2L387.7 590.7L385.2 589.8L382.8 587.4L380.4 584.6L378.3 583.0L376.3 583.0L374.5 583.8L373.1 584.8L372.0 585.5Z" fill="#bfe9d9" fill-opacity="0.5" stroke="none"/>
<path d="M372.0 582.8L373.1 582.1L374.5 581.0L376.3 580.2L378.3 580.3L380.4 581.9L382.8 584.6L385.2 587.1L387.7 588.0L390.0 586.4L392.4 583.3L394.8 579.9L397.1 577.5L399.2 576.4L401.3 575.8L403.3 575.8L405.4 576.5L407.5 578.2L409.6 580.8L411.7 583.6L413.8 585.9L415.7 587.8L417.5 589.5L419.3 590.7L421.1 591.1L422.7 590.5L424.3 589.1L425.9 587.1L427.3 584.9L428.7 581.7L429.9 577.8L431.2 574.3L432.5 572.3L434.0 572.9L435.6 575.2L437.2 577.6L438.8 578.6L440.3 577.9L441.9 576.4L443.4 573.8L445.1 570.2L446.8 565.0L448.7 558.3L450.6 551.3L452.4 545.2L454.0 540.0L455.5 535.3L457.0 531.1L458.6 527.4L460.4 524.4L462.2 521.8L464.0 519.8L465.9 518.1L468.0 516.7L470.1 515.6L472.3 515.0L474.3 514.9L476.2 515.2L477.9 516.0L479.7 517.2L481.6 519.1L483.6 522.3L485.8 526.7L487.9 530.6L490.0 532.7L491.9 532.3L493.7 530.2L495.5 527.4L497.3 524.3L499.1 520.8L501.0 516.6L502.8 512.6L504.6 509.7L506.2 508.2L507.8 507.6L509.4 507.5L510.8 507.6L512.3 507.9L513.8 508.5L515.1 509.2L516.1 509.7" fill="none" stroke="#52bd98" stroke-width="1.1" stroke-opacity="1.0" stroke-linejoin="round" stroke-linecap="round"/>
<path d="M372.0 569.2L373.1 568.8L374.7 568.2L376.6 567.8L378.3 568.2L379.8 569.6L381.3 571.7L382.8 574.1L384.5 576.6L386.5 579.3L388.6 582.5L390.7 585.2L392.9 586.6L395.0 585.9L397.2 583.7L399.4 581.2L401.2 579.7L402.8 579.7L404.0 580.5L405.2 581.2L406.4 580.7L407.8 578.4L409.1 574.9L410.4 571.5L411.7 569.2L412.9 569.2L414.2 570.5L415.5 571.7L416.9 571.3L418.4 568.2L420.1 563.3L421.7 558.8L423.1 556.7L424.3 558.1L425.4 561.6L426.3 566.1L427.3 570.3L428.3 574.4L429.2 579.0L430.2 583.1L431.5 585.9L433.1 586.8L435.0 586.3L437.0 585.5L438.8 585.3L440.5 586.7L442.1 588.8L443.7 590.4L445.1 590.4L446.2 587.9L447.2 584.0L448.2 579.2L449.2 574.7L450.4 570.1L451.5 565.1L452.8 560.5L454.5 557.0L456.5 555.3L458.9 554.9L461.4 554.5L463.9 552.8L466.3 548.7L468.8 543.2L471.1 538.0L473.3 534.6L475.0 534.1L476.6 535.4L478.0 537.2L479.5 538.2L481.1 537.6L482.6 536.2L484.2 535.3L485.8 536.1L487.3 539.5L488.8 544.7L490.4 550.0L492.0 553.8L493.8 555.7L495.7 556.6L497.6 556.6L499.3 555.9L501.0 554.3L502.6 551.7L504.1 548.6L505.6 545.5L507.0 541.9L508.3 537.9L509.6 534.3L510.8 531.9L512.3 531.4L513.8 532.1L515.1 533.3L516.1 534.0L516.1 545.9L515.1 545.2L513.8 544.1L512.3 543.3L510.8 543.9L509.6 546.2L508.3 549.9L507.0 553.9L505.6 557.4L504.1 560.6L502.6 563.6L501.0 566.2L499.3 567.9L497.6 568.6L495.7 568.6L493.8 567.7L492.0 565.8L490.4 562.0L488.8 556.6L487.3 551.4L485.8 548.0L484.2 547.3L482.6 548.2L481.1 549.5L479.5 550.1L478.0 549.1L476.6 547.3L475.0 546.1L473.3 546.6L471.1 549.9L468.8 555.2L466.3 560.7L463.9 564.7L461.4 566.4L458.9 566.8L456.5 567.2L454.5 568.9L452.8 572.4L451.5 577.1L450.4 582.0L449.2 586.7L448.2 591.3L447.2 596.1L446.2 600.2L445.1 602.3L443.7 601.6L442.1 598.9L440.5 595.7L438.8 593.6L437.0 593.4L435.0 594.3L433.1 595.0L431.5 594.2L430.2 591.4L429.2 587.3L428.3 582.7L427.3 578.5L426.3 574.3L425.4 569.9L424.3 566.3L423.1 565.0L421.7 567.0L420.1 571.6L418.4 576.4L416.9 579.6L415.5 579.9L414.2 578.7L412.9 577.5L411.7 577.5L410.4 579.7L409.1 583.2L407.8 586.7L406.4 589.0L405.2 589.4L404.0 588.7L402.8 587.9L401.2 587.9L399.4 589.5L397.2 591.9L395.0 594.1L392.9 594.8L390.7 593.5L388.6 590.8L386.5 587.6L384.5 584.8L382.8 582.4L381.3 579.9L379.8 577.8L378.3 576.4L376.6 576.1L374.7 576.4L373.1 577.1L372.0 577.5Z" fill="#f9c0b4" fill-opacity="0.55" stroke="none"/>
<path d="M372.0 573.4L373.1 573.0L374.7 572.3L376.6 572.0L378.3 572.3L379.8 573.7L381.3 575.8L382.8 578.3L384.5 580.7L386.5 583.5L388.6 586.6L390.7 589.3L392.9 590.7L395.0 590.0L397.2 587.8L399.4 585.4L401.2 583.8L402.8 583.8L404.0 584.6L405.2 585.3L406.4 584.9L407.8 582.5L409.1 579.0L410.4 575.6L411.7 573.4L412.9 573.3L414.2 574.6L415.5 575.8L416.9 575.5L418.4 572.3L420.1 567.4L421.7 562.9L423.1 560.8L424.3 562.2L425.4 565.7L426.3 570.2L427.3 574.4L428.3 578.6L429.2 583.1L430.2 587.3L431.5 590.1L433.1 590.9L435.0 590.3L437.0 589.5L438.8 589.4L440.5 591.2L442.1 593.8L443.7 596.0L445.1 596.3L446.2 594.1L447.2 590.0L448.2 585.3L449.2 580.7L450.4 576.1L451.5 571.1L452.8 566.5L454.5 562.9L456.5 561.3L458.9 560.9L461.4 560.5L463.9 558.8L466.3 554.7L468.8 549.2L471.1 543.9L473.3 540.6L475.0 540.1L476.6 541.4L478.0 543.1L479.5 544.1L481.1 543.6L482.6 542.2L484.2 541.3L485.8 542.1L487.3 545.5L488.8 550.7L490.4 556.0L492.0 559.8L493.8 561.7L495.7 562.6L497.6 562.6L499.3 561.9L501.0 560.2L502.6 557.6L504.1 554.6L505.6 551.5L507.0 547.9L508.3 543.9L509.6 540.2L510.8 537.9L512.3 537.4L513.8 538.1L515.1 539.2L516.1 540.0" fill="none" stroke="#ef5a4a" stroke-width="1.1" stroke-opacity="1.0" stroke-linejoin="round" stroke-linecap="round"/>
</g>
<line x1="430.4" y1="493.3" x2="430.4" y2="604.8" stroke="#3a3a3a" stroke-width="1.0" stroke-dasharray="2.7,2.6"/>
<rect x="372.6" y="493.3" width="141.3" height="111.5" fill="none" stroke="#7a7a7a" stroke-width="0.9"/>
<path d="M383.7 604.8v-2.0M383.7 493.3v2.0M407.05 604.8v-2.0M407.05 493.3v2.0M430.4 604.8v-2.0M430.4 493.3v2.0M453.75 604.8v-2.0M453.75 493.3v2.0M477.1 604.8v-2.0M477.1 493.3v2.0M500.45 604.8v-2.0M500.45 493.3v2.0" stroke="#7a7a7a" stroke-width="0.8" fill="none"/>
<text x="383.7" y="613.2" font-size="8.2" text-anchor="middle" font-weight="normal" fill="#111" stroke="#111" stroke-width="0.16" >-200</text>
<text x="407.05" y="613.2" font-size="8.2" text-anchor="middle" font-weight="normal" fill="#111" stroke="#111" stroke-width="0.16" >-100</text>
<text x="430.4" y="613.2" font-size="8.2" text-anchor="middle" font-weight="normal" fill="#111" stroke="#111" stroke-width="0.16" >0</text>
<text x="453.75" y="613.2" font-size="8.2" text-anchor="middle" font-weight="normal" fill="#111" stroke="#111" stroke-width="0.16" >100</text>
<text x="477.1" y="613.2" font-size="8.2" text-anchor="middle" font-weight="normal" fill="#111" stroke="#111" stroke-width="0.16" >200</text>
<text x="500.45" y="613.2" font-size="8.2" text-anchor="middle" font-weight="normal" fill="#111" stroke="#111" stroke-width="0.16" >300</text>
<path d="M372.6 605.1h2.0M513.9 605.1h-2.0M372.6 593.65h2.0M513.9 593.65h-2.0M372.6 582.2h2.0M513.9 582.2h-2.0M372.6 570.75h2.0M513.9 570.75h-2.0M372.6 559.3h2.0M513.9 559.3h-2.0M372.6 547.85h2.0M513.9 547.85h-2.0M372.6 536.4h2.0M513.9 536.4h-2.0M372.6 524.95h2.0M513.9 524.95h-2.0M372.6 513.5h2.0M513.9 513.5h-2.0M372.6 502.05h2.0M513.9 502.05h-2.0" stroke="#7a7a7a" stroke-width="0.8" fill="none"/>
<text x="371.6" y="605.7" font-size="8.2" text-anchor="end" font-weight="normal" fill="#111" stroke="#111" stroke-width="0.16" >0.4</text>
<text x="371.6" y="585" font-size="8.2" text-anchor="end" font-weight="normal" fill="#111" stroke="#111" stroke-width="0.16" >0.5</text>
<text x="371.6" y="562.1" font-size="8.2" text-anchor="end" font-weight="normal" fill="#111" stroke="#111" stroke-width="0.16" >0.6</text>
<text x="371.6" y="539.2" font-size="8.2" text-anchor="end" font-weight="normal" fill="#111" stroke="#111" stroke-width="0.16" >0.7</text>
<text x="371.6" y="516.3" font-size="8.2" text-anchor="end" font-weight="normal" fill="#111" stroke="#111" stroke-width="0.16" >0.8</text>
<text x="439.6" y="619" font-size="8.0" text-anchor="middle" font-weight="normal" fill="#111" stroke="#111" stroke-width="0.16" >Time (ms)</text>
<g clip-path="url(#c536_235)">
<path d="M536.0 313.3L537.1 310.1L538.5 305.3L540.3 301.1L542.3 299.8L544.5 303.3L547.0 310.1L549.5 316.9L551.7 320.7L553.4 320.3L554.8 317.5L556.2 313.5L557.9 309.2L560.1 303.6L562.6 296.6L565.0 290.7L567.3 288.3L569.3 291.6L571.1 298.7L572.8 306.2L574.6 310.2L576.4 309.0L578.3 304.9L580.1 300.2L581.9 297.7L583.8 298.4L585.7 300.8L587.6 303.4L589.2 305.0L590.7 305.2L592.0 304.8L593.2 303.7L594.5 301.9L595.7 298.2L596.9 292.9L598.1 288.7L599.7 287.9L601.6 293.0L603.7 302.1L605.9 311.0L608.0 315.4L609.9 312.7L611.5 305.7L613.3 298.2L615.3 294.1L617.8 296.4L620.5 302.4L623.2 307.2L625.8 306.2L628.0 294.8L630.1 276.7L632.2 259.1L634.1 249.2L636.0 249.9L637.8 257.2L639.6 267.4L641.4 277.4L643.4 288.4L645.5 301.4L647.7 312.7L649.8 318.1L651.8 313.9L653.9 303.2L656.0 292.1L658.1 286.8L660.5 290.9L663.0 300.5L665.4 310.3L667.5 315.0L669.3 312.9L670.9 307.1L672.4 298.9L673.8 289.9L675.3 278.8L676.8 265.4L678.1 252.7L679.0 244.0L679.0 274.0L678.1 282.7L676.8 295.4L675.3 308.8L673.8 319.9L672.4 328.9L670.9 337.0L669.3 342.9L667.5 344.9L665.4 340.2L663.0 330.5L660.5 320.9L658.1 316.8L656.0 322.1L653.9 333.2L651.8 343.9L649.8 348.1L647.7 342.7L645.5 331.4L643.4 318.3L641.4 307.4L639.6 297.4L637.8 287.2L636.0 279.9L634.1 279.2L632.2 289.1L630.1 306.7L628.0 324.8L625.8 336.2L623.2 337.4L620.5 332.9L617.8 327.0L615.3 324.1L613.3 326.3L611.5 331.1L609.9 335.3L608.0 336.1L605.9 331.0L603.7 322.2L601.6 313.4L599.7 308.6L598.1 309.4L596.9 313.6L595.7 318.8L594.5 322.5L593.2 324.3L592.0 325.4L590.7 325.9L589.2 325.7L587.6 324.1L585.7 321.4L583.8 319.0L581.9 318.4L580.1 320.9L578.3 325.5L576.4 329.7L574.6 330.9L572.8 326.8L571.1 319.4L569.3 312.2L567.3 309.0L565.0 311.4L562.6 317.3L560.1 324.3L557.9 329.8L556.2 334.1L554.8 338.2L553.4 341.0L551.7 341.3L549.5 337.6L547.0 330.8L544.5 324.0L542.3 320.5L540.3 321.7L538.5 325.9L537.1 330.8L536.0 334.0Z" fill="#bfe9d9" fill-opacity="0.5" stroke="none"/>
<path d="M536.0 323.7L537.1 320.4L538.5 315.6L540.3 311.4L542.3 310.1L544.5 313.7L547.0 320.4L549.5 327.2L551.7 331.0L553.4 330.6L554.8 327.9L556.2 323.8L557.9 319.5L560.1 313.9L562.6 307.0L565.0 301.1L567.3 298.6L569.3 301.9L571.1 309.1L572.8 316.5L574.6 320.6L576.4 319.4L578.3 315.2L580.1 310.6L581.9 308.0L583.8 308.7L585.7 311.1L587.6 313.8L589.2 315.3L590.7 315.5L592.0 315.1L593.2 314.0L594.5 312.2L595.7 308.5L596.9 303.3L598.1 299.0L599.7 298.2L601.6 303.2L603.7 312.2L605.9 321.0L608.0 325.8L609.9 324.0L611.5 318.4L613.3 312.3L615.3 309.1L617.8 311.7L620.5 317.6L623.2 322.3L625.8 321.2L628.0 309.8L630.1 291.7L632.2 274.1L634.1 264.2L636.0 264.9L637.8 272.2L639.6 282.4L641.4 292.4L643.4 303.4L645.5 316.4L647.7 327.7L649.8 333.1L651.8 328.9L653.9 318.2L656.0 307.1L658.1 301.8L660.5 305.9L663.0 315.5L665.4 325.3L667.5 329.9L669.3 327.9L670.9 322.1L672.4 313.9L673.8 304.9L675.3 293.8L676.8 280.4L678.1 267.7L679.0 259.0" fill="none" stroke="#52bd98" stroke-width="1.1" stroke-opacity="1.0" stroke-linejoin="round" stroke-linecap="round"/>
<path d="M536.0 298.3L537.9 298.4L540.6 298.5L543.7 298.3L546.4 297.5L548.9 295.3L551.3 292.1L553.7 289.2L555.8 287.9L557.8 288.7L559.5 291.0L561.2 293.8L563.1 295.8L565.4 297.1L567.8 298.0L570.3 298.6L572.5 298.9L574.3 298.7L575.9 298.1L577.5 297.3L579.8 296.9L583.0 296.8L586.8 297.0L590.8 297.2L594.5 297.5L597.7 297.8L600.8 298.2L603.9 298.5L607.0 298.3L610.2 297.4L613.4 296.0L616.5 294.7L619.5 294.1L622.3 294.7L624.9 295.9L627.5 297.3L629.9 298.3L632.5 299.0L635.0 299.7L637.3 299.8L639.3 299.1L640.9 297.3L642.2 294.6L643.3 291.4L644.6 288.3L646.0 284.6L647.5 280.3L648.9 276.8L650.4 275.1L651.8 276.3L653.2 279.5L654.6 283.3L656.0 286.2L657.6 287.9L659.1 289.2L660.7 290.2L662.3 291.4L663.7 292.8L665.1 294.2L666.6 295.5L668.6 296.6L671.3 297.4L674.7 298.0L677.9 298.4L680.1 298.7L680.1 306.9L677.9 306.6L674.7 306.2L671.3 305.6L668.6 304.8L666.6 303.7L665.1 302.4L663.7 301.0L662.3 299.6L660.7 298.4L659.1 297.3L657.6 296.1L656.0 294.4L654.6 291.4L653.2 287.7L651.8 284.5L650.4 283.3L648.9 284.9L647.5 288.5L646.0 292.8L644.6 296.5L643.3 299.6L642.2 302.8L640.9 305.5L639.3 307.3L637.3 308.0L635.0 307.8L632.5 307.2L629.9 306.5L627.5 305.5L624.9 304.2L622.3 303.0L619.5 302.3L616.5 302.4L613.4 302.9L610.2 303.6L607.0 304.0L603.9 303.9L600.8 303.7L597.7 303.4L594.5 303.1L590.8 302.9L586.8 302.6L583.0 302.5L579.8 302.5L577.5 302.9L575.9 303.7L574.3 304.4L572.5 304.6L570.3 304.3L567.8 303.6L565.4 302.7L563.1 301.4L561.2 299.4L559.5 296.7L557.8 294.4L555.8 293.5L553.7 294.9L551.3 297.8L548.9 300.9L546.4 303.1L543.7 304.0L540.6 304.1L537.9 304.0L536.0 304.0Z" fill="#f9c0b4" fill-opacity="0.55" stroke="none"/>
<path d="M536.0 301.1L537.9 301.2L540.6 301.3L543.7 301.1L546.4 300.3L548.9 298.1L551.3 294.9L553.7 292.1L555.8 290.7L557.8 291.6L559.5 293.9L561.2 296.6L563.1 298.6L565.4 299.9L567.8 300.8L570.3 301.5L572.5 301.8L574.3 301.5L575.9 300.9L577.5 300.1L579.8 299.7L583.0 299.6L586.8 299.8L590.8 300.1L594.5 300.3L597.7 300.6L600.8 300.9L603.9 301.2L607.0 301.1L610.2 300.5L613.4 299.5L616.5 298.5L619.5 298.2L622.3 298.8L624.9 300.1L627.5 301.4L629.9 302.4L632.5 303.1L635.0 303.7L637.3 303.9L639.3 303.2L640.9 301.4L642.2 298.7L643.3 295.5L644.6 292.4L646.0 288.7L647.5 284.4L648.9 280.9L650.4 279.2L651.8 280.4L653.2 283.6L654.6 287.4L656.0 290.3L657.6 292.0L659.1 293.3L660.7 294.3L662.3 295.5L663.7 296.9L665.1 298.3L666.6 299.6L668.6 300.7L671.3 301.5L674.7 302.1L677.9 302.5L680.1 302.8" fill="none" stroke="#ef5a4a" stroke-width="1.1" stroke-opacity="1.0" stroke-linejoin="round" stroke-linecap="round"/>
</g>
<line x1="594.9" y1="235.5" x2="594.9" y2="346.5" stroke="#3a3a3a" stroke-width="1.0" stroke-dasharray="2.7,2.6"/>
<rect x="536.8" y="235.5" width="140.8" height="111" fill="none" stroke="#7a7a7a" stroke-width="0.9"/>
<path d="M548.94 346.5v-2.0M548.94 235.5v2.0M571.92 346.5v-2.0M571.92 235.5v2.0M594.9 346.5v-2.0M594.9 235.5v2.0M617.88 346.5v-2.0M617.88 235.5v2.0M640.86 346.5v-2.0M640.86 235.5v2.0M663.84 346.5v-2.0M663.84 235.5v2.0" stroke="#7a7a7a" stroke-width="0.8" fill="none"/>
<text x="548.94" y="354.9" font-size="8.2" text-anchor="middle" font-weight="normal" fill="#111" stroke="#111" stroke-width="0.16" >-200</text>
<text x="571.92" y="354.9" font-size="8.2" text-anchor="middle" font-weight="normal" fill="#111" stroke="#111" stroke-width="0.16" >-100</text>
<text x="594.9" y="354.9" font-size="8.2" text-anchor="middle" font-weight="normal" fill="#111" stroke="#111" stroke-width="0.16" >0</text>
<text x="617.88" y="354.9" font-size="8.2" text-anchor="middle" font-weight="normal" fill="#111" stroke="#111" stroke-width="0.16" >100</text>
<text x="640.86" y="354.9" font-size="8.2" text-anchor="middle" font-weight="normal" fill="#111" stroke="#111" stroke-width="0.16" >200</text>
<text x="663.84" y="354.9" font-size="8.2" text-anchor="middle" font-weight="normal" fill="#111" stroke="#111" stroke-width="0.16" >300</text>
<path d="M536.8 347.3h2.0M677.6 347.3h-2.0M536.8 323.8h2.0M677.6 323.8h-2.0M536.8 300.3h2.0M677.6 300.3h-2.0M536.8 276.8h2.0M677.6 276.8h-2.0M536.8 253.3h2.0M677.6 253.3h-2.0" stroke="#7a7a7a" stroke-width="0.8" fill="none"/>
<text x="535.8" y="347.4" font-size="8.2" text-anchor="end" font-weight="normal" fill="#111" stroke="#111" stroke-width="0.16" >0.40</text>
<text x="535.8" y="326.6" font-size="8.2" text-anchor="end" font-weight="normal" fill="#111" stroke="#111" stroke-width="0.16" >0.45</text>
<text x="535.8" y="303.1" font-size="8.2" text-anchor="end" font-weight="normal" fill="#111" stroke="#111" stroke-width="0.16" >0.50</text>
<text x="535.8" y="279.6" font-size="8.2" text-anchor="end" font-weight="normal" fill="#111" stroke="#111" stroke-width="0.16" >0.55</text>
<text x="535.8" y="256.1" font-size="8.2" text-anchor="end" font-weight="normal" fill="#111" stroke="#111" stroke-width="0.16" >0.60</text>
<text x="604.1" y="360.7" font-size="8.0" text-anchor="middle" font-weight="normal" fill="#111" stroke="#111" stroke-width="0.16" >Time (ms)</text>
<g clip-path="url(#c536_364)">
<path d="M536.0 457.5L537.5 457.5L539.5 457.3L541.9 457.3L544.4 457.5L546.9 458.6L549.6 460.3L552.3 461.6L554.8 461.7L557.0 459.7L558.9 456.2L560.9 452.9L563.1 451.3L565.9 452.5L568.9 455.6L571.9 458.5L574.6 459.6L577.0 457.8L579.3 454.2L581.3 450.3L583.0 447.5L584.2 446.2L585.1 445.7L586.0 445.7L587.1 446.1L588.7 447.0L590.5 448.6L592.5 450.3L594.5 451.7L596.5 453.1L598.7 454.7L600.8 455.6L602.8 455.5L604.4 453.7L605.8 450.7L607.3 447.2L609.1 443.9L611.4 440.8L614.1 437.6L616.9 434.5L619.5 431.4L621.9 428.3L624.3 425.2L626.6 422.4L628.9 419.9L631.3 418.3L633.9 417.2L636.2 416.0L638.3 413.6L639.9 409.8L641.1 405.0L642.2 399.8L643.5 394.8L645.0 389.7L646.6 384.3L648.2 379.5L649.8 376.1L651.3 374.7L652.9 374.7L654.5 375.3L656.0 375.4L657.6 374.4L659.1 372.8L660.7 372.0L662.3 373.3L664.1 378.0L666.0 385.0L667.9 392.4L669.6 398.0L671.1 401.1L672.4 402.9L673.6 404.2L674.8 405.9L676.3 408.3L677.8 411.0L679.1 413.4L680.1 415.1L680.1 422.3L679.1 420.6L677.8 418.2L676.3 415.6L674.8 413.1L673.6 411.5L672.4 410.1L671.1 408.3L669.6 405.2L667.9 399.6L666.0 392.3L664.1 385.2L662.3 380.6L660.7 379.2L659.1 380.0L657.6 381.6L656.0 382.6L654.5 382.5L652.9 381.9L651.3 381.9L649.8 383.3L648.2 386.7L646.6 391.5L645.0 396.9L643.5 402.1L642.2 407.1L641.1 412.2L639.9 417.0L638.3 420.9L636.2 423.2L633.9 424.4L631.3 425.5L628.9 427.1L626.6 429.6L624.3 432.5L621.9 435.5L619.5 438.6L616.9 441.7L614.1 445.0L611.4 448.2L609.1 451.1L607.3 454.0L605.8 456.8L604.4 459.1L602.8 460.4L600.8 460.5L598.7 459.5L596.5 458.1L594.5 456.7L592.5 455.2L590.5 453.5L588.7 452.0L587.1 451.0L586.0 450.7L585.1 450.7L584.2 451.2L583.0 452.5L581.3 455.3L579.3 459.2L577.0 462.8L574.6 464.6L571.9 463.5L568.9 460.5L565.9 457.5L563.1 456.3L560.9 457.9L558.9 461.2L557.0 464.7L554.8 466.7L552.3 466.6L549.6 465.3L546.9 463.6L544.4 462.5L541.9 462.2L539.5 462.3L537.5 462.4L536.0 462.5Z" fill="#bfe9d9" fill-opacity="0.5" stroke="none"/>
<path d="M536.0 460.0L537.5 459.9L539.5 459.8L541.9 459.7L544.4 460.0L546.9 461.1L549.6 462.8L552.3 464.1L554.8 464.2L557.0 462.2L558.9 458.7L560.9 455.4L563.1 453.8L565.9 455.0L568.9 458.1L571.9 461.0L574.6 462.1L577.0 460.3L579.3 456.7L581.3 452.8L583.0 450.0L584.2 448.7L585.1 448.2L586.0 448.2L587.1 448.6L588.7 449.5L590.5 451.0L592.5 452.8L594.5 454.2L596.5 455.6L598.7 457.1L600.8 458.1L602.8 458.0L604.4 456.4L605.8 453.8L607.3 450.6L609.1 447.5L611.4 444.5L614.1 441.3L616.9 438.1L619.5 435.0L621.9 431.9L624.3 428.9L626.6 426.0L628.9 423.5L631.3 421.9L633.9 420.8L636.2 419.6L638.3 417.2L639.9 413.4L641.1 408.6L642.2 403.4L643.5 398.5L645.0 393.3L646.6 387.9L648.2 383.1L649.8 379.7L651.3 378.3L652.9 378.3L654.5 378.9L656.0 379.0L657.6 378.0L659.1 376.4L660.7 375.6L662.3 377.0L664.1 381.6L666.0 388.6L667.9 396.0L669.6 401.6L671.1 404.7L672.4 406.5L673.6 407.8L674.8 409.5L676.3 411.9L677.8 414.6L679.1 417.0L680.1 418.7" fill="none" stroke="#52bd98" stroke-width="1.1" stroke-opacity="1.0" stroke-linejoin="round" stroke-linecap="round"/>
<path d="M536.0 452.7L537.0 453.1L538.5 453.6L540.3 454.0L542.3 454.2L544.5 453.9L547.0 453.3L549.7 452.7L552.7 452.3L556.1 452.3L559.7 452.4L563.6 452.6L567.3 452.7L571.0 452.8L574.8 452.9L578.4 453.0L581.9 453.2L585.3 453.6L588.6 454.1L591.7 454.6L594.5 454.8L596.7 454.7L598.6 454.3L600.5 453.8L602.8 453.4L605.7 453.0L609.1 452.7L612.4 452.5L615.3 452.2L617.8 452.3L620.0 452.5L621.9 452.5L623.7 451.8L625.2 450.4L626.5 448.5L627.7 446.1L628.9 443.5L630.2 440.2L631.4 436.5L632.7 432.8L634.1 429.9L635.6 428.0L637.2 426.8L638.8 425.8L640.4 424.7L641.9 423.2L643.5 421.7L645.1 420.3L646.6 419.5L648.2 419.3L649.7 419.7L651.3 420.3L652.9 420.5L654.6 420.4L656.4 420.3L658.3 419.9L660.2 419.0L662.3 417.3L664.5 415.0L666.7 412.8L668.6 411.5L670.1 411.3L671.3 411.9L672.5 412.9L673.8 414.2L675.4 416.1L677.2 418.6L678.9 421.0L680.1 422.6L680.1 428.6L678.9 427.0L677.2 424.6L675.4 422.1L673.8 420.3L672.5 418.9L671.3 417.9L670.1 417.4L668.6 417.5L666.7 418.8L664.5 421.0L662.3 423.4L660.2 425.1L658.3 425.9L656.4 426.3L654.6 426.5L652.9 426.5L651.3 426.3L649.7 425.8L648.2 425.4L646.6 425.5L645.1 426.3L643.5 427.7L641.9 429.2L640.4 430.7L638.8 431.8L637.2 432.8L635.6 434.0L634.1 435.9L632.7 438.8L631.4 442.5L630.2 446.3L628.9 449.5L627.7 452.1L626.5 454.5L625.2 456.4L623.7 457.8L621.9 458.5L620.0 458.6L617.8 458.4L615.3 458.2L612.4 458.1L609.1 457.8L605.7 457.6L602.8 457.5L600.5 457.8L598.6 458.3L596.7 458.8L594.5 459.0L591.7 458.8L588.6 458.3L585.3 457.7L581.9 457.3L578.4 457.1L574.8 457.0L571.0 457.0L567.3 456.9L563.6 456.7L559.7 456.5L556.1 456.4L552.7 456.5L549.7 456.9L547.0 457.5L544.5 458.1L542.3 458.4L540.3 458.2L538.5 457.7L537.0 457.2L536.0 456.9Z" fill="#f9c0b4" fill-opacity="0.55" stroke="none"/>
<path d="M536.0 454.8L537.0 455.2L538.5 455.7L540.3 456.1L542.3 456.3L544.5 456.0L547.0 455.4L549.7 454.8L552.7 454.4L556.1 454.3L559.7 454.5L563.6 454.7L567.3 454.8L571.0 454.9L574.8 455.0L578.4 455.0L581.9 455.2L585.3 455.6L588.6 456.2L591.7 456.7L594.5 456.9L596.7 456.7L598.6 456.3L600.5 455.8L602.8 455.4L605.7 455.3L609.1 455.3L612.4 455.3L615.3 455.2L617.8 455.3L620.0 455.5L621.9 455.5L623.7 454.8L625.2 453.4L626.5 451.5L627.7 449.1L628.9 446.5L630.2 443.2L631.4 439.5L632.7 435.8L634.1 432.9L635.6 431.0L637.2 429.8L638.8 428.8L640.4 427.7L641.9 426.2L643.5 424.7L645.1 423.3L646.6 422.5L648.2 422.3L649.7 422.7L651.3 423.3L652.9 423.5L654.6 423.5L656.4 423.3L658.3 422.9L660.2 422.0L662.3 420.4L664.5 418.0L666.7 415.8L668.6 414.5L670.1 414.4L671.3 414.9L672.5 415.9L673.8 417.2L675.4 419.1L677.2 421.6L678.9 424.0L680.1 425.6" fill="none" stroke="#ef5a4a" stroke-width="1.1" stroke-opacity="1.0" stroke-linejoin="round" stroke-linecap="round"/>
</g>
<line x1="594.4" y1="364.6" x2="594.4" y2="474.9" stroke="#3a3a3a" stroke-width="1.0" stroke-dasharray="2.7,2.6"/>
<rect x="536.6" y="364.6" width="141" height="110.3" fill="none" stroke="#7a7a7a" stroke-width="0.9"/>
<path d="M548.44 474.9v-2.0M548.44 364.6v2.0M571.42 474.9v-2.0M571.42 364.6v2.0M594.4 474.9v-2.0M594.4 364.6v2.0M617.38 474.9v-2.0M617.38 364.6v2.0M640.36 474.9v-2.0M640.36 364.6v2.0M663.34 474.9v-2.0M663.34 364.6v2.0" stroke="#7a7a7a" stroke-width="0.8" fill="none"/>
<text x="548.44" y="483.3" font-size="8.2" text-anchor="middle" font-weight="normal" fill="#111" stroke="#111" stroke-width="0.16" >-200</text>
<text x="571.42" y="483.3" font-size="8.2" text-anchor="middle" font-weight="normal" fill="#111" stroke="#111" stroke-width="0.16" >-100</text>
<text x="594.4" y="483.3" font-size="8.2" text-anchor="middle" font-weight="normal" fill="#111" stroke="#111" stroke-width="0.16" >0</text>
<text x="617.38" y="483.3" font-size="8.2" text-anchor="middle" font-weight="normal" fill="#111" stroke="#111" stroke-width="0.16" >100</text>
<text x="640.36" y="483.3" font-size="8.2" text-anchor="middle" font-weight="normal" fill="#111" stroke="#111" stroke-width="0.16" >200</text>
<text x="663.34" y="483.3" font-size="8.2" text-anchor="middle" font-weight="normal" fill="#111" stroke="#111" stroke-width="0.16" >300</text>
<path d="M536.6 475.56h2.0M677.6 475.56h-2.0M536.6 465.18h2.0M677.6 465.18h-2.0M536.6 454.8h2.0M677.6 454.8h-2.0M536.6 444.42h2.0M677.6 444.42h-2.0M536.6 434.04h2.0M677.6 434.04h-2.0M536.6 423.66h2.0M677.6 423.66h-2.0M536.6 413.28h2.0M677.6 413.28h-2.0M536.6 402.9h2.0M677.6 402.9h-2.0M536.6 392.52h2.0M677.6 392.52h-2.0M536.6 382.14h2.0M677.6 382.14h-2.0M536.6 371.76h2.0M677.6 371.76h-2.0" stroke="#7a7a7a" stroke-width="0.8" fill="none"/>
<text x="535.6" y="475.8" font-size="8.2" text-anchor="end" font-weight="normal" fill="#111" stroke="#111" stroke-width="0.16" >0.4</text>
<text x="535.6" y="457.6" font-size="8.2" text-anchor="end" font-weight="normal" fill="#111" stroke="#111" stroke-width="0.16" >0.5</text>
<text x="535.6" y="436.84" font-size="8.2" text-anchor="end" font-weight="normal" fill="#111" stroke="#111" stroke-width="0.16" >0.6</text>
<text x="535.6" y="416.08" font-size="8.2" text-anchor="end" font-weight="normal" fill="#111" stroke="#111" stroke-width="0.16" >0.7</text>
<text x="535.6" y="395.32" font-size="8.2" text-anchor="end" font-weight="normal" fill="#111" stroke="#111" stroke-width="0.16" >0.8</text>
<text x="535.6" y="374.56" font-size="8.2" text-anchor="end" font-weight="normal" fill="#111" stroke="#111" stroke-width="0.16" >0.9</text>
<text x="603.6" y="489.1" font-size="8.0" text-anchor="middle" font-weight="normal" fill="#111" stroke="#111" stroke-width="0.16" >Time (ms)</text>
<g clip-path="url(#c536_494)">
<path d="M536.0 579.2L537.1 578.7L538.5 577.9L540.3 577.2L542.3 577.2L544.4 578.1L546.9 579.8L549.4 581.5L551.7 582.4L553.6 582.0L555.4 580.9L557.1 579.8L559.0 579.2L561.0 579.7L563.1 580.6L565.2 581.7L567.3 582.4L569.4 582.5L571.4 582.3L573.5 582.2L575.7 582.4L578.0 583.4L580.4 584.9L582.8 586.1L585.1 586.6L587.3 585.6L589.5 583.6L591.6 581.6L593.4 580.3L594.9 580.2L596.2 580.8L597.3 581.4L598.6 581.3L600.1 580.0L601.6 578.0L603.2 576.1L604.9 575.1L606.8 575.4L608.9 576.5L611.0 578.0L613.2 579.2L615.6 580.4L618.1 581.8L620.6 582.7L622.6 582.3L624.2 580.1L625.5 576.7L626.7 572.7L627.9 568.7L629.2 564.5L630.5 559.9L631.8 555.7L633.1 553.1L634.4 553.0L635.6 554.6L636.9 556.2L638.3 556.2L639.8 553.8L641.3 549.9L642.9 545.5L644.6 541.6L646.4 538.4L648.3 535.3L650.2 532.3L651.9 529.1L653.1 525.5L654.1 521.7L655.0 517.9L656.0 514.5L657.2 511.0L658.5 507.7L659.9 504.8L661.3 503.0L662.8 502.5L664.3 503.2L665.9 504.2L667.5 505.1L669.1 505.6L670.7 506.2L672.2 506.7L673.8 507.1L675.5 507.5L677.3 507.8L678.9 508.0L680.1 508.2L680.1 515.4L678.9 515.2L677.3 515.0L675.5 514.7L673.8 514.4L672.2 513.9L670.7 513.4L669.1 512.8L667.5 512.3L665.9 511.4L664.3 510.4L662.8 509.7L661.3 510.2L659.9 512.0L658.5 514.9L657.2 518.2L656.0 521.7L655.0 525.1L654.1 528.9L653.1 532.7L651.9 536.3L650.2 539.5L648.3 542.5L646.4 545.6L644.6 548.8L642.9 552.7L641.3 557.1L639.8 561.0L638.3 563.4L636.9 563.4L635.6 561.8L634.4 560.2L633.1 560.3L631.8 562.9L630.5 567.1L629.2 571.7L627.9 575.9L626.7 579.9L625.5 583.9L624.2 587.3L622.6 589.5L620.6 590.0L618.1 589.2L615.6 587.8L613.2 586.4L611.0 584.7L608.9 582.6L606.8 580.8L604.9 580.0L603.2 580.9L601.6 582.8L600.1 585.0L598.6 586.3L597.3 586.4L596.2 585.8L594.9 585.2L593.4 585.3L591.6 586.6L589.5 588.6L587.3 590.5L585.1 591.5L582.8 591.1L580.4 589.8L578.0 588.3L575.7 587.3L573.5 587.1L571.4 587.3L569.4 587.5L567.3 587.3L565.2 586.6L563.1 585.6L561.0 584.6L559.0 584.2L557.1 584.8L555.4 585.9L553.6 587.0L551.7 587.3L549.4 586.5L546.9 584.8L544.4 583.1L542.3 582.1L540.3 582.2L538.5 582.8L537.1 583.7L536.0 584.2Z" fill="#bfe9d9" fill-opacity="0.5" stroke="none"/>
<path d="M536.0 581.7L537.1 581.2L538.5 580.4L540.3 579.7L542.3 579.6L544.4 580.6L546.9 582.3L549.4 584.0L551.7 584.9L553.6 584.5L555.4 583.4L557.1 582.3L559.0 581.7L561.0 582.1L563.1 583.1L565.2 584.2L567.3 584.9L569.4 585.0L571.4 584.8L573.5 584.6L575.7 584.9L578.0 585.9L580.4 587.3L582.8 588.6L585.1 589.0L587.3 588.0L589.5 586.1L591.6 584.1L593.4 582.8L594.9 582.7L596.2 583.3L597.3 583.9L598.6 583.8L600.1 582.5L601.6 580.4L603.2 578.5L604.9 577.6L606.8 578.1L608.9 579.6L611.0 581.3L613.2 582.8L615.6 584.1L618.1 585.5L620.6 586.3L622.6 585.9L624.2 583.7L625.5 580.3L626.7 576.3L627.9 572.3L629.2 568.1L630.5 563.5L631.8 559.3L633.1 556.7L634.4 556.6L635.6 558.2L636.9 559.8L638.3 559.8L639.8 557.4L641.3 553.5L642.9 549.1L644.6 545.2L646.4 542.0L648.3 538.9L650.2 535.9L651.9 532.7L653.1 529.1L654.1 525.3L655.0 521.5L656.0 518.1L657.2 514.6L658.5 511.3L659.9 508.4L661.3 506.6L662.8 506.1L664.3 506.8L665.9 507.8L667.5 508.7L669.1 509.2L670.7 509.8L672.2 510.3L673.8 510.7L675.5 511.1L677.3 511.4L678.9 511.6L680.1 511.8" fill="none" stroke="#52bd98" stroke-width="1.1" stroke-opacity="1.0" stroke-linejoin="round" stroke-linecap="round"/>
<path d="M536.0 564.4L536.1 564.9L536.2 565.4L536.5 566.3L537.0 567.6L538.0 569.7L539.2 572.5L540.6 575.1L542.3 577.0L544.2 577.7L546.4 577.7L548.6 577.4L550.6 577.0L552.3 576.4L553.8 575.4L555.3 574.7L556.9 574.5L558.6 575.3L560.3 577.0L562.2 578.4L564.2 578.6L566.4 577.0L568.9 574.2L571.3 571.4L573.6 569.7L575.6 569.7L577.4 570.7L579.1 572.0L580.9 572.8L582.7 573.0L584.6 572.9L586.4 572.6L588.2 572.4L589.9 572.1L591.5 571.6L593.0 571.2L594.5 570.7L595.8 570.0L596.9 569.0L598.2 568.4L599.7 568.6L601.5 570.4L603.7 573.3L605.9 576.0L608.0 577.0L610.2 575.1L612.4 571.4L614.5 567.7L616.4 565.9L617.9 566.8L619.1 569.4L620.3 572.4L621.6 574.2L623.1 574.8L624.7 574.7L626.3 574.1L627.9 573.2L629.4 572.2L631.0 570.9L632.6 568.9L634.1 565.9L635.7 561.3L637.3 555.6L638.8 549.5L640.4 544.0L641.9 539.1L643.5 534.4L645.0 530.1L646.6 526.2L648.4 522.7L650.2 519.5L652.1 516.8L654.0 514.7L655.8 513.4L657.7 512.7L659.5 512.5L661.3 512.7L662.9 513.3L664.5 514.4L666.0 515.7L667.5 516.8L669.1 517.7L670.7 518.4L672.2 519.2L673.8 520.0L675.5 520.9L677.3 521.9L678.9 522.9L680.1 523.5L680.1 534.3L678.9 533.7L677.3 532.7L675.5 531.7L673.8 530.8L672.2 530.0L670.7 529.2L669.1 528.5L667.5 527.6L666.0 526.5L664.5 525.2L662.9 524.1L661.3 523.5L659.5 523.3L657.7 523.5L655.8 524.2L654.0 525.5L652.1 527.6L650.2 530.3L648.4 533.5L646.6 537.0L645.0 540.9L643.5 545.3L641.9 549.9L640.4 554.8L638.8 560.3L637.3 566.4L635.7 572.1L634.1 576.7L632.6 579.7L631.0 581.7L629.4 583.0L627.9 584.0L626.3 584.9L624.7 585.5L623.1 585.6L621.6 585.0L620.3 583.2L619.1 580.5L617.9 577.9L616.4 576.7L614.5 577.9L612.4 580.6L610.2 583.2L608.0 584.4L605.9 583.2L603.7 580.6L601.5 577.8L599.7 576.1L598.2 575.9L596.9 576.5L595.8 577.4L594.5 578.2L593.0 578.6L591.5 579.1L589.9 579.5L588.2 579.8L586.4 580.1L584.6 580.3L582.7 580.4L580.9 580.2L579.1 579.4L577.4 578.1L575.6 577.1L573.6 577.1L571.3 578.8L568.9 581.7L566.4 584.5L564.2 586.1L562.2 585.8L560.3 584.4L558.6 582.8L556.9 581.9L555.3 582.1L553.8 582.9L552.3 583.8L550.6 584.4L548.6 584.8L546.4 585.2L544.2 585.1L542.3 584.4L540.6 582.6L539.2 579.9L538.0 577.1L537.0 575.0L536.5 573.7L536.2 572.9L536.1 572.3L536.0 571.9Z" fill="#f9c0b4" fill-opacity="0.55" stroke="none"/>
<path d="M536.0 568.2L536.1 568.6L536.2 569.1L536.5 570.0L537.0 571.3L538.0 573.4L539.2 576.2L540.6 578.9L542.3 580.7L544.2 581.4L546.4 581.4L548.6 581.1L550.6 580.7L552.3 580.1L553.8 579.2L555.3 578.4L556.9 578.2L558.6 579.1L560.3 580.7L562.2 582.1L564.2 582.4L566.4 580.8L568.9 577.9L571.3 575.1L573.6 573.4L575.6 573.4L577.4 574.4L579.1 575.7L580.9 576.5L582.7 576.7L584.6 576.6L586.4 576.4L588.2 576.1L589.9 575.8L591.5 575.4L593.0 574.9L594.5 574.4L595.8 573.7L596.9 572.8L598.2 572.1L599.7 572.3L601.5 574.1L603.7 577.0L605.9 579.6L608.0 580.7L610.2 579.2L612.4 576.0L614.5 572.8L616.4 571.3L617.9 572.4L619.1 574.9L620.3 577.8L621.6 579.6L623.1 580.2L624.7 580.1L626.3 579.5L627.9 578.6L629.4 577.6L631.0 576.3L632.6 574.3L634.1 571.3L635.7 566.7L637.3 561.0L638.8 554.9L640.4 549.4L641.9 544.5L643.5 539.8L645.0 535.5L646.6 531.6L648.4 528.1L650.2 524.9L652.1 522.2L654.0 520.1L655.8 518.8L657.7 518.1L659.5 517.9L661.3 518.1L662.9 518.7L664.5 519.8L666.0 521.1L667.5 522.2L669.1 523.1L670.7 523.8L672.2 524.6L673.8 525.4L675.5 526.3L677.3 527.3L678.9 528.3L680.1 528.9" fill="none" stroke="#ef5a4a" stroke-width="1.1" stroke-opacity="1.0" stroke-linejoin="round" stroke-linecap="round"/>
</g>
<line x1="594.4" y1="494.4" x2="594.4" y2="604.5" stroke="#3a3a3a" stroke-width="1.0" stroke-dasharray="2.7,2.6"/>
<rect x="536.6" y="494.4" width="141" height="110.1" fill="none" stroke="#7a7a7a" stroke-width="0.9"/>
<path d="M548.44 604.5v-2.0M548.44 494.4v2.0M571.42 604.5v-2.0M571.42 494.4v2.0M594.4 604.5v-2.0M594.4 494.4v2.0M617.38 604.5v-2.0M617.38 494.4v2.0M640.36 604.5v-2.0M640.36 494.4v2.0M663.34 604.5v-2.0M663.34 494.4v2.0" stroke="#7a7a7a" stroke-width="0.8" fill="none"/>
<text x="548.44" y="612.9" font-size="8.2" text-anchor="middle" font-weight="normal" fill="#111" stroke="#111" stroke-width="0.16" >-200</text>
<text x="571.42" y="612.9" font-size="8.2" text-anchor="middle" font-weight="normal" fill="#111" stroke="#111" stroke-width="0.16" >-100</text>
<text x="594.4" y="612.9" font-size="8.2" text-anchor="middle" font-weight="normal" fill="#111" stroke="#111" stroke-width="0.16" >0</text>
<text x="617.38" y="612.9" font-size="8.2" text-anchor="middle" font-weight="normal" fill="#111" stroke="#111" stroke-width="0.16" >100</text>
<text x="640.36" y="612.9" font-size="8.2" text-anchor="middle" font-weight="normal" fill="#111" stroke="#111" stroke-width="0.16" >200</text>
<text x="663.34" y="612.9" font-size="8.2" text-anchor="middle" font-weight="normal" fill="#111" stroke="#111" stroke-width="0.16" >300</text>
<path d="M536.6 604.5h2.0M677.6 604.5h-2.0M536.6 594.15h2.0M677.6 594.15h-2.0M536.6 583.8h2.0M677.6 583.8h-2.0M536.6 573.45h2.0M677.6 573.45h-2.0M536.6 563.1h2.0M677.6 563.1h-2.0M536.6 552.75h2.0M677.6 552.75h-2.0M536.6 542.4h2.0M677.6 542.4h-2.0M536.6 532.05h2.0M677.6 532.05h-2.0M536.6 521.7h2.0M677.6 521.7h-2.0M536.6 511.35h2.0M677.6 511.35h-2.0M536.6 501h2.0M677.6 501h-2.0" stroke="#7a7a7a" stroke-width="0.8" fill="none"/>
<text x="535.6" y="605.4" font-size="8.2" text-anchor="end" font-weight="normal" fill="#111" stroke="#111" stroke-width="0.16" >0.4</text>
<text x="535.6" y="586.6" font-size="8.2" text-anchor="end" font-weight="normal" fill="#111" stroke="#111" stroke-width="0.16" >0.5</text>
<text x="535.6" y="565.9" font-size="8.2" text-anchor="end" font-weight="normal" fill="#111" stroke="#111" stroke-width="0.16" >0.6</text>
<text x="535.6" y="545.2" font-size="8.2" text-anchor="end" font-weight="normal" fill="#111" stroke="#111" stroke-width="0.16" >0.7</text>
<text x="535.6" y="524.5" font-size="8.2" text-anchor="end" font-weight="normal" fill="#111" stroke="#111" stroke-width="0.16" >0.8</text>
<text x="535.6" y="503.8" font-size="8.2" text-anchor="end" font-weight="normal" fill="#111" stroke="#111" stroke-width="0.16" >0.9</text>
<text x="603.6" y="618.7" font-size="8.0" text-anchor="middle" font-weight="normal" fill="#111" stroke="#111" stroke-width="0.16" >Time (ms)</text>
<line x1="448.2" y1="242.1" x2="454.9" y2="242.1" stroke="#4a4a4a" stroke-width="1.4"/>
<line x1="457.6" y1="242.1" x2="502.1" y2="242.1" stroke="#4a4a4a" stroke-width="1.4"/>
<line x1="470.1" y1="368.2" x2="513.9" y2="368.2" stroke="#4a4a4a" stroke-width="1.4"/>
<line x1="619.9" y1="368.2" x2="631.4" y2="368.2" stroke="#4a4a4a" stroke-width="1.4"/>
<line x1="642.9" y1="368.2" x2="668" y2="368.2" stroke="#4a4a4a" stroke-width="1.4"/>
<line x1="444" y1="498.1" x2="453.5" y2="498.1" stroke="#4a4a4a" stroke-width="1.4"/>
<line x1="456" y1="498.1" x2="469.8" y2="498.1" stroke="#4a4a4a" stroke-width="1.4"/>
<line x1="472.1" y1="498.1" x2="483.8" y2="498.1" stroke="#4a4a4a" stroke-width="1.4"/>
<line x1="488.5" y1="498.1" x2="513.9" y2="498.1" stroke="#4a4a4a" stroke-width="1.4"/>
<rect x="376.4" y="238.4" width="13" height="29.4" fill="#fde0d6" stroke="#f2a494" stroke-width="0.7" />
<rect x="376.4" y="267.8" width="13" height="5.6" fill="#e3f6ee" stroke="#b8e6d4" stroke-width="0.7" />
<rect x="389.4" y="238.4" width="12.3" height="35" fill="#e6e6f7" stroke="#b8bce6" stroke-width="0.7" />
<text x="382.9" y="255.9" font-size="8.0" text-anchor="middle" font-weight="normal" fill="#111" stroke="#111" stroke-width="0.16" >88</text>
<text x="382.9" y="273.4" font-size="8.0" text-anchor="middle" font-weight="normal" fill="#111" stroke="#111" stroke-width="0.16" >16</text>
<text x="395.55" y="258.7" font-size="8.0" text-anchor="middle" font-weight="normal" fill="#111" stroke="#111" stroke-width="0.16" >105</text>
<rect x="377.6" y="366.6" width="12.8" height="11.8" fill="#fde0d6" stroke="#f2a494" stroke-width="0.7" />
<rect x="377.6" y="378.4" width="12.8" height="22" fill="#e3f6ee" stroke="#b8e6d4" stroke-width="0.7" />
<rect x="390.4" y="366.6" width="12.1" height="33.8" fill="#e6e6f7" stroke="#b8bce6" stroke-width="0.7" />
<text x="384" y="375.3" font-size="8.0" text-anchor="middle" font-weight="normal" fill="#111" stroke="#111" stroke-width="0.16" >77</text>
<text x="384" y="392.2" font-size="8.0" text-anchor="middle" font-weight="normal" fill="#111" stroke="#111" stroke-width="0.16" >222</text>
<text x="396.45" y="386.3" font-size="8.0" text-anchor="middle" font-weight="normal" fill="#111" stroke="#111" stroke-width="0.16" >77</text>
<rect x="377.3" y="497.6" width="12.1" height="10" fill="#fde0d6" stroke="#f2a494" stroke-width="0.7" />
<rect x="377.3" y="507.6" width="12.1" height="24.9" fill="#e3f6ee" stroke="#b8e6d4" stroke-width="0.7" />
<rect x="389.4" y="497.6" width="12.3" height="34.9" fill="#e6e6f7" stroke="#b8bce6" stroke-width="0.7" />
<text x="383.35" y="505.4" font-size="8.0" text-anchor="middle" font-weight="normal" fill="#111" stroke="#111" stroke-width="0.16" >44</text>
<text x="383.35" y="522.85" font-size="8.0" text-anchor="middle" font-weight="normal" fill="#111" stroke="#111" stroke-width="0.16" >118</text>
<text x="395.55" y="517.85" font-size="8.0" text-anchor="middle" font-weight="normal" fill="#111" stroke="#111" stroke-width="0.16" >44</text>
<rect x="542.6" y="238.4" width="24.9" height="27.6" fill="#fde0d6" stroke="#f2a494" stroke-width="0.7" />
<rect x="542.6" y="266" width="24.9" height="7.8" fill="#e3f6ee" stroke="#b8e6d4" stroke-width="0.7" />
<line x1="554.9" y1="238.4" x2="554.9" y2="273.8" stroke="#f0a090" stroke-width="0.6"/>
<text x="548.75" y="255" font-size="8.0" text-anchor="middle" font-weight="normal" fill="#111" stroke="#111" stroke-width="0.16" >60</text>
<text x="561.2" y="255" font-size="8.0" text-anchor="middle" font-weight="normal" fill="#111" stroke="#111" stroke-width="0.16" >123</text>
<text x="548.75" y="272.7" font-size="8.0" text-anchor="middle" font-weight="normal" fill="#111" stroke="#111" stroke-width="0.16" >20</text>
<text x="561.2" y="272.7" font-size="8.0" text-anchor="middle" font-weight="normal" fill="#111" stroke="#111" stroke-width="0.16" >39</text>
<rect x="542.6" y="367.9" width="24.9" height="23.6" fill="#fde0d6" stroke="#f2a494" stroke-width="0.7" />
<rect x="542.6" y="391.5" width="24.9" height="11" fill="#e3f6ee" stroke="#b8e6d4" stroke-width="0.7" />
<line x1="554.9" y1="367.9" x2="554.9" y2="402.5" stroke="#f0a090" stroke-width="0.6"/>
<text x="548.75" y="382.5" font-size="8.0" text-anchor="middle" font-weight="normal" fill="#111" stroke="#111" stroke-width="0.16" >55</text>
<text x="561.2" y="382.5" font-size="8.0" text-anchor="middle" font-weight="normal" fill="#111" stroke="#111" stroke-width="0.16" >116</text>
<text x="548.75" y="399.8" font-size="8.0" text-anchor="middle" font-weight="normal" fill="#111" stroke="#111" stroke-width="0.16" >25</text>
<text x="561.2" y="399.8" font-size="8.0" text-anchor="middle" font-weight="normal" fill="#111" stroke="#111" stroke-width="0.16" >46</text>
<rect x="542.6" y="498.4" width="24.9" height="12.3" fill="#fde0d6" stroke="#f2a494" stroke-width="0.7" />
<rect x="542.6" y="510.7" width="24.9" height="22.3" fill="#e3f6ee" stroke="#b8e6d4" stroke-width="0.7" />
<line x1="554.9" y1="498.4" x2="554.9" y2="533" stroke="#f0a090" stroke-width="0.6"/>
<text x="548.75" y="507.35" font-size="8.0" text-anchor="middle" font-weight="normal" fill="#111" stroke="#111" stroke-width="0.16" >20</text>
<text x="561.2" y="507.35" font-size="8.0" text-anchor="middle" font-weight="normal" fill="#111" stroke="#111" stroke-width="0.16" >55</text>
<text x="548.75" y="524.65" font-size="8.0" text-anchor="middle" font-weight="normal" fill="#111" stroke="#111" stroke-width="0.16" >40</text>
<text x="561.2" y="524.65" font-size="8.0" text-anchor="middle" font-weight="normal" fill="#111" stroke="#111" stroke-width="0.16" >65</text>
<rect x="170.9" y="624.9" width="122.9" height="12.1" fill="#8080d0" stroke="none" stroke-width="0.8" />
<rect x="176.9" y="626.8" width="113.9" height="7.9" fill="#e0e0f6" stroke="none" stroke-width="0.8" />
<text x="233.85" y="632.6" font-size="8.0" text-anchor="middle" font-weight="normal" fill="#111" stroke="#111" stroke-width="0.16" >Scrambled (non-target stimulus)</text>
<rect x="300.2" y="624.9" width="122.6" height="12.1" fill="#a6e4ce" stroke="none" stroke-width="0.8" />
<rect x="306.2" y="626.8" width="113.6" height="7.9" fill="#edfaf5" stroke="none" stroke-width="0.8" />
<text x="363" y="632.6" font-size="8.0" text-anchor="middle" font-weight="normal" fill="#111" stroke="#111" stroke-width="0.16" >Perceived target stimulus</text>
<rect x="430.2" y="624.9" width="123.1" height="12.1" fill="#f7907c" stroke="none" stroke-width="0.8" />
<rect x="436.2" y="626.8" width="114.1" height="7.9" fill="#fde5dd" stroke="none" stroke-width="0.8" />
<text x="493.25" y="632.6" font-size="8.0" text-anchor="middle" font-weight="normal" fill="#111" stroke="#111" stroke-width="0.16" >Non-perceived target stimulus</text>
</svg>
</body></html>
